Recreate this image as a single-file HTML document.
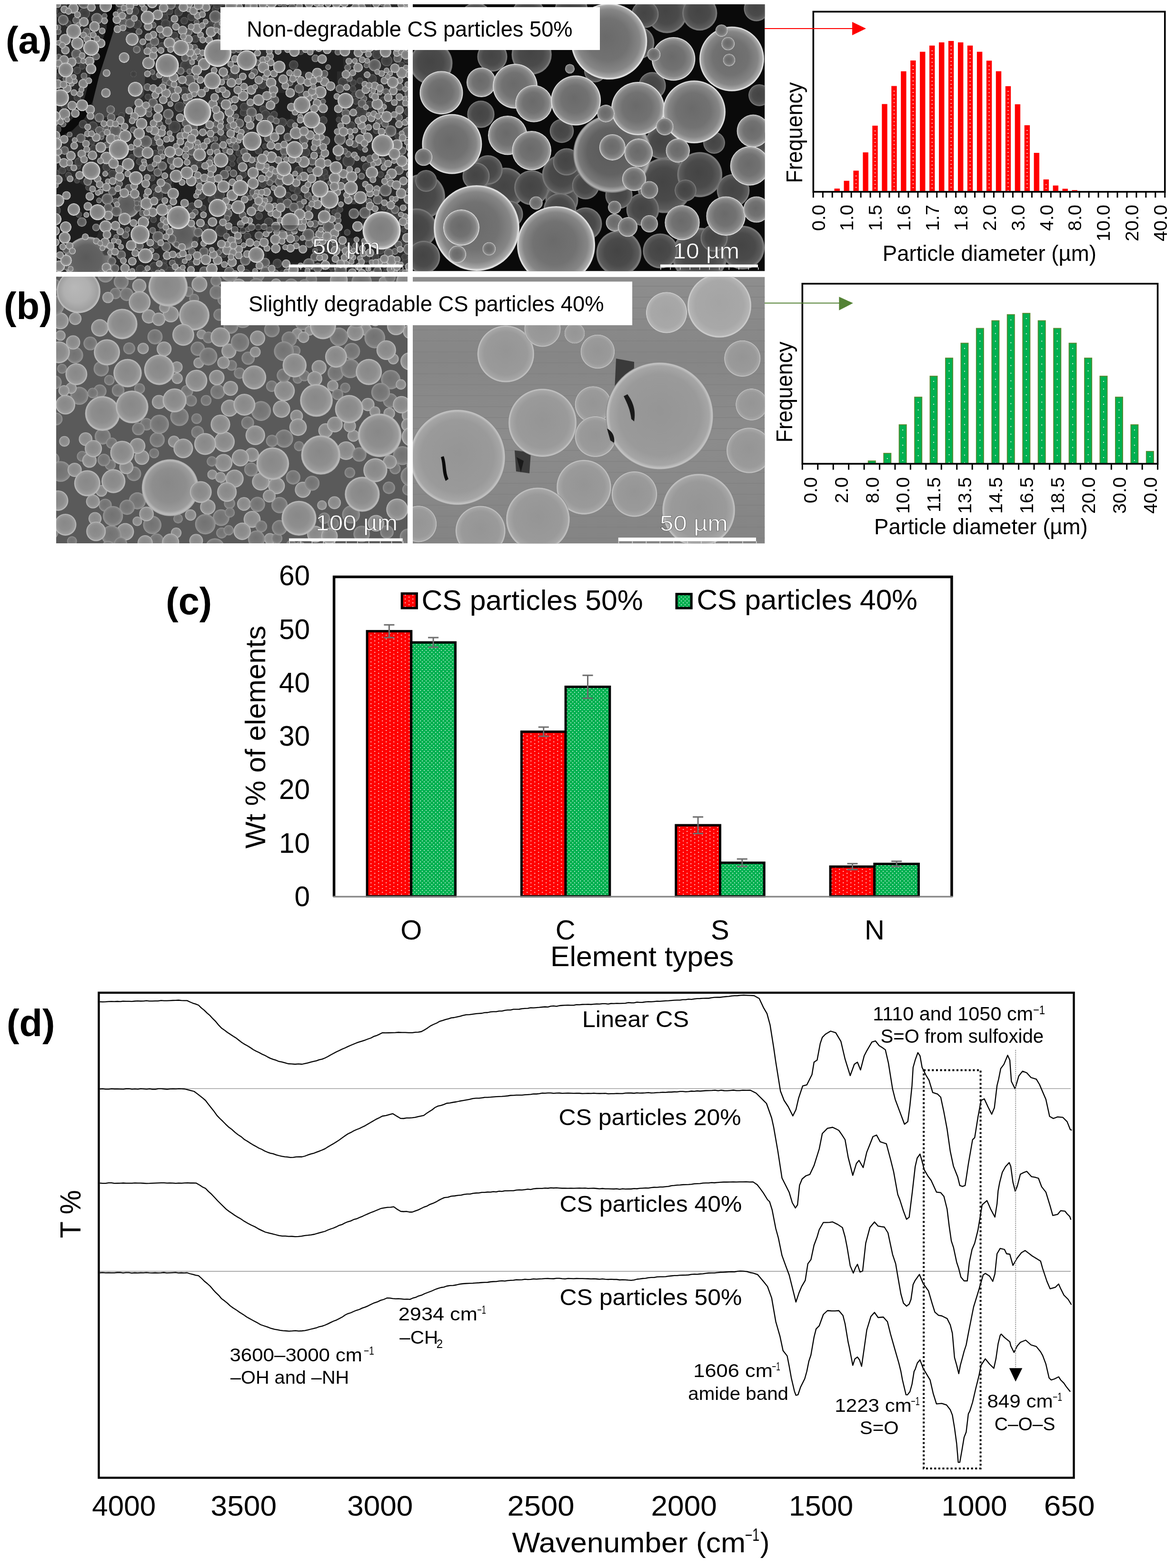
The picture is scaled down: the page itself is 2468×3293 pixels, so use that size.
<!DOCTYPE html>
<html><head><meta charset="utf-8"><title>Figure</title>
<style>html,body{margin:0;padding:0;background:#fff;width:2468px;height:3293px;overflow:hidden}svg{display:block}</style>
</head><body>
<svg width="2468" height="3293" viewBox="0 0 2468 3293" font-family="'Liberation Sans', Arial, sans-serif">
<defs>
<radialGradient id="gA" cx="0.5" cy="0.5" r="0.5" fx="0.45" fy="0.42">
 <stop offset="0" stop-color="#7e7e7e"/><stop offset="0.6" stop-color="#868686"/>
 <stop offset="0.82" stop-color="#9c9c9c"/><stop offset="0.92" stop-color="#c4c4c4"/><stop offset="0.97" stop-color="#f2f2f2"/><stop offset="1" stop-color="#9a9a9a"/>
</radialGradient>
<radialGradient id="gA2" cx="0.5" cy="0.5" r="0.5" fx="0.45" fy="0.42">
 <stop offset="0" stop-color="#5a5a5a"/><stop offset="0.6" stop-color="#626262"/>
 <stop offset="0.86" stop-color="#7a7a7a"/><stop offset="0.96" stop-color="#b0b0b0"/><stop offset="1" stop-color="#6a6a6a"/>
</radialGradient>
<radialGradient id="gAd" cx="0.5" cy="0.5" r="0.5">
 <stop offset="0" stop-color="#3c3c3c"/><stop offset="0.8" stop-color="#464646"/><stop offset="0.95" stop-color="#666"/><stop offset="1" stop-color="#3a3a3a"/>
</radialGradient>
<radialGradient id="gS" cx="0.5" cy="0.5" r="0.5" fx="0.46" fy="0.44">
 <stop offset="0" stop-color="#6a6a6a"/><stop offset="0.55" stop-color="#727272"/>
 <stop offset="0.82" stop-color="#868686"/><stop offset="0.94" stop-color="#a8a8a8"/><stop offset="0.985" stop-color="#ececec"/><stop offset="1" stop-color="#bdbdbd"/>
</radialGradient>
<radialGradient id="gSd" cx="0.5" cy="0.5" r="0.5" fx="0.46" fy="0.44">
 <stop offset="0" stop-color="#444444"/><stop offset="0.6" stop-color="#4a4a4a"/>
 <stop offset="0.88" stop-color="#5c5c5c"/><stop offset="0.97" stop-color="#808080"/><stop offset="1" stop-color="#5a5a5a"/>
</radialGradient>
<radialGradient id="gB" cx="0.5" cy="0.5" r="0.5" fx="0.45" fy="0.4">
 <stop offset="0" stop-color="#888"/><stop offset="0.6" stop-color="#8e8e8e"/>
 <stop offset="0.86" stop-color="#9c9c9c"/><stop offset="0.95" stop-color="#bcbcbc"/><stop offset="1" stop-color="#a8a8a8"/>
</radialGradient>
<radialGradient id="gBb" cx="0.5" cy="0.5" r="0.5" fx="0.4" fy="0.4">
 <stop offset="0" stop-color="#b8b8b8"/><stop offset="0.6" stop-color="#b0b0b0"/>
 <stop offset="0.9" stop-color="#a0a0a0"/><stop offset="1" stop-color="#c8c8c8"/>
</radialGradient>
<radialGradient id="gBd" cx="0.5" cy="0.5" r="0.5" fx="0.45" fy="0.4">
 <stop offset="0" stop-color="#727272"/><stop offset="0.7" stop-color="#7a7a7a"/>
 <stop offset="0.9" stop-color="#8a8a8a"/><stop offset="1" stop-color="#a0a0a0"/>
</radialGradient>
<radialGradient id="gC" cx="0.5" cy="0.5" r="0.5" fx="0.5" fy="0.45">
 <stop offset="0" stop-color="#959595"/><stop offset="0.75" stop-color="#9a9a9a"/>
 <stop offset="0.92" stop-color="#a6a6a6"/><stop offset="0.975" stop-color="#c6c6c6"/><stop offset="1" stop-color="#7a7a7a"/>
</radialGradient>
<radialGradient id="gCl" cx="0.5" cy="0.5" r="0.5" fx="0.5" fy="0.45">
 <stop offset="0" stop-color="#a4a4a4"/><stop offset="0.75" stop-color="#a8a8a8"/>
 <stop offset="0.93" stop-color="#b4b4b4"/><stop offset="0.98" stop-color="#d2d2d2"/><stop offset="1" stop-color="#8a8a8a"/>
</radialGradient>
<linearGradient id="gStripe" x1="0" y1="0" x2="0" y2="1">
 <stop offset="0" stop-color="#8e8e8e"/><stop offset="0.3" stop-color="#868686"/><stop offset="0.6" stop-color="#8c8c8c"/><stop offset="1" stop-color="#848484"/>
</linearGradient>

<pattern id="pR" width="16" height="8" patternUnits="userSpaceOnUse"><rect width="16" height="8" fill="#ff0000"/><rect x="2" y="1" width="2.4" height="2" fill="#ffb0b0"/><rect x="10" y="5" width="2.4" height="2" fill="#ffb0b0"/></pattern>
<pattern id="pG" width="8" height="8" patternUnits="userSpaceOnUse"><rect width="8" height="8" fill="#00b050"/><rect x="2" y="1" width="2.2" height="2" fill="#a8e4c0"/><rect x="6" y="5" width="2.2" height="2" fill="#a8e4c0"/></pattern>
</defs>
<rect width="2468" height="3293" fill="#fff"/>
<g><clipPath id="cA1"><rect x="118.5" y="9" width="738.5" height="562"/></clipPath>
<g clip-path="url(#cA1)">
<rect x="118.5" y="9" width="738.5" height="562" fill="#2a2a2a"/>
<polygon points="240.0,60.0 292.0,72.0 308.0,122.0 302.0,200.0 262.0,240.0 196.0,250.0 195.0,212.0 208.0,160.0 224.0,110.0" fill="#464646"/>
<polygon points="224.0,9.0 243.0,9.0 240.0,60.0 224.0,110.0 208.0,160.0 195.0,212.0 178.0,248.0 152.0,274.0 118.0,290.0 118.0,274.0 140.0,262.0 163.0,238.0 178.0,205.0 191.0,155.0 207.0,108.0 224.0,60.0" fill="#0a0a0a"/>
<polygon points="118.0,380.0 160.0,380.0 205.0,405.0 215.0,470.0 195.0,515.0 118.0,515.0" fill="#1e1e1e"/>
<polygon points="570.0,110.0 720.0,110.0 722.0,150.0 570.0,150.0" fill="#1e1e1e"/>
<polygon points="682.0,150.0 708.0,150.0 706.0,340.0 684.0,340.0" fill="#1e1e1e"/>
<polygon points="580.0,195.0 610.0,195.0 610.0,250.0 580.0,250.0" fill="#1e1e1e"/>
<polygon points="560.0,524.0 660.0,524.0 660.0,552.0 560.0,552.0" fill="#1e1e1e"/>
<polygon points="716.0,430.0 760.0,430.0 760.0,500.0 716.0,500.0" fill="#1e1e1e"/>
<polygon points="365.0,385.0 410.0,385.0 412.0,432.0 366.0,432.0" fill="#1e1e1e"/>
<circle cx="267.5" cy="432.3" r="25.7" fill="url(#gA2)"/>
<circle cx="385.8" cy="494.8" r="31.2" fill="url(#gA2)"/>
<circle cx="185.0" cy="548.0" r="51.0" fill="url(#gA2)"/>
<circle cx="431.3" cy="477.0" r="7.0" fill="url(#gAd)"/>
<circle cx="756.1" cy="169.7" r="7.0" fill="url(#gAd)"/>
<circle cx="523.5" cy="39.9" r="6.0" fill="url(#gAd)"/>
<circle cx="804.7" cy="210.8" r="8.0" fill="url(#gAd)"/>
<circle cx="426.5" cy="437.1" r="7.0" fill="url(#gAd)"/>
<circle cx="851.9" cy="394.5" r="9.0" fill="url(#gAd)"/>
<circle cx="853.0" cy="550.3" r="9.0" fill="url(#gAd)"/>
<circle cx="293.5" cy="339.4" r="8.0" fill="url(#gAd)"/>
<circle cx="501.5" cy="321.7" r="7.0" fill="url(#gAd)"/>
<circle cx="452.0" cy="19.9" r="7.0" fill="url(#gAd)"/>
<circle cx="769.6" cy="542.9" r="8.0" fill="url(#gAd)"/>
<circle cx="857.6" cy="235.0" r="9.0" fill="url(#gAd)"/>
<circle cx="366.5" cy="266.4" r="13.0" fill="url(#gAd)"/>
<circle cx="322.4" cy="461.4" r="7.0" fill="url(#gAd)"/>
<circle cx="848.4" cy="482.8" r="6.0" fill="url(#gAd)"/>
<circle cx="386.1" cy="192.1" r="10.0" fill="url(#gAd)"/>
<circle cx="355.7" cy="23.7" r="8.0" fill="url(#gAd)"/>
<circle cx="468.8" cy="291.6" r="8.0" fill="url(#gAd)"/>
<circle cx="552.7" cy="229.4" r="8.0" fill="url(#gAd)"/>
<circle cx="732.1" cy="338.1" r="13.0" fill="url(#gAd)"/>
<circle cx="624.6" cy="400.6" r="8.0" fill="url(#gAd)"/>
<circle cx="177.2" cy="27.9" r="12.0" fill="url(#gAd)"/>
<circle cx="746.4" cy="47.9" r="12.0" fill="url(#gAd)"/>
<circle cx="132.1" cy="6.1" r="10.0" fill="url(#gAd)"/>
<circle cx="806.2" cy="436.2" r="6.0" fill="url(#gAd)"/>
<circle cx="676.9" cy="372.6" r="8.0" fill="url(#gAd)"/>
<circle cx="859.4" cy="261.4" r="7.0" fill="url(#gAd)"/>
<circle cx="506.0" cy="337.4" r="9.0" fill="url(#gAd)"/>
<circle cx="283.2" cy="23.5" r="9.0" fill="url(#gAd)"/>
<circle cx="115.6" cy="164.0" r="9.0" fill="url(#gAd)"/>
<circle cx="714.8" cy="39.5" r="8.0" fill="url(#gAd)"/>
<circle cx="672.8" cy="518.0" r="9.0" fill="url(#gAd)"/>
<circle cx="799.5" cy="366.6" r="7.0" fill="url(#gAd)"/>
<circle cx="847.2" cy="509.3" r="7.0" fill="url(#gAd)"/>
<circle cx="162.0" cy="147.9" r="8.0" fill="url(#gAd)"/>
<circle cx="375.3" cy="25.4" r="9.0" fill="url(#gAd)"/>
<circle cx="339.3" cy="482.9" r="6.0" fill="url(#gAd)"/>
<circle cx="144.0" cy="368.0" r="7.0" fill="url(#gAd)"/>
<circle cx="627.1" cy="416.5" r="8.0" fill="url(#gAd)"/>
<circle cx="162.5" cy="204.7" r="8.0" fill="url(#gAd)"/>
<circle cx="361.1" cy="50.6" r="8.0" fill="url(#gAd)"/>
<circle cx="114.8" cy="23.3" r="7.0" fill="url(#gAd)"/>
<circle cx="511.3" cy="236.2" r="8.0" fill="url(#gAd)"/>
<circle cx="772.2" cy="12.7" r="8.0" fill="url(#gAd)"/>
<circle cx="464.9" cy="484.3" r="13.0" fill="url(#gAd)"/>
<circle cx="406.6" cy="338.8" r="11.0" fill="url(#gAd)"/>
<circle cx="615.9" cy="70.9" r="7.0" fill="url(#gAd)"/>
<circle cx="490.6" cy="159.4" r="10.0" fill="url(#gAd)"/>
<circle cx="797.3" cy="34.1" r="6.0" fill="url(#gAd)"/>
<circle cx="627.4" cy="357.6" r="9.0" fill="url(#gAd)"/>
<circle cx="345.1" cy="36.9" r="9.0" fill="url(#gAd)"/>
<circle cx="745.0" cy="197.8" r="7.0" fill="url(#gAd)"/>
<circle cx="391.1" cy="138.5" r="13.0" fill="url(#gAd)"/>
<circle cx="195.3" cy="264.9" r="10.0" fill="url(#gAd)"/>
<circle cx="592.4" cy="256.9" r="10.0" fill="url(#gAd)"/>
<circle cx="276.9" cy="330.8" r="7.0" fill="url(#gAd)"/>
<circle cx="116.7" cy="442.0" r="11.0" fill="url(#gAd)"/>
<circle cx="516.6" cy="575.0" r="10.0" fill="url(#gAd)"/>
<circle cx="687.8" cy="518.3" r="11.0" fill="url(#gAd)"/>
<circle cx="552.3" cy="386.2" r="8.0" fill="url(#gAd)"/>
<circle cx="402.2" cy="35.3" r="9.0" fill="url(#gAd)"/>
<circle cx="513.0" cy="224.6" r="9.0" fill="url(#gAd)"/>
<circle cx="353.8" cy="383.1" r="7.0" fill="url(#gAd)"/>
<circle cx="646.9" cy="27.1" r="6.0" fill="url(#gAd)"/>
<circle cx="374.8" cy="547.2" r="10.0" fill="url(#gAd)"/>
<circle cx="464.3" cy="211.6" r="7.0" fill="url(#gAd)"/>
<circle cx="856.1" cy="433.3" r="7.0" fill="url(#gAd)"/>
<circle cx="354.4" cy="209.5" r="7.0" fill="url(#gAd)"/>
<circle cx="741.9" cy="173.5" r="7.0" fill="url(#gAd)"/>
<circle cx="510.5" cy="366.5" r="8.0" fill="url(#gAd)"/>
<circle cx="582.5" cy="553.3" r="10.0" fill="url(#gAd)"/>
<circle cx="475.8" cy="22.1" r="6.0" fill="url(#gAd)"/>
<circle cx="355.4" cy="569.4" r="10.0" fill="url(#gAd)"/>
<circle cx="552.7" cy="86.3" r="13.0" fill="url(#gAd)"/>
<circle cx="551.3" cy="178.0" r="9.0" fill="url(#gAd)"/>
<circle cx="741.2" cy="186.6" r="7.0" fill="url(#gAd)"/>
<circle cx="681.2" cy="362.3" r="8.0" fill="url(#gAd)"/>
<circle cx="781.8" cy="165.7" r="10.0" fill="url(#gAd)"/>
<circle cx="424.2" cy="410.2" r="9.0" fill="url(#gAd)"/>
<circle cx="295.1" cy="565.9" r="10.0" fill="url(#gAd)"/>
<circle cx="272.2" cy="33.8" r="8.0" fill="url(#gAd)"/>
<circle cx="124.9" cy="157.9" r="6.0" fill="url(#gAd)"/>
<circle cx="588.5" cy="421.9" r="7.0" fill="url(#gAd)"/>
<circle cx="377.2" cy="224.4" r="11.0" fill="url(#gAd)"/>
<circle cx="604.8" cy="410.0" r="7.0" fill="url(#gAd)"/>
<circle cx="331.7" cy="410.4" r="11.0" fill="url(#gAd)"/>
<circle cx="222.6" cy="529.0" r="8.0" fill="url(#gAd)"/>
<circle cx="325.7" cy="321.6" r="7.0" fill="url(#gAd)"/>
<circle cx="402.1" cy="555.2" r="8.0" fill="url(#gAd)"/>
<circle cx="324.4" cy="561.1" r="11.0" fill="url(#gAd)"/>
<circle cx="236.0" cy="365.6" r="9.0" fill="url(#gAd)"/>
<circle cx="224.1" cy="350.9" r="9.0" fill="url(#gAd)"/>
<circle cx="134.7" cy="222.7" r="7.0" fill="url(#gAd)"/>
<circle cx="600.9" cy="87.0" r="9.0" fill="url(#gAd)"/>
<circle cx="791.6" cy="114.1" r="10.0" fill="url(#gAd)"/>
<circle cx="830.9" cy="453.4" r="8.0" fill="url(#gAd)"/>
<circle cx="812.3" cy="127.4" r="12.0" fill="url(#gAd)"/>
<circle cx="440.9" cy="53.0" r="9.0" fill="url(#gAd)"/>
<circle cx="366.5" cy="74.5" r="8.0" fill="url(#gAd)"/>
<circle cx="790.3" cy="274.4" r="7.0" fill="url(#gAd)"/>
<circle cx="340.4" cy="96.6" r="8.0" fill="url(#gAd)"/>
<circle cx="542.8" cy="316.3" r="8.0" fill="url(#gAd)"/>
<circle cx="769.6" cy="350.7" r="9.0" fill="url(#gAd)"/>
<circle cx="444.2" cy="419.5" r="8.0" fill="url(#gAd)"/>
<circle cx="174.4" cy="260.8" r="9.0" fill="url(#gAd)"/>
<circle cx="720.8" cy="172.8" r="11.0" fill="url(#gAd)"/>
<circle cx="614.3" cy="395.4" r="7.0" fill="url(#gAd)"/>
<circle cx="193.0" cy="297.7" r="7.0" fill="url(#gAd)"/>
<circle cx="441.3" cy="6.1" r="7.0" fill="url(#gAd)"/>
<circle cx="116.2" cy="575.1" r="8.0" fill="url(#gAd)"/>
<circle cx="611.1" cy="259.3" r="9.0" fill="url(#gAd)"/>
<circle cx="131.0" cy="357.8" r="8.0" fill="url(#gAd)"/>
<circle cx="310.9" cy="203.4" r="7.0" fill="url(#gAd)"/>
<circle cx="465.3" cy="78.9" r="8.0" fill="url(#gAd)"/>
<circle cx="419.1" cy="345.9" r="7.0" fill="url(#gAd)"/>
<circle cx="758.1" cy="234.5" r="13.0" fill="url(#gAd)"/>
<circle cx="487.1" cy="331.6" r="8.0" fill="url(#gAd)"/>
<circle cx="466.7" cy="4.3" r="8.0" fill="url(#gAd)"/>
<circle cx="830.9" cy="62.5" r="10.0" fill="url(#gAd)"/>
<circle cx="743.1" cy="422.5" r="6.0" fill="url(#gAd)"/>
<circle cx="853.7" cy="127.1" r="6.0" fill="url(#gAd)"/>
<circle cx="641.5" cy="319.7" r="10.0" fill="url(#gAd)"/>
<circle cx="403.4" cy="433.9" r="9.0" fill="url(#gAd)"/>
<circle cx="849.9" cy="539.7" r="7.0" fill="url(#gAd)"/>
<circle cx="125.7" cy="32.2" r="6.0" fill="url(#gAd)"/>
<circle cx="718.9" cy="66.4" r="9.0" fill="url(#gAd)"/>
<circle cx="564.3" cy="466.7" r="10.0" fill="url(#gAd)"/>
<circle cx="556.3" cy="307.0" r="6.0" fill="url(#gAd)"/>
<circle cx="788.7" cy="540.6" r="8.0" fill="url(#gAd)"/>
<circle cx="469.5" cy="534.3" r="7.0" fill="url(#gAd)"/>
<circle cx="387.0" cy="43.6" r="8.0" fill="url(#gAd)"/>
<circle cx="711.3" cy="251.2" r="6.0" fill="url(#gAd)"/>
<circle cx="678.9" cy="252.9" r="9.0" fill="url(#gAd)"/>
<circle cx="372.3" cy="10.1" r="7.0" fill="url(#gAd)"/>
<circle cx="324.7" cy="161.2" r="7.0" fill="url(#gAd)"/>
<circle cx="616.8" cy="136.4" r="10.0" fill="url(#gAd)"/>
<circle cx="197.4" cy="312.6" r="9.0" fill="url(#gAd)"/>
<circle cx="163.9" cy="350.2" r="6.0" fill="url(#gAd)"/>
<circle cx="631.3" cy="107.7" r="8.0" fill="url(#gAd)"/>
<circle cx="515.8" cy="409.3" r="6.0" fill="url(#gAd)"/>
<circle cx="460.1" cy="408.8" r="12.0" fill="url(#gAd)"/>
<circle cx="600.6" cy="70.9" r="12.0" fill="url(#gAd)"/>
<circle cx="529.0" cy="345.0" r="7.0" fill="url(#gAd)"/>
<circle cx="575.7" cy="241.0" r="8.0" fill="url(#gAd)"/>
<circle cx="699.1" cy="561.4" r="9.0" fill="url(#gAd)"/>
<circle cx="810.5" cy="573.8" r="8.0" fill="url(#gAd)"/>
<circle cx="120.8" cy="271.9" r="8.0" fill="url(#gAd)"/>
<circle cx="115.2" cy="364.9" r="10.0" fill="url(#gAd)"/>
<circle cx="517.0" cy="271.7" r="7.0" fill="url(#gAd)"/>
<circle cx="670.1" cy="315.7" r="7.0" fill="url(#gAd)"/>
<circle cx="751.6" cy="124.9" r="7.0" fill="url(#gAd)"/>
<circle cx="345.6" cy="548.8" r="6.0" fill="url(#gAd)"/>
<circle cx="750.3" cy="95.6" r="10.0" fill="url(#gAd)"/>
<circle cx="324.8" cy="393.9" r="7.0" fill="url(#gAd)"/>
<circle cx="519.8" cy="496.6" r="8.0" fill="url(#gAd)"/>
<circle cx="744.7" cy="561.8" r="6.0" fill="url(#gAd)"/>
<circle cx="161.7" cy="379.6" r="6.0" fill="url(#gAd)"/>
<circle cx="142.9" cy="49.2" r="7.0" fill="url(#gAd)"/>
<circle cx="591.9" cy="573.0" r="6.0" fill="url(#gAd)"/>
<circle cx="798.7" cy="526.5" r="8.0" fill="url(#gAd)"/>
<circle cx="757.5" cy="308.9" r="7.0" fill="url(#gAd)"/>
<circle cx="488.1" cy="344.3" r="6.0" fill="url(#gAd)"/>
<circle cx="347.8" cy="50.4" r="10.0" fill="url(#gAd)"/>
<circle cx="280.5" cy="155.5" r="7.0" fill="url(#gAd)"/>
<circle cx="434.4" cy="272.3" r="8.0" fill="url(#gAd)"/>
<circle cx="334.0" cy="6.4" r="6.0" fill="url(#gAd)"/>
<circle cx="343.8" cy="560.1" r="9.0" fill="url(#gAd)"/>
<circle cx="473.3" cy="267.5" r="7.0" fill="url(#gAd)"/>
<circle cx="569.7" cy="91.6" r="7.0" fill="url(#gAd)"/>
<circle cx="736.8" cy="264.6" r="10.0" fill="url(#gAd)"/>
<circle cx="634.3" cy="197.6" r="8.0" fill="url(#gAd)"/>
<circle cx="557.7" cy="240.7" r="10.0" fill="url(#gAd)"/>
<circle cx="165.4" cy="450.4" r="7.0" fill="url(#gAd)"/>
<circle cx="589.4" cy="479.7" r="6.0" fill="url(#gAd)"/>
<circle cx="456.5" cy="10.7" r="9.0" fill="url(#gAd)"/>
<circle cx="575.5" cy="276.3" r="6.0" fill="url(#gAd)"/>
<circle cx="319.3" cy="373.8" r="7.0" fill="url(#gAd)"/>
<circle cx="544.3" cy="453.8" r="8.0" fill="url(#gAd)"/>
<circle cx="410.2" cy="81.8" r="8.0" fill="url(#gAd)"/>
<circle cx="186.1" cy="393.7" r="7.0" fill="url(#gAd)"/>
<circle cx="373.3" cy="177.1" r="6.0" fill="url(#gAd)"/>
<circle cx="288.0" cy="51.0" r="10.0" fill="url(#gAd)"/>
<circle cx="172.3" cy="105.2" r="9.0" fill="url(#gAd)"/>
<circle cx="165.4" cy="340.1" r="9.0" fill="url(#gAd)"/>
<circle cx="526.9" cy="224.2" r="6.0" fill="url(#gAd)"/>
<circle cx="776.1" cy="219.5" r="8.0" fill="url(#gAd)"/>
<circle cx="410.1" cy="502.4" r="7.0" fill="url(#gAd)"/>
<circle cx="595.7" cy="6.2" r="8.0" fill="url(#gAd)"/>
<circle cx="843.5" cy="136.5" r="7.0" fill="url(#gAd)"/>
<circle cx="327.4" cy="515.3" r="7.0" fill="url(#gAd)"/>
<circle cx="747.4" cy="212.9" r="7.0" fill="url(#gAd)"/>
<circle cx="714.0" cy="439.9" r="7.0" fill="url(#gAd)"/>
<circle cx="723.3" cy="377.0" r="6.0" fill="url(#gAd)"/>
<circle cx="182.2" cy="321.6" r="6.0" fill="url(#gAd)"/>
<circle cx="700.1" cy="570.4" r="6.0" fill="url(#gAd)"/>
<circle cx="396.8" cy="443.6" r="7.0" fill="url(#gAd)"/>
<circle cx="685.6" cy="371.0" r="6.0" fill="url(#gAd)"/>
<circle cx="729.4" cy="488.1" r="7.0" fill="url(#gAd)"/>
<circle cx="810.3" cy="562.0" r="6.0" fill="url(#gAd)"/>
<circle cx="323.3" cy="297.2" r="9.0" fill="url(#gAd)"/>
<circle cx="255.2" cy="242.7" r="7.0" fill="url(#gAd)"/>
<circle cx="835.7" cy="286.0" r="7.0" fill="url(#gAd)"/>
<circle cx="740.1" cy="133.8" r="7.0" fill="url(#gAd)"/>
<circle cx="840.6" cy="217.0" r="10.0" fill="url(#gAd)"/>
<circle cx="400.1" cy="326.8" r="6.0" fill="url(#gAd)"/>
<circle cx="657.6" cy="479.2" r="7.0" fill="url(#gAd)"/>
<circle cx="818.9" cy="444.0" r="7.0" fill="url(#gAd)"/>
<circle cx="702.1" cy="445.2" r="6.0" fill="url(#gAd)"/>
<circle cx="145.4" cy="353.1" r="6.0" fill="url(#gAd)"/>
<circle cx="172.7" cy="139.1" r="7.0" fill="url(#gAd)"/>
<circle cx="820.6" cy="275.2" r="12.0" fill="url(#gA2)"/>
<circle cx="649.9" cy="511.4" r="9.0" fill="url(#gA2)"/>
<circle cx="324.5" cy="87.3" r="10.0" fill="url(#gA2)"/>
<circle cx="603.7" cy="427.2" r="10.0" fill="url(#gA2)"/>
<circle cx="160.1" cy="42.5" r="8.0" fill="url(#gA2)"/>
<circle cx="515.2" cy="546.8" r="11.0" fill="url(#gA2)"/>
<circle cx="656.0" cy="101.2" r="7.0" fill="url(#gA2)"/>
<circle cx="717.2" cy="87.6" r="11.0" fill="url(#gA2)"/>
<circle cx="428.3" cy="528.9" r="10.0" fill="url(#gA2)"/>
<circle cx="242.5" cy="274.8" r="13.0" fill="url(#gA2)"/>
<circle cx="203.6" cy="39.3" r="12.0" fill="url(#gA2)"/>
<circle cx="452.1" cy="309.0" r="10.0" fill="url(#gA2)"/>
<circle cx="340.1" cy="74.0" r="7.0" fill="url(#gA2)"/>
<circle cx="176.4" cy="159.5" r="7.0" fill="url(#gA2)"/>
<circle cx="292.0" cy="66.6" r="7.0" fill="url(#gA2)"/>
<circle cx="299.3" cy="448.0" r="7.0" fill="url(#gA2)"/>
<circle cx="225.4" cy="418.2" r="12.0" fill="url(#gA2)"/>
<circle cx="638.2" cy="293.2" r="10.0" fill="url(#gA2)"/>
<circle cx="289.2" cy="436.7" r="8.0" fill="url(#gA2)"/>
<circle cx="667.3" cy="562.1" r="10.0" fill="url(#gA2)"/>
<circle cx="403.1" cy="528.3" r="8.0" fill="url(#gA2)"/>
<circle cx="361.5" cy="189.6" r="9.0" fill="url(#gA2)"/>
<circle cx="861.1" cy="341.0" r="9.0" fill="url(#gA2)"/>
<circle cx="327.3" cy="539.2" r="8.0" fill="url(#gA2)"/>
<circle cx="524.6" cy="415.6" r="6.0" fill="url(#gA2)"/>
<circle cx="208.8" cy="274.1" r="9.0" fill="url(#gA2)"/>
<circle cx="408.7" cy="99.7" r="7.0" fill="url(#gA2)"/>
<circle cx="169.8" cy="290.3" r="10.0" fill="url(#gA2)"/>
<circle cx="490.3" cy="364.1" r="8.0" fill="url(#gA2)"/>
<circle cx="208.7" cy="247.2" r="10.0" fill="url(#gA2)"/>
<circle cx="747.1" cy="515.9" r="7.0" fill="url(#gA2)"/>
<circle cx="648.7" cy="554.5" r="12.0" fill="url(#gA2)"/>
<circle cx="685.2" cy="60.9" r="8.0" fill="url(#gA2)"/>
<circle cx="308.8" cy="456.2" r="6.0" fill="url(#gA2)"/>
<circle cx="839.4" cy="182.3" r="8.0" fill="url(#gA2)"/>
<circle cx="219.7" cy="33.7" r="6.0" fill="url(#gA2)"/>
<circle cx="774.9" cy="423.1" r="7.0" fill="url(#gA2)"/>
<circle cx="810.8" cy="192.3" r="7.0" fill="url(#gA2)"/>
<circle cx="835.3" cy="122.6" r="9.0" fill="url(#gA2)"/>
<circle cx="212.8" cy="288.0" r="6.0" fill="url(#gA2)"/>
<circle cx="474.0" cy="315.5" r="7.0" fill="url(#gA2)"/>
<circle cx="428.7" cy="569.4" r="10.0" fill="url(#gA2)"/>
<circle cx="769.8" cy="137.2" r="6.0" fill="url(#gA2)"/>
<circle cx="258.8" cy="47.0" r="10.0" fill="url(#gA2)"/>
<circle cx="693.6" cy="384.2" r="6.0" fill="url(#gA2)"/>
<circle cx="661.6" cy="526.8" r="6.0" fill="url(#gA2)"/>
<circle cx="726.4" cy="237.9" r="9.0" fill="url(#gA2)"/>
<circle cx="236.0" cy="401.8" r="9.0" fill="url(#gA2)"/>
<circle cx="416.3" cy="488.1" r="10.0" fill="url(#gA2)"/>
<circle cx="490.4" cy="106.3" r="6.0" fill="url(#gA2)"/>
<circle cx="714.0" cy="292.5" r="12.0" fill="url(#gA2)"/>
<circle cx="132.9" cy="42.0" r="11.0" fill="url(#gA2)"/>
<circle cx="661.5" cy="470.2" r="8.0" fill="url(#gA2)"/>
<circle cx="829.5" cy="528.0" r="7.0" fill="url(#gA2)"/>
<circle cx="331.3" cy="361.9" r="9.0" fill="url(#gA2)"/>
<circle cx="479.1" cy="354.4" r="6.0" fill="url(#gA2)"/>
<circle cx="345.1" cy="175.8" r="6.0" fill="url(#gA2)"/>
<circle cx="371.6" cy="85.1" r="6.0" fill="url(#gA2)"/>
<circle cx="557.0" cy="551.5" r="10.0" fill="url(#gA2)"/>
<circle cx="820.0" cy="76.6" r="11.0" fill="url(#gA2)"/>
<circle cx="359.0" cy="10.1" r="10.0" fill="url(#gA2)"/>
<circle cx="520.2" cy="96.0" r="8.0" fill="url(#gA2)"/>
<circle cx="270.8" cy="395.5" r="9.0" fill="url(#gA2)"/>
<circle cx="733.2" cy="522.1" r="7.0" fill="url(#gA2)"/>
<circle cx="273.0" cy="49.0" r="10.0" fill="url(#gA2)"/>
<circle cx="597.4" cy="15.8" r="6.0" fill="url(#gA2)"/>
<circle cx="184.2" cy="381.0" r="9.0" fill="url(#gA2)"/>
<circle cx="528.4" cy="236.2" r="11.0" fill="url(#gA2)"/>
<circle cx="534.2" cy="151.6" r="8.0" fill="url(#gA2)"/>
<circle cx="251.8" cy="23.6" r="6.0" fill="url(#gA2)"/>
<circle cx="486.1" cy="302.7" r="7.0" fill="url(#gA2)"/>
<circle cx="558.0" cy="572.1" r="12.0" fill="url(#gA2)"/>
<circle cx="647.6" cy="493.3" r="13.0" fill="url(#gA2)"/>
<circle cx="457.6" cy="54.2" r="9.0" fill="url(#gA2)"/>
<circle cx="759.4" cy="370.0" r="7.0" fill="url(#gA2)"/>
<circle cx="306.5" cy="297.6" r="13.0" fill="url(#gA2)"/>
<circle cx="463.7" cy="526.0" r="6.0" fill="url(#gA2)"/>
<circle cx="312.9" cy="239.5" r="7.0" fill="url(#gA2)"/>
<circle cx="744.8" cy="302.4" r="8.0" fill="url(#gA2)"/>
<circle cx="543.8" cy="494.8" r="9.0" fill="url(#gA2)"/>
<circle cx="502.6" cy="259.0" r="10.0" fill="url(#gA2)"/>
<circle cx="122.1" cy="66.4" r="7.0" fill="url(#gA2)"/>
<circle cx="188.7" cy="73.6" r="6.0" fill="url(#gA2)"/>
<circle cx="402.9" cy="317.8" r="9.0" fill="url(#gA2)"/>
<circle cx="235.0" cy="548.6" r="9.0" fill="url(#gA2)"/>
<circle cx="320.6" cy="483.9" r="7.0" fill="url(#gA2)"/>
<circle cx="337.9" cy="310.8" r="8.0" fill="url(#gA2)"/>
<circle cx="244.6" cy="443.8" r="11.0" fill="url(#gA2)"/>
<circle cx="160.7" cy="113.6" r="11.0" fill="url(#gA2)"/>
<circle cx="349.1" cy="518.2" r="10.0" fill="url(#gA2)"/>
<circle cx="340.8" cy="348.7" r="10.0" fill="url(#gA2)"/>
<circle cx="846.7" cy="42.6" r="12.0" fill="url(#gA2)"/>
<circle cx="316.3" cy="352.3" r="8.0" fill="url(#gA2)"/>
<circle cx="569.0" cy="250.4" r="8.0" fill="url(#gA2)"/>
<circle cx="733.8" cy="164.8" r="7.0" fill="url(#gA2)"/>
<circle cx="809.8" cy="399.6" r="13.0" fill="url(#gA2)"/>
<circle cx="452.4" cy="35.1" r="13.0" fill="url(#gA2)"/>
<circle cx="731.1" cy="323.8" r="7.0" fill="url(#gA2)"/>
<circle cx="723.8" cy="317.6" r="7.0" fill="url(#gA2)"/>
<circle cx="790.1" cy="98.1" r="8.0" fill="url(#gA2)"/>
<circle cx="648.4" cy="436.9" r="7.0" fill="url(#gA2)"/>
<circle cx="139.1" cy="524.7" r="8.0" fill="url(#gA2)"/>
<circle cx="766.5" cy="446.9" r="12.0" fill="url(#gA2)"/>
<circle cx="410.0" cy="445.8" r="7.0" fill="url(#gA2)"/>
<circle cx="803.0" cy="337.7" r="7.0" fill="url(#gA2)"/>
<circle cx="320.0" cy="151.3" r="6.0" fill="url(#gA2)"/>
<circle cx="244.1" cy="497.8" r="6.0" fill="url(#gA2)"/>
<circle cx="510.2" cy="484.2" r="7.0" fill="url(#gA2)"/>
<circle cx="597.2" cy="318.0" r="9.0" fill="url(#gA2)"/>
<circle cx="764.3" cy="207.2" r="7.0" fill="url(#gA2)"/>
<circle cx="309.9" cy="183.1" r="8.0" fill="url(#gA2)"/>
<circle cx="496.0" cy="244.4" r="6.0" fill="url(#gA2)"/>
<circle cx="793.4" cy="419.6" r="10.0" fill="url(#gA2)"/>
<circle cx="459.1" cy="530.7" r="6.0" fill="url(#gA2)"/>
<circle cx="353.7" cy="254.7" r="7.0" fill="url(#gA2)"/>
<circle cx="227.3" cy="437.0" r="10.0" fill="url(#gA2)"/>
<circle cx="608.5" cy="489.1" r="9.0" fill="url(#gA2)"/>
<circle cx="398.6" cy="168.4" r="12.0" fill="url(#gA2)"/>
<circle cx="515.5" cy="21.4" r="7.0" fill="url(#gA2)"/>
<circle cx="655.8" cy="338.6" r="9.0" fill="url(#gA2)"/>
<circle cx="756.1" cy="197.6" r="10.0" fill="url(#gA2)"/>
<circle cx="702.5" cy="512.9" r="6.0" fill="url(#gA2)"/>
<circle cx="844.4" cy="316.4" r="9.0" fill="url(#gA2)"/>
<circle cx="740.1" cy="413.9" r="6.0" fill="url(#gA2)"/>
<circle cx="630.4" cy="430.7" r="9.0" fill="url(#gA2)"/>
<circle cx="539.9" cy="131.7" r="7.0" fill="url(#gA2)"/>
<circle cx="481.8" cy="571.3" r="11.0" fill="url(#gA2)"/>
<circle cx="614.0" cy="17.1" r="9.0" fill="url(#gA2)"/>
<circle cx="787.2" cy="137.0" r="13.0" fill="url(#gA2)"/>
<circle cx="574.6" cy="373.7" r="10.0" fill="url(#gA2)"/>
<circle cx="254.5" cy="535.4" r="10.0" fill="url(#gA2)"/>
<circle cx="710.2" cy="462.7" r="7.0" fill="url(#gA2)"/>
<circle cx="451.9" cy="271.9" r="8.0" fill="url(#gA2)"/>
<circle cx="690.8" cy="477.0" r="13.0" fill="url(#gA2)"/>
<circle cx="580.4" cy="254.1" r="7.0" fill="url(#gA2)"/>
<circle cx="396.6" cy="67.1" r="8.0" fill="url(#gA2)"/>
<circle cx="715.4" cy="570.6" r="13.0" fill="url(#gA2)"/>
<circle cx="777.4" cy="333.9" r="9.0" fill="url(#gA2)"/>
<circle cx="211.5" cy="575.3" r="7.0" fill="url(#gA2)"/>
<circle cx="287.3" cy="104.0" r="8.0" fill="url(#gA2)"/>
<circle cx="646.5" cy="410.4" r="8.0" fill="url(#gA2)"/>
<circle cx="587.5" cy="381.6" r="10.0" fill="url(#gA2)"/>
<circle cx="628.5" cy="186.1" r="10.0" fill="url(#gA2)"/>
<circle cx="321.5" cy="215.9" r="10.0" fill="url(#gA2)"/>
<circle cx="123.3" cy="120.0" r="7.0" fill="url(#gA2)"/>
<circle cx="391.8" cy="213.1" r="7.0" fill="url(#gA2)"/>
<circle cx="730.2" cy="142.1" r="7.0" fill="url(#gA2)"/>
<circle cx="843.7" cy="571.8" r="6.0" fill="url(#gA2)"/>
<circle cx="452.3" cy="291.8" r="6.0" fill="url(#gA2)"/>
<circle cx="857.4" cy="195.6" r="8.0" fill="url(#gA2)"/>
<circle cx="662.4" cy="122.6" r="8.0" fill="url(#gA2)"/>
<circle cx="263.3" cy="493.3" r="8.0" fill="url(#gA2)"/>
<circle cx="251.1" cy="6.7" r="9.0" fill="url(#gA2)"/>
<circle cx="537.7" cy="434.8" r="9.0" fill="url(#gA2)"/>
<circle cx="332.1" cy="497.5" r="12.0" fill="url(#gA2)"/>
<circle cx="442.6" cy="292.1" r="7.0" fill="url(#gA2)"/>
<circle cx="795.3" cy="255.6" r="7.0" fill="url(#gA2)"/>
<circle cx="313.7" cy="229.8" r="6.0" fill="url(#gA2)"/>
<circle cx="122.5" cy="57.6" r="6.0" fill="url(#gA2)"/>
<circle cx="471.3" cy="366.8" r="10.0" fill="url(#gA2)"/>
<circle cx="348.2" cy="395.0" r="12.0" fill="url(#gA2)"/>
<circle cx="146.3" cy="282.6" r="6.0" fill="url(#gA2)"/>
<circle cx="684.3" cy="41.3" r="8.0" fill="url(#gA2)"/>
<circle cx="135.8" cy="315.9" r="9.0" fill="url(#gA2)"/>
<circle cx="793.0" cy="569.1" r="9.0" fill="url(#gA2)"/>
<circle cx="243.0" cy="422.5" r="7.0" fill="url(#gA2)"/>
<circle cx="836.8" cy="513.7" r="8.0" fill="url(#gA2)"/>
<circle cx="321.6" cy="52.6" r="7.0" fill="url(#gA2)"/>
<circle cx="838.1" cy="246.9" r="8.0" fill="url(#gA2)"/>
<circle cx="181.9" cy="66.4" r="8.0" fill="url(#gA2)"/>
<circle cx="114.4" cy="140.2" r="8.0" fill="url(#gA2)"/>
<circle cx="359.6" cy="336.9" r="9.0" fill="url(#gA2)"/>
<circle cx="399.6" cy="121.4" r="6.0" fill="url(#gA2)"/>
<circle cx="709.8" cy="109.4" r="7.0" fill="url(#gA2)"/>
<circle cx="860.1" cy="400.5" r="7.0" fill="url(#gA2)"/>
<circle cx="806.8" cy="29.6" r="8.0" fill="url(#gA2)"/>
<circle cx="353.6" cy="239.7" r="11.0" fill="url(#gA2)"/>
<circle cx="442.3" cy="333.2" r="6.0" fill="url(#gA2)"/>
<circle cx="816.3" cy="531.6" r="10.0" fill="url(#gA2)"/>
<circle cx="495.3" cy="308.6" r="8.0" fill="url(#gA2)"/>
<circle cx="379.6" cy="149.1" r="8.0" fill="url(#gA2)"/>
<circle cx="858.8" cy="523.3" r="12.0" fill="url(#gA2)"/>
<circle cx="829.8" cy="440.1" r="9.0" fill="url(#gA2)"/>
<circle cx="385.9" cy="274.4" r="6.0" fill="url(#gA2)"/>
<circle cx="760.4" cy="217.4" r="9.0" fill="url(#gA2)"/>
<circle cx="508.8" cy="43.2" r="9.0" fill="url(#gA2)"/>
<circle cx="542.5" cy="477.2" r="7.0" fill="url(#gA2)"/>
<circle cx="838.0" cy="357.4" r="10.0" fill="url(#gA2)"/>
<circle cx="171.9" cy="466.3" r="10.0" fill="url(#gA2)"/>
<circle cx="337.9" cy="473.1" r="7.0" fill="url(#gA2)"/>
<circle cx="337.6" cy="320.0" r="6.0" fill="url(#gA2)"/>
<circle cx="617.3" cy="435.4" r="10.0" fill="url(#gA2)"/>
<circle cx="776.3" cy="44.8" r="6.0" fill="url(#gA2)"/>
<circle cx="233.6" cy="246.7" r="9.0" fill="url(#gA2)"/>
<circle cx="604.5" cy="288.1" r="9.0" fill="url(#gA2)"/>
<circle cx="678.7" cy="213.0" r="6.0" fill="url(#gA2)"/>
<circle cx="397.8" cy="150.0" r="6.0" fill="url(#gA2)"/>
<circle cx="288.6" cy="418.7" r="8.0" fill="url(#gA2)"/>
<circle cx="335.7" cy="260.6" r="7.0" fill="url(#gA2)"/>
<circle cx="689.2" cy="140.9" r="6.0" fill="url(#gA2)"/>
<circle cx="512.8" cy="318.7" r="8.0" fill="url(#gA2)"/>
<circle cx="201.8" cy="477.7" r="8.0" fill="url(#gA2)"/>
<circle cx="481.4" cy="265.6" r="7.0" fill="url(#gA2)"/>
<circle cx="713.8" cy="186.2" r="9.0" fill="url(#gA2)"/>
<circle cx="687.4" cy="441.6" r="6.0" fill="url(#gA2)"/>
<circle cx="313.4" cy="97.2" r="7.0" fill="url(#gA2)"/>
<circle cx="618.0" cy="414.2" r="7.0" fill="url(#gA2)"/>
<circle cx="478.8" cy="448.7" r="9.0" fill="url(#gA2)"/>
<circle cx="609.1" cy="174.1" r="7.0" fill="url(#gA2)"/>
<circle cx="861.9" cy="220.5" r="8.0" fill="url(#gA2)"/>
<circle cx="176.4" cy="5.1" r="13.0" fill="url(#gA2)"/>
<circle cx="251.1" cy="386.3" r="7.0" fill="url(#gA2)"/>
<circle cx="360.4" cy="501.5" r="10.0" fill="url(#gA2)"/>
<circle cx="710.5" cy="330.7" r="6.0" fill="url(#gA2)"/>
<circle cx="709.4" cy="453.2" r="7.0" fill="url(#gA2)"/>
<circle cx="267.5" cy="482.2" r="6.0" fill="url(#gA2)"/>
<circle cx="652.8" cy="416.6" r="6.0" fill="url(#gA2)"/>
<circle cx="849.4" cy="21.8" r="9.0" fill="url(#gA2)"/>
<circle cx="855.8" cy="278.3" r="12.0" fill="url(#gA2)"/>
<circle cx="565.5" cy="418.5" r="7.0" fill="url(#gA2)"/>
<circle cx="587.6" cy="7.1" r="6.0" fill="url(#gA2)"/>
<circle cx="388.4" cy="121.5" r="8.0" fill="url(#gA2)"/>
<circle cx="280.1" cy="273.0" r="7.0" fill="url(#gA2)"/>
<circle cx="287.7" cy="426.8" r="6.0" fill="url(#gA2)"/>
<circle cx="808.9" cy="260.1" r="8.0" fill="url(#gA2)"/>
<circle cx="801.4" cy="47.4" r="8.0" fill="url(#gA2)"/>
<circle cx="690.4" cy="24.3" r="9.0" fill="url(#gA2)"/>
<circle cx="224.2" cy="304.2" r="7.0" fill="url(#gA2)"/>
<circle cx="348.0" cy="167.2" r="8.0" fill="url(#gA2)"/>
<circle cx="661.0" cy="539.8" r="9.0" fill="url(#gA2)"/>
<circle cx="528.7" cy="249.9" r="6.0" fill="url(#gA2)"/>
<circle cx="371.1" cy="513.0" r="6.0" fill="url(#gA2)"/>
<circle cx="804.3" cy="6.8" r="7.0" fill="url(#gA2)"/>
<circle cx="596.9" cy="329.2" r="6.0" fill="url(#gA2)"/>
<circle cx="202.0" cy="118.4" r="8.0" fill="url(#gA2)"/>
<circle cx="291.7" cy="319.0" r="12.0" fill="url(#gA2)"/>
<circle cx="651.1" cy="356.9" r="6.0" fill="url(#gA2)"/>
<circle cx="577.2" cy="210.2" r="9.0" fill="url(#gA2)"/>
<circle cx="419.2" cy="123.2" r="7.0" fill="url(#gA2)"/>
<circle cx="406.5" cy="267.6" r="9.0" fill="url(#gA2)"/>
<circle cx="222.5" cy="267.0" r="7.0" fill="url(#gA2)"/>
<circle cx="390.8" cy="258.4" r="9.0" fill="url(#gA2)"/>
<circle cx="621.6" cy="500.9" r="7.0" fill="url(#gA2)"/>
<circle cx="501.3" cy="505.1" r="7.0" fill="url(#gA2)"/>
<circle cx="531.4" cy="404.2" r="8.0" fill="url(#gA2)"/>
<circle cx="566.7" cy="383.5" r="7.0" fill="url(#gA2)"/>
<circle cx="426.3" cy="22.6" r="6.0" fill="url(#gA2)"/>
<circle cx="475.8" cy="496.2" r="7.0" fill="url(#gA2)"/>
<circle cx="683.5" cy="295.6" r="10.0" fill="url(#gA2)"/>
<circle cx="501.1" cy="104.2" r="7.0" fill="url(#gA2)"/>
<circle cx="304.4" cy="574.2" r="7.0" fill="url(#gA2)"/>
<circle cx="356.2" cy="174.0" r="7.0" fill="url(#gA2)"/>
<circle cx="241.6" cy="563.7" r="9.0" fill="url(#gA2)"/>
<circle cx="538.5" cy="335.0" r="6.0" fill="url(#gA2)"/>
<circle cx="593.6" cy="94.1" r="7.0" fill="url(#gA2)"/>
<circle cx="165.1" cy="126.2" r="8.0" fill="url(#gA2)"/>
<circle cx="476.6" cy="458.7" r="7.0" fill="url(#gA2)"/>
<circle cx="788.0" cy="85.7" r="7.0" fill="url(#gA2)"/>
<circle cx="578.2" cy="574.0" r="8.0" fill="url(#gA2)"/>
<circle cx="562.9" cy="290.4" r="8.0" fill="url(#gA2)"/>
<circle cx="861.1" cy="19.3" r="8.0" fill="url(#gA2)"/>
<circle cx="681.5" cy="155.0" r="8.0" fill="url(#gA2)"/>
<circle cx="826.0" cy="423.1" r="6.0" fill="url(#gA2)"/>
<circle cx="507.5" cy="93.3" r="6.0" fill="url(#gA2)"/>
<circle cx="214.6" cy="281.3" r="6.0" fill="url(#gA2)"/>
<circle cx="232.4" cy="230.2" r="9.0" fill="url(#gA2)"/>
<circle cx="743.3" cy="448.6" r="11.0" fill="url(#gA2)"/>
<circle cx="292.9" cy="516.0" r="9.0" fill="url(#gA2)"/>
<circle cx="138.4" cy="560.4" r="7.0" fill="url(#gA2)"/>
<circle cx="137.4" cy="165.2" r="6.0" fill="url(#gA2)"/>
<circle cx="419.0" cy="379.2" r="7.0" fill="url(#gA2)"/>
<circle cx="509.5" cy="451.6" r="8.0" fill="url(#gA2)"/>
<circle cx="718.5" cy="519.1" r="8.0" fill="url(#gA2)"/>
<circle cx="455.6" cy="259.6" r="8.0" fill="url(#gA2)"/>
<circle cx="208.1" cy="421.0" r="6.0" fill="url(#gA2)"/>
<circle cx="412.9" cy="46.7" r="6.0" fill="url(#gA2)"/>
<circle cx="133.1" cy="261.3" r="6.0" fill="url(#gA2)"/>
<circle cx="474.2" cy="161.5" r="7.0" fill="url(#gA2)"/>
<circle cx="684.8" cy="70.9" r="7.0" fill="url(#gA2)"/>
<circle cx="361.9" cy="552.2" r="7.0" fill="url(#gA2)"/>
<circle cx="355.9" cy="90.3" r="12.0" fill="url(#gA)"/>
<circle cx="156.9" cy="294.3" r="6.0" fill="url(#gA)"/>
<circle cx="822.7" cy="364.7" r="11.0" fill="url(#gA)"/>
<circle cx="150.6" cy="130.5" r="10.0" fill="url(#gA)"/>
<circle cx="518.2" cy="330.6" r="10.0" fill="url(#gA)"/>
<circle cx="724.4" cy="107.4" r="11.0" fill="url(#gA)"/>
<circle cx="541.0" cy="111.5" r="7.0" fill="url(#gA)"/>
<circle cx="576.8" cy="287.9" r="10.0" fill="url(#gA)"/>
<circle cx="708.1" cy="403.8" r="8.0" fill="url(#gA)"/>
<circle cx="174.8" cy="175.7" r="10.0" fill="url(#gA)"/>
<circle cx="569.3" cy="45.9" r="10.0" fill="url(#gA)"/>
<circle cx="812.1" cy="245.2" r="12.0" fill="url(#gA)"/>
<circle cx="171.6" cy="323.2" r="9.0" fill="url(#gA)"/>
<circle cx="368.1" cy="204.3" r="10.0" fill="url(#gA)"/>
<circle cx="856.8" cy="474.1" r="8.0" fill="url(#gA)"/>
<circle cx="524.8" cy="509.3" r="9.0" fill="url(#gA)"/>
<circle cx="830.4" cy="90.3" r="7.0" fill="url(#gA)"/>
<circle cx="226.7" cy="380.7" r="6.0" fill="url(#gA)"/>
<circle cx="389.9" cy="327.9" r="7.0" fill="url(#gA)"/>
<circle cx="710.7" cy="228.4" r="9.0" fill="url(#gA)"/>
<circle cx="408.5" cy="279.4" r="9.0" fill="url(#gA)"/>
<circle cx="443.3" cy="66.9" r="11.0" fill="url(#gA)"/>
<circle cx="152.9" cy="4.1" r="7.0" fill="url(#gA)"/>
<circle cx="594.7" cy="56.1" r="8.0" fill="url(#gA)"/>
<circle cx="501.5" cy="523.5" r="9.0" fill="url(#gA)"/>
<circle cx="280.4" cy="468.2" r="8.0" fill="url(#gA)"/>
<circle cx="263.1" cy="285.9" r="13.0" fill="url(#gA)"/>
<circle cx="135.2" cy="20.0" r="8.0" fill="url(#gA)"/>
<circle cx="260.7" cy="120.9" r="11.0" fill="url(#gA)"/>
<circle cx="570.3" cy="5.1" r="12.0" fill="url(#gA)"/>
<circle cx="134.1" cy="341.9" r="10.0" fill="url(#gA)"/>
<circle cx="847.3" cy="380.0" r="9.0" fill="url(#gA)"/>
<circle cx="124.2" cy="559.3" r="12.0" fill="url(#gA)"/>
<circle cx="134.5" cy="125.7" r="10.0" fill="url(#gA)"/>
<circle cx="520.9" cy="481.2" r="6.0" fill="url(#gA)"/>
<circle cx="211.4" cy="90.9" r="10.0" fill="url(#gA)"/>
<circle cx="127.5" cy="255.8" r="7.0" fill="url(#gA)"/>
<circle cx="569.0" cy="447.9" r="7.0" fill="url(#gA)"/>
<circle cx="774.6" cy="36.5" r="8.0" fill="url(#gA)"/>
<circle cx="320.8" cy="445.7" r="10.0" fill="url(#gA)"/>
<circle cx="445.3" cy="354.4" r="10.0" fill="url(#gA)"/>
<circle cx="567.2" cy="118.1" r="8.0" fill="url(#gA)"/>
<circle cx="493.6" cy="145.7" r="10.0" fill="url(#gA)"/>
<circle cx="742.2" cy="82.4" r="7.0" fill="url(#gA)"/>
<circle cx="407.2" cy="184.7" r="12.0" fill="url(#gA)"/>
<circle cx="220.5" cy="509.0" r="10.0" fill="url(#gA)"/>
<circle cx="277.9" cy="548.8" r="9.0" fill="url(#gA)"/>
<circle cx="775.9" cy="97.1" r="12.0" fill="url(#gA)"/>
<circle cx="736.6" cy="96.4" r="9.0" fill="url(#gA)"/>
<circle cx="334.6" cy="553.6" r="7.0" fill="url(#gA)"/>
<circle cx="850.8" cy="454.9" r="7.0" fill="url(#gA)"/>
<circle cx="540.6" cy="404.6" r="7.0" fill="url(#gA)"/>
<circle cx="431.8" cy="45.4" r="6.0" fill="url(#gA)"/>
<circle cx="588.4" cy="462.5" r="7.0" fill="url(#gA)"/>
<circle cx="568.7" cy="131.2" r="8.0" fill="url(#gA)"/>
<circle cx="759.3" cy="263.6" r="9.0" fill="url(#gA)"/>
<circle cx="578.8" cy="28.7" r="13.0" fill="url(#gA)"/>
<circle cx="309.5" cy="107.6" r="8.0" fill="url(#gA)"/>
<circle cx="584.1" cy="307.8" r="8.0" fill="url(#gA)"/>
<circle cx="330.5" cy="290.1" r="7.0" fill="url(#gA)"/>
<circle cx="297.4" cy="259.7" r="12.0" fill="url(#gA)"/>
<circle cx="726.5" cy="251.2" r="10.0" fill="url(#gA)"/>
<circle cx="659.0" cy="83.9" r="9.0" fill="url(#gA)"/>
<circle cx="615.4" cy="165.3" r="8.0" fill="url(#gA)"/>
<circle cx="632.0" cy="29.9" r="7.0" fill="url(#gA)"/>
<circle cx="231.4" cy="259.0" r="8.0" fill="url(#gA)"/>
<circle cx="311.2" cy="55.3" r="9.0" fill="url(#gA)"/>
<circle cx="221.8" cy="475.8" r="13.0" fill="url(#gA)"/>
<circle cx="781.1" cy="362.8" r="13.0" fill="url(#gA)"/>
<circle cx="677.0" cy="329.2" r="6.0" fill="url(#gA)"/>
<circle cx="383.5" cy="64.0" r="10.0" fill="url(#gA)"/>
<circle cx="531.6" cy="363.1" r="12.0" fill="url(#gA)"/>
<circle cx="116.0" cy="460.3" r="13.0" fill="url(#gA)"/>
<circle cx="607.0" cy="41.8" r="13.0" fill="url(#gA)"/>
<circle cx="468.2" cy="466.9" r="8.0" fill="url(#gA)"/>
<circle cx="341.4" cy="328.8" r="6.0" fill="url(#gA)"/>
<circle cx="188.0" cy="128.5" r="10.0" fill="url(#gA)"/>
<circle cx="262.6" cy="563.5" r="10.0" fill="url(#gA)"/>
<circle cx="838.1" cy="261.1" r="8.0" fill="url(#gA)"/>
<circle cx="565.1" cy="365.3" r="8.0" fill="url(#gA)"/>
<circle cx="777.3" cy="406.3" r="8.0" fill="url(#gA)"/>
<circle cx="486.2" cy="505.2" r="9.0" fill="url(#gA)"/>
<circle cx="741.6" cy="72.7" r="8.0" fill="url(#gA)"/>
<circle cx="721.3" cy="364.9" r="10.0" fill="url(#gA)"/>
<circle cx="477.0" cy="525.6" r="10.0" fill="url(#gA)"/>
<circle cx="844.3" cy="152.8" r="12.0" fill="url(#gA)"/>
<circle cx="292.1" cy="280.4" r="12.0" fill="url(#gA)"/>
<circle cx="525.5" cy="263.1" r="9.0" fill="url(#gA)"/>
<circle cx="369.5" cy="56.1" r="8.0" fill="url(#gA)"/>
<circle cx="777.6" cy="432.8" r="9.0" fill="url(#gA)"/>
<circle cx="366.6" cy="39.5" r="8.0" fill="url(#gA)"/>
<circle cx="543.3" cy="210.0" r="12.0" fill="url(#gA)"/>
<circle cx="748.7" cy="503.3" r="6.0" fill="url(#gA)"/>
<circle cx="480.1" cy="45.8" r="10.0" fill="url(#gA)"/>
<circle cx="753.8" cy="560.1" r="8.0" fill="url(#gA)"/>
<circle cx="526.3" cy="26.6" r="7.0" fill="url(#gA)"/>
<circle cx="121.3" cy="176.5" r="10.0" fill="url(#gA)"/>
<circle cx="322.0" cy="185.0" r="8.0" fill="url(#gA)"/>
<circle cx="135.4" cy="239.6" r="12.0" fill="url(#gA)"/>
<circle cx="343.6" cy="16.5" r="10.0" fill="url(#gA)"/>
<circle cx="306.1" cy="385.7" r="9.0" fill="url(#gA)"/>
<circle cx="261.8" cy="459.9" r="13.0" fill="url(#gA)"/>
<circle cx="154.2" cy="17.5" r="11.0" fill="url(#gA)"/>
<circle cx="850.8" cy="257.1" r="7.0" fill="url(#gA)"/>
<circle cx="421.0" cy="468.4" r="9.0" fill="url(#gA)"/>
<circle cx="143.9" cy="23.9" r="7.0" fill="url(#gA)"/>
<circle cx="319.8" cy="6.2" r="11.0" fill="url(#gA)"/>
<circle cx="704.7" cy="526.5" r="10.0" fill="url(#gA)"/>
<circle cx="172.6" cy="116.9" r="7.0" fill="url(#gA)"/>
<circle cx="602.5" cy="570.8" r="7.0" fill="url(#gA)"/>
<circle cx="116.9" cy="509.0" r="8.0" fill="url(#gA)"/>
<circle cx="742.7" cy="527.0" r="6.0" fill="url(#gA)"/>
<circle cx="484.5" cy="280.6" r="9.0" fill="url(#gA)"/>
<circle cx="189.4" cy="230.1" r="10.0" fill="url(#gA)"/>
<circle cx="774.9" cy="240.9" r="6.0" fill="url(#gA)"/>
<circle cx="760.4" cy="574.1" r="9.0" fill="url(#gA)"/>
<circle cx="198.5" cy="55.8" r="11.0" fill="url(#gA)"/>
<circle cx="774.3" cy="267.6" r="7.0" fill="url(#gA)"/>
<circle cx="807.5" cy="425.7" r="7.0" fill="url(#gA)"/>
<circle cx="843.7" cy="280.1" r="6.0" fill="url(#gA)"/>
<circle cx="592.8" cy="494.0" r="11.0" fill="url(#gA)"/>
<circle cx="599.3" cy="180.3" r="8.0" fill="url(#gA)"/>
<circle cx="496.3" cy="35.0" r="10.0" fill="url(#gA)"/>
<circle cx="783.3" cy="377.4" r="7.0" fill="url(#gA)"/>
<circle cx="232.3" cy="516.8" r="8.0" fill="url(#gA)"/>
<circle cx="790.9" cy="265.1" r="8.0" fill="url(#gA)"/>
<circle cx="489.4" cy="530.2" r="8.0" fill="url(#gA)"/>
<circle cx="556.5" cy="356.3" r="8.0" fill="url(#gA)"/>
<circle cx="415.5" cy="368.1" r="8.0" fill="url(#gA)"/>
<circle cx="622.2" cy="516.2" r="7.0" fill="url(#gA)"/>
<circle cx="529.1" cy="335.8" r="7.0" fill="url(#gA)"/>
<circle cx="665.8" cy="216.5" r="9.0" fill="url(#gA)"/>
<circle cx="245.8" cy="429.3" r="6.0" fill="url(#gA)"/>
<circle cx="335.3" cy="299.2" r="8.0" fill="url(#gA)"/>
<circle cx="546.5" cy="348.3" r="10.0" fill="url(#gA)"/>
<circle cx="122.7" cy="319.1" r="8.0" fill="url(#gA)"/>
<circle cx="857.6" cy="418.3" r="10.0" fill="url(#gA)"/>
<circle cx="649.0" cy="7.6" r="9.0" fill="url(#gA)"/>
<circle cx="671.3" cy="270.1" r="13.0" fill="url(#gA)"/>
<circle cx="604.2" cy="104.3" r="7.0" fill="url(#gA)"/>
<circle cx="309.2" cy="372.4" r="7.0" fill="url(#gA)"/>
<circle cx="819.2" cy="154.6" r="6.0" fill="url(#gA)"/>
<circle cx="820.6" cy="430.8" r="9.0" fill="url(#gA)"/>
<circle cx="795.2" cy="86.7" r="6.0" fill="url(#gA)"/>
<circle cx="136.6" cy="83.2" r="12.0" fill="url(#gA)"/>
<circle cx="588.0" cy="402.7" r="13.0" fill="url(#gA)"/>
<circle cx="138.8" cy="547.0" r="12.0" fill="url(#gA)"/>
<circle cx="376.1" cy="536.0" r="6.0" fill="url(#gA)"/>
<circle cx="750.8" cy="357.7" r="6.0" fill="url(#gA)"/>
<circle cx="704.1" cy="21.9" r="10.0" fill="url(#gA)"/>
<circle cx="537.2" cy="412.6" r="7.0" fill="url(#gA)"/>
<circle cx="543.5" cy="168.2" r="9.0" fill="url(#gA)"/>
<circle cx="114.5" cy="119.6" r="6.0" fill="url(#gA)"/>
<circle cx="116.8" cy="284.8" r="10.0" fill="url(#gA)"/>
<circle cx="633.9" cy="476.1" r="10.0" fill="url(#gA)"/>
<circle cx="723.7" cy="540.7" r="8.0" fill="url(#gA)"/>
<circle cx="486.5" cy="66.9" r="12.0" fill="url(#gA)"/>
<circle cx="408.9" cy="513.3" r="7.0" fill="url(#gA)"/>
<circle cx="429.5" cy="373.4" r="9.0" fill="url(#gA)"/>
<circle cx="528.0" cy="188.9" r="10.0" fill="url(#gA)"/>
<circle cx="236.7" cy="380.3" r="8.0" fill="url(#gA)"/>
<circle cx="401.1" cy="566.8" r="8.0" fill="url(#gA)"/>
<circle cx="753.0" cy="253.7" r="8.0" fill="url(#gA)"/>
<circle cx="416.4" cy="427.8" r="9.0" fill="url(#gA)"/>
<circle cx="638.3" cy="340.0" r="12.0" fill="url(#gA)"/>
<circle cx="428.7" cy="134.7" r="13.0" fill="url(#gA)"/>
<circle cx="583.8" cy="60.0" r="9.0" fill="url(#gA)"/>
<circle cx="294.9" cy="232.9" r="13.0" fill="url(#gA)"/>
<circle cx="809.8" cy="108.7" r="12.0" fill="url(#gA)"/>
<circle cx="793.3" cy="64.8" r="8.0" fill="url(#gA)"/>
<circle cx="850.4" cy="207.3" r="6.0" fill="url(#gA)"/>
<circle cx="312.0" cy="132.4" r="13.0" fill="url(#gA)"/>
<circle cx="413.3" cy="549.5" r="8.0" fill="url(#gA)"/>
<circle cx="588.3" cy="272.4" r="10.0" fill="url(#gA)"/>
<circle cx="640.6" cy="397.2" r="9.0" fill="url(#gA)"/>
<circle cx="621.6" cy="279.5" r="13.0" fill="url(#gA)"/>
<circle cx="339.4" cy="278.3" r="9.0" fill="url(#gA)"/>
<circle cx="510.7" cy="201.4" r="11.0" fill="url(#gA)"/>
<circle cx="752.8" cy="110.2" r="10.0" fill="url(#gA)"/>
<circle cx="486.0" cy="173.8" r="10.0" fill="url(#gA)"/>
<circle cx="183.8" cy="280.9" r="7.0" fill="url(#gA)"/>
<circle cx="468.7" cy="304.6" r="8.0" fill="url(#gA)"/>
<circle cx="326.2" cy="199.6" r="8.0" fill="url(#gA)"/>
<circle cx="528.2" cy="476.9" r="8.0" fill="url(#gA)"/>
<circle cx="379.4" cy="286.4" r="9.0" fill="url(#gA)"/>
<circle cx="150.7" cy="175.8" r="6.0" fill="url(#gA)"/>
<circle cx="610.2" cy="501.2" r="9.0" fill="url(#gA)"/>
<circle cx="524.3" cy="51.4" r="10.0" fill="url(#gA)"/>
<circle cx="681.9" cy="171.7" r="10.0" fill="url(#gA)"/>
<circle cx="346.3" cy="421.2" r="7.0" fill="url(#gA)"/>
<circle cx="842.5" cy="406.3" r="11.0" fill="url(#gA)"/>
<circle cx="362.0" cy="350.5" r="6.0" fill="url(#gA)"/>
<circle cx="231.2" cy="530.6" r="6.0" fill="url(#gA)"/>
<circle cx="223.5" cy="561.9" r="10.0" fill="url(#gA)"/>
<circle cx="552.4" cy="9.4" r="9.0" fill="url(#gA)"/>
<circle cx="330.4" cy="334.5" r="9.0" fill="url(#gA)"/>
<circle cx="414.8" cy="299.8" r="7.0" fill="url(#gA)"/>
<circle cx="560.5" cy="201.3" r="10.0" fill="url(#gA)"/>
<circle cx="567.9" cy="57.8" r="8.0" fill="url(#gA)"/>
<circle cx="854.8" cy="499.4" r="10.0" fill="url(#gA)"/>
<circle cx="552.7" cy="126.2" r="8.0" fill="url(#gA)"/>
<circle cx="432.3" cy="545.4" r="11.0" fill="url(#gA)"/>
<circle cx="726.4" cy="555.1" r="8.0" fill="url(#gA)"/>
<circle cx="396.6" cy="19.7" r="6.0" fill="url(#gA)"/>
<circle cx="642.2" cy="55.5" r="9.0" fill="url(#gA)"/>
<circle cx="818.0" cy="37.9" r="10.0" fill="url(#gA)"/>
<circle cx="443.8" cy="377.2" r="10.0" fill="url(#gA)"/>
<circle cx="218.1" cy="259.8" r="7.0" fill="url(#gA)"/>
<circle cx="806.6" cy="224.3" r="6.0" fill="url(#gA)"/>
<circle cx="583.7" cy="85.7" r="8.0" fill="url(#gA)"/>
<circle cx="527.7" cy="86.8" r="7.0" fill="url(#gA)"/>
<circle cx="186.5" cy="169.6" r="7.0" fill="url(#gA)"/>
<circle cx="704.5" cy="543.8" r="8.0" fill="url(#gA)"/>
<circle cx="252.6" cy="253.0" r="9.0" fill="url(#gA)"/>
<circle cx="653.7" cy="35.7" r="9.0" fill="url(#gA)"/>
<circle cx="763.3" cy="333.7" r="6.0" fill="url(#gA)"/>
<circle cx="666.5" cy="153.5" r="11.0" fill="url(#gA)"/>
<circle cx="195.9" cy="73.5" r="7.0" fill="url(#gA)"/>
<circle cx="223.7" cy="331.7" r="13.0" fill="url(#gA)"/>
<circle cx="560.4" cy="348.8" r="6.0" fill="url(#gA)"/>
<circle cx="223.3" cy="393.1" r="9.0" fill="url(#gA)"/>
<circle cx="282.3" cy="244.7" r="9.0" fill="url(#gA)"/>
<circle cx="148.5" cy="564.7" r="6.0" fill="url(#gA)"/>
<circle cx="788.2" cy="52.3" r="11.0" fill="url(#gA)"/>
<circle cx="513.1" cy="88.9" r="7.0" fill="url(#gA)"/>
<circle cx="570.0" cy="330.1" r="12.0" fill="url(#gA)"/>
<circle cx="839.2" cy="230.8" r="9.0" fill="url(#gA)"/>
<circle cx="771.0" cy="127.6" r="6.0" fill="url(#gA)"/>
<circle cx="691.4" cy="94.7" r="7.0" fill="url(#gA)"/>
<circle cx="666.5" cy="429.2" r="10.0" fill="url(#gA)"/>
<circle cx="798.2" cy="76.8" r="7.0" fill="url(#gA)"/>
<circle cx="568.1" cy="221.1" r="10.0" fill="url(#gA)"/>
<circle cx="631.9" cy="168.8" r="9.0" fill="url(#gA)"/>
<circle cx="332.7" cy="227.5" r="10.0" fill="url(#gA)"/>
<circle cx="559.2" cy="374.8" r="6.0" fill="url(#gA)"/>
<circle cx="702.6" cy="490.0" r="10.0" fill="url(#gA)"/>
<circle cx="355.9" cy="486.4" r="8.0" fill="url(#gA)"/>
<circle cx="780.6" cy="550.8" r="6.0" fill="url(#gA)"/>
<circle cx="149.0" cy="327.1" r="10.0" fill="url(#gA)"/>
<circle cx="731.5" cy="419.9" r="9.0" fill="url(#gA)"/>
<circle cx="619.7" cy="263.2" r="6.0" fill="url(#gA)"/>
<circle cx="370.4" cy="307.2" r="7.0" fill="url(#gA)"/>
<circle cx="505.8" cy="470.8" r="8.0" fill="url(#gA)"/>
<circle cx="377.9" cy="572.4" r="12.0" fill="url(#gA)"/>
<circle cx="799.9" cy="231.4" r="7.0" fill="url(#gA)"/>
<circle cx="498.5" cy="86.2" r="8.0" fill="url(#gA)"/>
<circle cx="421.2" cy="73.5" r="7.0" fill="url(#gA)"/>
<circle cx="501.5" cy="295.4" r="6.0" fill="url(#gA)"/>
<circle cx="625.9" cy="335.1" r="7.0" fill="url(#gA)"/>
<circle cx="649.0" cy="206.4" r="7.0" fill="url(#gA)"/>
<circle cx="411.9" cy="411.1" r="6.0" fill="url(#gA)"/>
<circle cx="397.2" cy="8.4" r="8.0" fill="url(#gA)"/>
<circle cx="601.0" cy="553.8" r="9.0" fill="url(#gA)"/>
<circle cx="584.6" cy="336.2" r="8.0" fill="url(#gA)"/>
<circle cx="766.5" cy="74.2" r="10.0" fill="url(#gA)"/>
<circle cx="401.5" cy="380.1" r="11.0" fill="url(#gA)"/>
<circle cx="222.1" cy="12.6" r="13.0" fill="url(#gA)"/>
<circle cx="622.2" cy="383.6" r="9.0" fill="url(#gA)"/>
<circle cx="584.2" cy="107.9" r="7.0" fill="url(#gA)"/>
<circle cx="346.2" cy="369.1" r="7.0" fill="url(#gA)"/>
<circle cx="141.3" cy="186.2" r="9.0" fill="url(#gA)"/>
<circle cx="337.6" cy="510.0" r="7.0" fill="url(#gA)"/>
<circle cx="553.3" cy="141.7" r="12.0" fill="url(#gA)"/>
<circle cx="620.3" cy="92.5" r="10.0" fill="url(#gA)"/>
<circle cx="741.9" cy="236.3" r="8.0" fill="url(#gA)"/>
<circle cx="146.0" cy="516.4" r="8.0" fill="url(#gA)"/>
<circle cx="261.0" cy="405.3" r="10.0" fill="url(#gA)"/>
<circle cx="672.8" cy="193.7" r="13.0" fill="url(#gA)"/>
<circle cx="535.4" cy="66.2" r="10.0" fill="url(#gA)"/>
<circle cx="673.0" cy="18.5" r="9.0" fill="url(#gA)"/>
<circle cx="833.6" cy="304.5" r="12.0" fill="url(#gA)"/>
<circle cx="526.0" cy="215.2" r="8.0" fill="url(#gA)"/>
<circle cx="415.3" cy="32.9" r="8.0" fill="url(#gA)"/>
<circle cx="115.6" cy="485.0" r="10.0" fill="url(#gA)"/>
<circle cx="840.5" cy="523.8" r="7.0" fill="url(#gA)"/>
<circle cx="569.4" cy="173.9" r="11.0" fill="url(#gA)"/>
<circle cx="693.6" cy="82.3" r="11.0" fill="url(#gA)"/>
<circle cx="203.7" cy="81.6" r="7.0" fill="url(#gA)"/>
<circle cx="578.4" cy="502.9" r="11.0" fill="url(#gA)"/>
<circle cx="823.1" cy="416.9" r="6.0" fill="url(#gA)"/>
<circle cx="524.3" cy="463.3" r="7.0" fill="url(#gA)"/>
<circle cx="767.5" cy="387.0" r="7.0" fill="url(#gA)"/>
<circle cx="275.4" cy="515.4" r="11.0" fill="url(#gA)"/>
<circle cx="348.8" cy="195.9" r="10.0" fill="url(#gA)"/>
<circle cx="829.8" cy="571.5" r="6.0" fill="url(#gA)"/>
<circle cx="341.0" cy="440.6" r="13.0" fill="url(#gA)"/>
<circle cx="375.8" cy="319.0" r="9.0" fill="url(#gA)"/>
<circle cx="363.8" cy="406.8" r="12.0" fill="url(#gA)"/>
<circle cx="490.5" cy="515.5" r="8.0" fill="url(#gA)"/>
<circle cx="859.5" cy="90.3" r="8.0" fill="url(#gA)"/>
<circle cx="719.4" cy="504.8" r="9.0" fill="url(#gA)"/>
<circle cx="535.8" cy="568.9" r="6.0" fill="url(#gA)"/>
<circle cx="306.5" cy="410.9" r="6.0" fill="url(#gA)"/>
<circle cx="694.3" cy="180.9" r="10.0" fill="url(#gA)"/>
<circle cx="509.9" cy="160.7" r="8.0" fill="url(#gA)"/>
<circle cx="844.7" cy="90.1" r="12.0" fill="url(#gA)"/>
<circle cx="457.9" cy="189.2" r="6.0" fill="url(#gA)"/>
<circle cx="792.4" cy="218.8" r="12.0" fill="url(#gA)"/>
<circle cx="771.7" cy="289.2" r="11.0" fill="url(#gA)"/>
<circle cx="476.9" cy="513.6" r="7.0" fill="url(#gA)"/>
<circle cx="439.0" cy="84.0" r="8.0" fill="url(#gA)"/>
<circle cx="842.8" cy="9.4" r="8.0" fill="url(#gA)"/>
<circle cx="773.6" cy="564.4" r="6.0" fill="url(#gA)"/>
<circle cx="192.0" cy="15.4" r="9.0" fill="url(#gA)"/>
<circle cx="247.5" cy="396.0" r="7.0" fill="url(#gA)"/>
<circle cx="672.0" cy="492.2" r="10.0" fill="url(#gA)"/>
<circle cx="373.8" cy="341.2" r="11.0" fill="url(#gA)"/>
<circle cx="242.5" cy="474.1" r="10.0" fill="url(#gA)"/>
<circle cx="763.0" cy="28.7" r="9.0" fill="url(#gA)"/>
<circle cx="291.4" cy="216.1" r="9.0" fill="url(#gA)"/>
<circle cx="540.6" cy="37.0" r="7.0" fill="url(#gA)"/>
<circle cx="646.8" cy="172.9" r="9.0" fill="url(#gA)"/>
<circle cx="397.5" cy="304.8" r="10.0" fill="url(#gA)"/>
<circle cx="813.9" cy="371.8" r="6.0" fill="url(#gA)"/>
<circle cx="194.2" cy="326.3" r="10.0" fill="url(#gA)"/>
<circle cx="245.4" cy="41.2" r="9.0" fill="url(#gA)"/>
<circle cx="481.2" cy="296.7" r="6.0" fill="url(#gA)"/>
<circle cx="518.9" cy="533.5" r="8.0" fill="url(#gA)"/>
<circle cx="528.1" cy="444.0" r="10.0" fill="url(#gA)"/>
<circle cx="222.4" cy="195.2" r="10.0" fill="url(#gA)"/>
<circle cx="485.6" cy="12.1" r="13.0" fill="url(#gA)"/>
<circle cx="791.5" cy="396.3" r="7.0" fill="url(#gA)"/>
<circle cx="763.3" cy="532.4" r="7.0" fill="url(#gA)"/>
<circle cx="821.2" cy="384.6" r="8.0" fill="url(#gA)"/>
<circle cx="406.5" cy="22.8" r="9.0" fill="url(#gA)"/>
<circle cx="675.2" cy="288.0" r="7.0" fill="url(#gA)"/>
<circle cx="382.5" cy="383.1" r="7.0" fill="url(#gA)"/>
<circle cx="501.3" cy="171.0" r="7.0" fill="url(#gA)"/>
<circle cx="176.6" cy="334.9" r="8.0" fill="url(#gA)"/>
<circle cx="168.2" cy="196.9" r="7.0" fill="url(#gA)"/>
<circle cx="351.1" cy="536.8" r="9.0" fill="url(#gA)"/>
<circle cx="643.9" cy="42.3" r="6.0" fill="url(#gA)"/>
<circle cx="700.6" cy="502.1" r="8.0" fill="url(#gA)"/>
<circle cx="673.4" cy="343.5" r="12.0" fill="url(#gA)"/>
<circle cx="261.7" cy="265.9" r="8.0" fill="url(#gA)"/>
<circle cx="610.0" cy="521.2" r="9.0" fill="url(#gA)"/>
<circle cx="707.0" cy="6.6" r="10.0" fill="url(#gA)"/>
<circle cx="487.5" cy="550.7" r="10.0" fill="url(#gA)"/>
<circle cx="191.2" cy="144.6" r="11.0" fill="url(#gA)"/>
<circle cx="612.1" cy="81.2" r="8.0" fill="url(#gA)"/>
<circle cx="457.0" cy="546.4" r="10.0" fill="url(#gA)"/>
<circle cx="493.7" cy="574.7" r="7.0" fill="url(#gA)"/>
<circle cx="716.0" cy="391.0" r="9.0" fill="url(#gA)"/>
<circle cx="737.4" cy="287.6" r="6.0" fill="url(#gA)"/>
<circle cx="707.6" cy="202.6" r="7.0" fill="url(#gA)"/>
<circle cx="833.7" cy="111.0" r="8.0" fill="url(#gA)"/>
<circle cx="768.9" cy="59.1" r="11.0" fill="url(#gA)"/>
<circle cx="654.6" cy="428.6" r="7.0" fill="url(#gA)"/>
<circle cx="807.5" cy="169.2" r="8.0" fill="url(#gA)"/>
<circle cx="613.4" cy="334.5" r="9.0" fill="url(#gA)"/>
<circle cx="539.4" cy="512.1" r="7.0" fill="url(#gA)"/>
<circle cx="134.7" cy="292.7" r="9.0" fill="url(#gA)"/>
<circle cx="715.4" cy="553.9" r="9.0" fill="url(#gA)"/>
<circle cx="664.4" cy="299.3" r="10.0" fill="url(#gA)"/>
<circle cx="631.0" cy="244.8" r="6.0" fill="url(#gA)"/>
<circle cx="715.7" cy="264.3" r="7.0" fill="url(#gA)"/>
<circle cx="708.4" cy="276.4" r="7.0" fill="url(#gA)"/>
<circle cx="493.7" cy="123.7" r="8.0" fill="url(#gA)"/>
<circle cx="821.1" cy="564.9" r="9.0" fill="url(#gA)"/>
<circle cx="790.2" cy="8.2" r="8.0" fill="url(#gA)"/>
<circle cx="202.1" cy="288.8" r="9.0" fill="url(#gA)"/>
<circle cx="801.6" cy="154.4" r="7.0" fill="url(#gA)"/>
<circle cx="463.7" cy="277.9" r="7.0" fill="url(#gA)"/>
<circle cx="574.5" cy="188.9" r="10.0" fill="url(#gA)"/>
<circle cx="493.0" cy="482.9" r="8.0" fill="url(#gA)"/>
<circle cx="204.9" cy="375.8" r="8.0" fill="url(#gA)"/>
<circle cx="616.3" cy="566.5" r="11.0" fill="url(#gA)"/>
<circle cx="620.7" cy="54.2" r="8.0" fill="url(#gA)"/>
<circle cx="688.9" cy="8.0" r="7.0" fill="url(#gA)"/>
<circle cx="676.4" cy="49.7" r="6.0" fill="url(#gA)"/>
<circle cx="445.0" cy="565.1" r="12.0" fill="url(#gA)"/>
<circle cx="739.9" cy="572.7" r="9.0" fill="url(#gA)"/>
<circle cx="776.9" cy="530.8" r="9.0" fill="url(#gA)"/>
<circle cx="570.5" cy="355.4" r="7.0" fill="url(#gA)"/>
<circle cx="219.8" cy="43.7" r="7.0" fill="url(#gA)"/>
<circle cx="659.6" cy="310.4" r="7.0" fill="url(#gA)"/>
<circle cx="654.3" cy="374.9" r="10.0" fill="url(#gA)"/>
<circle cx="246.7" cy="61.3" r="8.0" fill="url(#gA)"/>
<circle cx="658.6" cy="58.3" r="10.0" fill="url(#gA)"/>
<circle cx="403.9" cy="452.7" r="7.0" fill="url(#gA)"/>
<circle cx="581.2" cy="487.7" r="7.0" fill="url(#gA)"/>
<circle cx="335.0" cy="157.5" r="7.0" fill="url(#gA)"/>
<circle cx="752.1" cy="141.8" r="10.0" fill="url(#gA)"/>
<circle cx="324.5" cy="274.3" r="10.0" fill="url(#gA)"/>
<circle cx="481.9" cy="235.5" r="10.0" fill="url(#gA)"/>
<circle cx="760.7" cy="125.5" r="7.0" fill="url(#gA)"/>
<circle cx="469.0" cy="151.2" r="10.0" fill="url(#gA)"/>
<circle cx="121.6" cy="377.5" r="10.0" fill="url(#gA)"/>
<circle cx="604.9" cy="376.3" r="13.0" fill="url(#gA)"/>
<circle cx="174.9" cy="128.1" r="6.0" fill="url(#gA)"/>
<circle cx="341.4" cy="183.6" r="8.0" fill="url(#gA)"/>
<circle cx="137.3" cy="105.5" r="9.0" fill="url(#gA)"/>
<circle cx="152.1" cy="527.3" r="7.0" fill="url(#gA)"/>
<circle cx="427.9" cy="306.8" r="8.0" fill="url(#gA)"/>
<circle cx="439.8" cy="342.7" r="8.0" fill="url(#gA)"/>
<circle cx="469.3" cy="391.8" r="13.0" fill="url(#gA)"/>
<circle cx="592.4" cy="506.7" r="7.0" fill="url(#gA)"/>
<circle cx="738.9" cy="371.3" r="12.0" fill="url(#gA)"/>
<circle cx="513.8" cy="419.1" r="8.0" fill="url(#gA)"/>
<circle cx="645.8" cy="568.7" r="6.0" fill="url(#gA)"/>
<circle cx="425.9" cy="277.9" r="8.0" fill="url(#gA)"/>
<circle cx="362.8" cy="534.4" r="8.0" fill="url(#gA)"/>
<circle cx="359.5" cy="291.0" r="7.0" fill="url(#gA)"/>
<circle cx="162.6" cy="91.1" r="13.0" fill="url(#gA)"/>
<circle cx="579.4" cy="475.8" r="10.0" fill="url(#gA)"/>
<circle cx="536.4" cy="83.1" r="8.0" fill="url(#gA)"/>
<circle cx="155.2" cy="352.5" r="7.0" fill="url(#gA)"/>
<circle cx="333.2" cy="189.9" r="8.0" fill="url(#gA)"/>
<circle cx="693.9" cy="64.8" r="7.0" fill="url(#gA)"/>
<circle cx="448.0" cy="534.6" r="9.0" fill="url(#gA)"/>
<circle cx="214.6" cy="64.9" r="7.0" fill="url(#gA)"/>
<circle cx="456.4" cy="319.7" r="7.0" fill="url(#gA)"/>
<circle cx="307.8" cy="427.7" r="13.0" fill="url(#gA)"/>
<circle cx="407.8" cy="119.5" r="7.0" fill="url(#gA)"/>
<circle cx="224.7" cy="492.8" r="9.0" fill="url(#gA)"/>
<circle cx="826.1" cy="191.1" r="9.0" fill="url(#gA)"/>
<circle cx="726.5" cy="156.1" r="9.0" fill="url(#gA)"/>
<circle cx="767.0" cy="314.4" r="6.0" fill="url(#gA)"/>
<circle cx="807.8" cy="380.8" r="7.0" fill="url(#gA)"/>
<circle cx="855.7" cy="298.9" r="7.0" fill="url(#gA)"/>
<circle cx="481.2" cy="434.2" r="6.0" fill="url(#gA)"/>
<circle cx="862.0" cy="324.9" r="7.0" fill="url(#gA)"/>
<circle cx="384.2" cy="532.5" r="8.0" fill="url(#gA)"/>
<circle cx="221.0" cy="365.0" r="6.0" fill="url(#gA)"/>
<circle cx="430.8" cy="348.4" r="8.0" fill="url(#gA)"/>
<circle cx="497.6" cy="271.9" r="7.0" fill="url(#gA)"/>
<circle cx="349.9" cy="292.6" r="7.0" fill="url(#gA)"/>
<circle cx="378.5" cy="247.2" r="9.0" fill="url(#gA)"/>
<circle cx="414.8" cy="108.3" r="7.0" fill="url(#gA)"/>
<circle cx="215.3" cy="521.3" r="6.0" fill="url(#gA)"/>
<circle cx="484.5" cy="211.9" r="6.0" fill="url(#gA)"/>
<circle cx="277.6" cy="253.7" r="7.0" fill="url(#gA)"/>
<circle cx="662.5" cy="415.9" r="7.0" fill="url(#gA)"/>
<circle cx="641.8" cy="104.2" r="7.0" fill="url(#gA)"/>
<circle cx="579.2" cy="521.9" r="10.0" fill="url(#gA)"/>
<circle cx="609.5" cy="194.9" r="10.0" fill="url(#gA)"/>
<circle cx="792.5" cy="339.5" r="9.0" fill="url(#gA)"/>
<circle cx="830.8" cy="30.5" r="7.0" fill="url(#gA)"/>
<circle cx="815.3" cy="205.1" r="9.0" fill="url(#gA)"/>
<circle cx="741.0" cy="152.9" r="7.0" fill="url(#gA)"/>
<circle cx="339.5" cy="572.3" r="7.0" fill="url(#gA)"/>
<circle cx="499.4" cy="189.0" r="9.0" fill="url(#gA)"/>
<circle cx="416.7" cy="402.9" r="7.0" fill="url(#gA)"/>
<circle cx="560.0" cy="403.1" r="9.0" fill="url(#gA)"/>
<circle cx="382.2" cy="518.8" r="8.0" fill="url(#gA)"/>
<circle cx="233.3" cy="291.6" r="11.0" fill="url(#gA)"/>
<circle cx="520.4" cy="12.6" r="6.0" fill="url(#gA)"/>
<circle cx="565.6" cy="107.5" r="7.0" fill="url(#gA)"/>
<circle cx="308.0" cy="446.7" r="7.0" fill="url(#gA)"/>
<circle cx="165.2" cy="52.5" r="6.0" fill="url(#gA)"/>
<circle cx="520.6" cy="250.3" r="8.0" fill="url(#gA)"/>
<circle cx="650.1" cy="69.9" r="9.0" fill="url(#gA)"/>
<circle cx="512.6" cy="182.0" r="8.0" fill="url(#gA)"/>
<circle cx="475.0" cy="197.0" r="9.0" fill="url(#gA)"/>
<circle cx="560.9" cy="28.9" r="8.0" fill="url(#gA)"/>
<circle cx="447.2" cy="218.5" r="10.0" fill="url(#gA)"/>
<circle cx="474.7" cy="422.2" r="8.0" fill="url(#gA)"/>
<circle cx="342.8" cy="209.6" r="9.0" fill="url(#gA)"/>
<circle cx="784.4" cy="28.7" r="7.0" fill="url(#gA)"/>
<circle cx="842.7" cy="108.9" r="7.0" fill="url(#gA)"/>
<circle cx="780.2" cy="248.4" r="8.0" fill="url(#gA)"/>
<circle cx="227.5" cy="452.6" r="10.0" fill="url(#gA)"/>
<circle cx="581.3" cy="449.0" r="10.0" fill="url(#gA)"/>
<circle cx="115.1" cy="57.5" r="7.0" fill="url(#gA)"/>
<circle cx="483.0" cy="318.5" r="7.0" fill="url(#gA)"/>
<circle cx="474.6" cy="219.6" r="11.0" fill="url(#gA)"/>
<circle cx="766.4" cy="177.1" r="7.0" fill="url(#gA)"/>
<circle cx="126.0" cy="535.9" r="8.0" fill="url(#gA)"/>
<circle cx="735.4" cy="276.3" r="7.0" fill="url(#gA)"/>
<circle cx="209.4" cy="387.4" r="8.0" fill="url(#gA)"/>
<circle cx="357.0" cy="318.9" r="12.0" fill="url(#gA)"/>
<circle cx="484.6" cy="134.9" r="7.0" fill="url(#gA)"/>
<circle cx="251.6" cy="371.2" r="10.0" fill="url(#gA)"/>
<circle cx="839.8" cy="169.1" r="7.0" fill="url(#gA)"/>
<circle cx="302.9" cy="17.9" r="7.0" fill="url(#gA)"/>
<circle cx="459.3" cy="244.0" r="12.0" fill="url(#gA)"/>
<circle cx="351.3" cy="66.8" r="11.0" fill="url(#gA)"/>
<circle cx="781.6" cy="77.0" r="7.0" fill="url(#gA)"/>
<circle cx="474.3" cy="30.6" r="7.0" fill="url(#gA)"/>
<circle cx="827.8" cy="240.6" r="7.0" fill="url(#gA)"/>
<circle cx="508.0" cy="63.3" r="7.0" fill="url(#gA)"/>
<circle cx="283.0" cy="407.1" r="10.0" fill="url(#gA)"/>
<circle cx="813.7" cy="14.6" r="8.0" fill="url(#gA)"/>
<circle cx="285.0" cy="4.6" r="8.0" fill="url(#gA)"/>
<circle cx="250.8" cy="355.6" r="9.0" fill="url(#gA)"/>
<circle cx="648.1" cy="452.7" r="10.0" fill="url(#gA)"/>
<circle cx="638.1" cy="370.7" r="10.0" fill="url(#gA)"/>
<circle cx="471.3" cy="555.6" r="7.0" fill="url(#gA)"/>
<circle cx="433.2" cy="15.5" r="9.0" fill="url(#gA)"/>
<circle cx="322.5" cy="258.9" r="8.0" fill="url(#gA)"/>
<circle cx="313.3" cy="271.5" r="7.0" fill="url(#gA)"/>
<circle cx="787.9" cy="438.2" r="7.0" fill="url(#gA)"/>
<circle cx="561.1" cy="123.8" r="6.0" fill="url(#gA)"/>
<circle cx="465.0" cy="512.4" r="9.0" fill="url(#gA)"/>
<circle cx="332.2" cy="397.7" r="7.0" fill="url(#gA)"/>
<circle cx="393.0" cy="340.9" r="7.0" fill="url(#gA)"/>
<circle cx="315.6" cy="509.7" r="8.0" fill="url(#gA)"/>
<circle cx="696.9" cy="460.2" r="8.0" fill="url(#gA)"/>
<circle cx="746.7" cy="29.1" r="7.0" fill="url(#gA)"/>
<circle cx="860.3" cy="63.7" r="11.0" fill="url(#gA)"/>
<circle cx="845.5" cy="71.7" r="8.0" fill="url(#gA)"/>
<circle cx="118.9" cy="334.4" r="9.0" fill="url(#gA)"/>
<circle cx="223.8" cy="153.4" r="8.0" fill="url(#gA)"/>
<circle cx="211.1" cy="402.1" r="6.0" fill="url(#gA)"/>
<circle cx="244.6" cy="290.1" r="6.0" fill="url(#gA)"/>
<circle cx="731.7" cy="77.5" r="9.0" fill="url(#gA)"/>
<circle cx="335.9" cy="61.6" r="8.0" fill="url(#gA)"/>
<circle cx="739.8" cy="18.7" r="6.0" fill="url(#gA)"/>
<circle cx="509.7" cy="350.7" r="10.0" fill="url(#gA)"/>
<circle cx="768.5" cy="188.2" r="9.0" fill="url(#gA)"/>
<circle cx="682.4" cy="321.6" r="9.0" fill="url(#gA)"/>
<circle cx="516.5" cy="80.3" r="8.0" fill="url(#gA)"/>
<circle cx="544.8" cy="557.9" r="8.0" fill="url(#gA)"/>
<circle cx="599.0" cy="29.9" r="7.0" fill="url(#gA)"/>
<circle cx="155.8" cy="306.1" r="8.0" fill="url(#gA)"/>
<circle cx="413.8" cy="59.8" r="11.0" fill="url(#gA)"/>
<circle cx="554.7" cy="476.2" r="7.0" fill="url(#gA)"/>
<circle cx="710.8" cy="477.0" r="9.0" fill="url(#gA)"/>
<circle cx="396.0" cy="82.3" r="9.0" fill="url(#gA)"/>
<circle cx="756.0" cy="292.0" r="10.0" fill="url(#gA)"/>
<circle cx="140.9" cy="250.9" r="6.0" fill="url(#gA)"/>
<circle cx="723.3" cy="6.4" r="9.0" fill="url(#gA)"/>
<circle cx="734.2" cy="299.2" r="8.0" fill="url(#gA)"/>
<circle cx="807.4" cy="555.1" r="7.0" fill="url(#gA)"/>
<circle cx="401.6" cy="56.2" r="7.0" fill="url(#gA)"/>
<circle cx="853.3" cy="7.0" r="7.0" fill="url(#gA)"/>
<circle cx="760.8" cy="521.7" r="7.0" fill="url(#gA)"/>
<circle cx="321.8" cy="116.8" r="9.0" fill="url(#gA)"/>
<circle cx="676.7" cy="124.0" r="10.0" fill="url(#gA)"/>
<circle cx="192.3" cy="280.9" r="7.0" fill="url(#gA)"/>
<circle cx="787.2" cy="180.4" r="9.0" fill="url(#gA)"/>
<circle cx="594.8" cy="166.2" r="10.0" fill="url(#gA)"/>
<circle cx="707.2" cy="71.1" r="7.0" fill="url(#gA)"/>
<circle cx="798.0" cy="549.5" r="7.0" fill="url(#gA)"/>
<circle cx="184.6" cy="433.3" r="9.0" fill="url(#gA)"/>
<circle cx="558.8" cy="322.1" r="6.0" fill="url(#gA)"/>
<circle cx="829.4" cy="143.2" r="10.0" fill="url(#gA)"/>
<circle cx="121.2" cy="9.6" r="7.0" fill="url(#gA)"/>
<circle cx="309.7" cy="155.1" r="7.0" fill="url(#gA)"/>
<circle cx="500.6" cy="69.2" r="8.0" fill="url(#gA)"/>
<circle cx="401.7" cy="469.2" r="8.0" fill="url(#gA)"/>
<circle cx="575.4" cy="154.5" r="8.0" fill="url(#gA)"/>
<circle cx="551.6" cy="63.1" r="8.0" fill="url(#gA)"/>
<circle cx="499.8" cy="495.0" r="8.0" fill="url(#gA)"/>
<circle cx="503.1" cy="14.3" r="7.0" fill="url(#gA)"/>
<circle cx="833.9" cy="561.0" r="8.0" fill="url(#gA)"/>
<circle cx="618.3" cy="108.3" r="11.0" fill="url(#gA)"/>
<circle cx="634.1" cy="77.7" r="8.0" fill="url(#gA)"/>
<circle cx="390.1" cy="283.7" r="8.0" fill="url(#gA)"/>
<circle cx="569.0" cy="305.4" r="9.0" fill="url(#gA)"/>
<circle cx="783.6" cy="190.8" r="6.0" fill="url(#gA)"/>
<circle cx="331.1" cy="572.5" r="6.0" fill="url(#gA)"/>
<circle cx="506.8" cy="277.7" r="7.0" fill="url(#gA)"/>
<circle cx="147.3" cy="375.6" r="7.0" fill="url(#gA)"/>
<circle cx="176.3" cy="45.9" r="10.0" fill="url(#gA)"/>
<circle cx="856.7" cy="570.7" r="6.0" fill="url(#gA)"/>
<circle cx="491.7" cy="226.4" r="7.0" fill="url(#gA)"/>
<circle cx="175.5" cy="73.8" r="7.0" fill="url(#gA)"/>
<circle cx="824.9" cy="172.9" r="12.0" fill="url(#gA)"/>
<circle cx="453.7" cy="230.0" r="9.0" fill="url(#gA)"/>
<circle cx="425.6" cy="110.9" r="7.0" fill="url(#gA)"/>
<circle cx="570.6" cy="564.2" r="8.0" fill="url(#gA)"/>
<circle cx="809.8" cy="56.5" r="9.0" fill="url(#gA)"/>
<circle cx="502.7" cy="374.6" r="7.0" fill="url(#gA)"/>
<circle cx="121.9" cy="421.1" r="13.0" fill="url(#gA)"/>
<circle cx="388.0" cy="548.6" r="6.0" fill="url(#gA)"/>
<circle cx="311.0" cy="402.6" r="8.0" fill="url(#gA)"/>
<circle cx="241.6" cy="528.7" r="8.0" fill="url(#gA)"/>
<circle cx="383.0" cy="167.7" r="9.0" fill="url(#gA)"/>
<circle cx="586.6" cy="140.4" r="13.0" fill="url(#gA)"/>
<circle cx="576.8" cy="431.5" r="6.0" fill="url(#gA)"/>
<circle cx="484.4" cy="94.5" r="9.0" fill="url(#gA)"/>
<circle cx="856.4" cy="177.7" r="7.0" fill="url(#gA)"/>
<circle cx="745.2" cy="128.1" r="6.0" fill="url(#gA)"/>
<circle cx="269.1" cy="345.0" r="13.0" fill="url(#gA)"/>
<circle cx="678.9" cy="308.9" r="8.0" fill="url(#gA)"/>
<circle cx="117.2" cy="301.9" r="13.0" fill="url(#gA)"/>
<circle cx="420.6" cy="167.8" r="8.0" fill="url(#gA)"/>
<circle cx="687.1" cy="104.6" r="9.0" fill="url(#gA)"/>
<circle cx="677.9" cy="506.4" r="8.0" fill="url(#gA)"/>
<circle cx="556.2" cy="421.5" r="7.0" fill="url(#gA)"/>
<circle cx="423.3" cy="195.7" r="9.0" fill="url(#gA)"/>
<circle cx="677.1" cy="80.6" r="7.0" fill="url(#gA)"/>
<circle cx="589.3" cy="435.9" r="10.0" fill="url(#gA)"/>
<circle cx="620.0" cy="235.5" r="7.0" fill="url(#gA)"/>
<circle cx="547.0" cy="412.4" r="6.0" fill="url(#gA)"/>
<circle cx="812.1" cy="148.1" r="6.0" fill="url(#gA)"/>
<circle cx="202.4" cy="506.2" r="7.0" fill="url(#gA)"/>
<circle cx="832.7" cy="388.8" r="10.0" fill="url(#gA)"/>
<circle cx="822.2" cy="547.1" r="11.0" fill="url(#gA)"/>
<circle cx="535.8" cy="182.3" r="6.0" fill="url(#gA)"/>
<circle cx="239.1" cy="505.6" r="6.0" fill="url(#gA)"/>
<circle cx="440.4" cy="262.1" r="9.0" fill="url(#gA)"/>
<circle cx="678.8" cy="227.6" r="10.0" fill="url(#gA)"/>
<circle cx="629.0" cy="12.6" r="7.0" fill="url(#gA)"/>
<circle cx="541.3" cy="55.7" r="8.0" fill="url(#gA)"/>
<circle cx="551.8" cy="429.5" r="7.0" fill="url(#gA)"/>
<circle cx="803.4" cy="92.0" r="8.0" fill="url(#gA)"/>
<circle cx="783.7" cy="345.1" r="6.0" fill="url(#gA)"/>
<circle cx="331.5" cy="246.7" r="10.0" fill="url(#gA)"/>
<circle cx="764.7" cy="506.0" r="6.0" fill="url(#gA)"/>
<circle cx="845.7" cy="289.4" r="8.0" fill="url(#gA)"/>
<circle cx="667.3" cy="360.2" r="11.0" fill="url(#gA)"/>
<circle cx="155.3" cy="194.6" r="7.0" fill="url(#gA)"/>
<circle cx="861.1" cy="465.5" r="7.0" fill="url(#gA)"/>
<circle cx="663.7" cy="505.0" r="9.0" fill="url(#gA)"/>
<circle cx="630.7" cy="252.2" r="7.0" fill="url(#gA)"/>
<circle cx="670.2" cy="166.2" r="7.0" fill="url(#gA)"/>
<circle cx="258.5" cy="58.5" r="7.0" fill="url(#gA)"/>
<circle cx="759.5" cy="15.9" r="9.0" fill="url(#gA)"/>
<circle cx="348.9" cy="497.2" r="7.0" fill="url(#gA)"/>
<circle cx="806.6" cy="351.6" r="7.0" fill="url(#gA)"/>
<circle cx="538.2" cy="28.8" r="7.0" fill="url(#gA)"/>
<circle cx="331.2" cy="31.2" r="11.0" fill="url(#gA)"/>
<circle cx="710.6" cy="316.2" r="12.0" fill="url(#gA)"/>
<circle cx="763.6" cy="274.9" r="6.0" fill="url(#gA)"/>
<circle cx="365.6" cy="177.1" r="7.0" fill="url(#gA)"/>
<circle cx="650.9" cy="283.7" r="10.0" fill="url(#gA)"/>
<circle cx="756.0" cy="542.2" r="6.0" fill="url(#gA)"/>
<circle cx="413.6" cy="309.2" r="6.0" fill="url(#gA)"/>
<circle cx="413.1" cy="147.4" r="11.0" fill="url(#gA)"/>
<circle cx="785.2" cy="238.9" r="7.0" fill="url(#gA)"/>
<circle cx="464.1" cy="256.5" r="6.0" fill="url(#gA)"/>
<circle cx="560.8" cy="521.5" r="7.0" fill="url(#gA)"/>
<circle cx="249.1" cy="507.8" r="6.0" fill="url(#gA)"/>
<circle cx="625.2" cy="66.7" r="9.0" fill="url(#gA)"/>
<circle cx="493.6" cy="208.9" r="8.0" fill="url(#gA)"/>
<circle cx="624.5" cy="153.4" r="9.0" fill="url(#gA)"/>
<circle cx="851.7" cy="349.9" r="8.0" fill="url(#gA)"/>
<circle cx="324.7" cy="344.7" r="6.0" fill="url(#gA)"/>
<circle cx="272.9" cy="13.0" r="9.0" fill="url(#gA)"/>
<circle cx="390.5" cy="313.5" r="7.0" fill="url(#gA)"/>
<circle cx="725.8" cy="527.2" r="8.0" fill="url(#gA)"/>
<circle cx="425.8" cy="83.8" r="7.0" fill="url(#gA)"/>
<circle cx="458.6" cy="374.8" r="9.0" fill="url(#gA)"/>
<circle cx="444.6" cy="524.8" r="6.0" fill="url(#gA)"/>
<circle cx="604.2" cy="4.8" r="6.0" fill="url(#gA)"/>
<circle cx="365.0" cy="162.4" r="10.0" fill="url(#gA)"/>
<circle cx="557.9" cy="70.6" r="7.0" fill="url(#gA)"/>
<circle cx="557.5" cy="162.4" r="7.0" fill="url(#gA)"/>
<circle cx="643.3" cy="197.7" r="7.0" fill="url(#gA)"/>
<circle cx="414.2" cy="536.8" r="9.0" fill="url(#gA)"/>
<circle cx="611.9" cy="224.9" r="9.0" fill="url(#gA)"/>
<circle cx="780.4" cy="200.4" r="6.0" fill="url(#gA)"/>
<circle cx="631.4" cy="557.6" r="6.0" fill="url(#gA)"/>
<circle cx="631.2" cy="466.2" r="6.0" fill="url(#gA)"/>
<circle cx="342.7" cy="460.9" r="7.0" fill="url(#gA)"/>
<circle cx="797.7" cy="193.9" r="6.0" fill="url(#gA)"/>
<circle cx="861.1" cy="366.6" r="8.0" fill="url(#gA)"/>
<circle cx="465.7" cy="172.4" r="7.0" fill="url(#gA)"/>
<circle cx="194.5" cy="397.1" r="7.0" fill="url(#gA)"/>
<circle cx="180.6" cy="301.9" r="8.0" fill="url(#gA)"/>
<circle cx="389.3" cy="204.3" r="8.0" fill="url(#gA)"/>
<circle cx="167.3" cy="368.1" r="9.0" fill="url(#gA)"/>
<circle cx="488.1" cy="383.1" r="8.0" fill="url(#gA)"/>
<circle cx="850.6" cy="571.8" r="6.0" fill="url(#gA)"/>
<circle cx="551.1" cy="333.7" r="11.0" fill="url(#gA)"/>
<circle cx="322.1" cy="72.9" r="8.0" fill="url(#gA)"/>
<circle cx="338.0" cy="383.6" r="9.0" fill="url(#gA)"/>
<circle cx="367.9" cy="560.2" r="7.0" fill="url(#gA)"/>
<circle cx="531.8" cy="97.8" r="8.0" fill="url(#gA)"/>
<circle cx="842.1" cy="450.5" r="6.0" fill="url(#gA)"/>
<circle cx="746.8" cy="14.5" r="8.0" fill="url(#gA)"/>
<circle cx="635.1" cy="499.8" r="6.0" fill="url(#gA)"/>
<circle cx="838.8" cy="203.9" r="8.0" fill="url(#gA)"/>
<circle cx="467.9" cy="188.5" r="7.0" fill="url(#gA)"/>
<circle cx="151.6" cy="221.7" r="10.0" fill="url(#gA)"/>
<circle cx="117.1" cy="389.6" r="6.0" fill="url(#gA)"/>
<circle cx="433.3" cy="187.6" r="6.0" fill="url(#gA)"/>
<circle cx="742.2" cy="540.5" r="6.0" fill="url(#gA)"/>
<circle cx="638.7" cy="423.5" r="6.0" fill="url(#gA)"/>
<circle cx="259.2" cy="547.5" r="7.0" fill="url(#gA)"/>
<circle cx="399.2" cy="110.4" r="9.0" fill="url(#gA)"/>
<circle cx="702.9" cy="374.4" r="12.0" fill="url(#gA)"/>
<circle cx="798.0" cy="184.8" r="8.0" fill="url(#gA)"/>
<circle cx="504.6" cy="287.1" r="8.0" fill="url(#gA)"/>
<circle cx="210.5" cy="511.0" r="6.0" fill="url(#gA)"/>
<circle cx="416.9" cy="11.1" r="10.0" fill="url(#gA)"/>
<circle cx="356.1" cy="280.1" r="6.0" fill="url(#gA)"/>
<circle cx="427.4" cy="451.3" r="7.0" fill="url(#gA)"/>
<circle cx="387.7" cy="426.7" r="9.0" fill="url(#gA)"/>
<circle cx="669.7" cy="100.9" r="8.0" fill="url(#gA)"/>
<circle cx="639.9" cy="306.2" r="7.0" fill="url(#gA)"/>
<circle cx="358.3" cy="103.9" r="7.0" fill="url(#gA)"/>
<circle cx="844.1" cy="338.1" r="12.0" fill="url(#gA)"/>
<circle cx="763.9" cy="104.5" r="7.0" fill="url(#gA)"/>
<circle cx="852.2" cy="115.0" r="10.0" fill="url(#gA)"/>
<circle cx="205.3" cy="404.9" r="6.0" fill="url(#gA)"/>
<circle cx="224.9" cy="277.8" r="7.0" fill="url(#gA)"/>
<circle cx="480.4" cy="474.9" r="8.0" fill="url(#gA)"/>
<circle cx="549.7" cy="375.0" r="8.0" fill="url(#gA)"/>
<circle cx="648.8" cy="158.9" r="8.0" fill="url(#gA)"/>
<circle cx="531.6" cy="385.1" r="12.0" fill="url(#gA)"/>
<circle cx="123.2" cy="90.0" r="6.0" fill="url(#gA)"/>
<circle cx="732.2" cy="33.8" r="8.0" fill="url(#gA)"/>
<circle cx="155.0" cy="440.0" r="13.0" fill="url(#gA)"/>
<circle cx="688.4" cy="342.2" r="8.0" fill="url(#gA)"/>
<circle cx="670.4" cy="38.7" r="10.0" fill="url(#gA)"/>
<circle cx="162.8" cy="31.0" r="7.0" fill="url(#gA)"/>
<circle cx="529.0" cy="159.1" r="7.0" fill="url(#gA)"/>
<circle cx="660.9" cy="202.4" r="7.0" fill="url(#gA)"/>
<circle cx="442.1" cy="280.6" r="8.0" fill="url(#gA)"/>
<circle cx="746.3" cy="274.1" r="6.0" fill="url(#gA)"/>
<circle cx="477.9" cy="85.5" r="7.0" fill="url(#gA)"/>
<circle cx="435.1" cy="296.4" r="7.0" fill="url(#gA)"/>
<circle cx="302.3" cy="338.7" r="6.0" fill="url(#gA)"/>
<circle cx="488.0" cy="410.0" r="12.0" fill="url(#gA)"/>
<circle cx="850.7" cy="186.9" r="6.0" fill="url(#gA)"/>
<circle cx="559.0" cy="491.2" r="7.0" fill="url(#gA)"/>
<circle cx="828.3" cy="215.2" r="7.0" fill="url(#gA)"/>
<circle cx="364.1" cy="423.4" r="8.0" fill="url(#gA)"/>
<circle cx="660.4" cy="228.0" r="9.0" fill="url(#gA)"/>
<circle cx="271.4" cy="232.4" r="8.0" fill="url(#gA)"/>
<circle cx="721.6" cy="276.6" r="10.0" fill="url(#gA)"/>
<circle cx="827.6" cy="338.0" r="6.0" fill="url(#gA)"/>
<circle cx="158.2" cy="238.2" r="9.0" fill="url(#gA)"/>
<circle cx="549.2" cy="24.4" r="6.0" fill="url(#gA)"/>
<circle cx="697.2" cy="54.4" r="9.0" fill="url(#gA)"/>
<circle cx="301.0" cy="467.1" r="12.0" fill="url(#gA)"/>
<circle cx="626.5" cy="41.6" r="10.0" fill="url(#gA)"/>
<circle cx="190.0" cy="243.6" r="8.0" fill="url(#gA)"/>
<circle cx="655.6" cy="192.0" r="9.0" fill="url(#gA)"/>
<circle cx="683.4" cy="556.8" r="10.0" fill="url(#gA)"/>
<circle cx="681.3" cy="540.2" r="8.0" fill="url(#gA)"/>
<circle cx="744.3" cy="325.5" r="7.0" fill="url(#gA)"/>
<circle cx="716.1" cy="429.1" r="6.0" fill="url(#gA)"/>
<circle cx="658.4" cy="170.1" r="8.0" fill="url(#gA)"/>
<circle cx="640.6" cy="24.4" r="6.0" fill="url(#gA)"/>
<circle cx="658.5" cy="182.1" r="6.0" fill="url(#gA)"/>
<circle cx="378.8" cy="297.6" r="8.0" fill="url(#gA)"/>
<circle cx="146.3" cy="342.1" r="7.0" fill="url(#gA)"/>
<circle cx="652.0" cy="470.2" r="7.0" fill="url(#gA)"/>
<circle cx="454.7" cy="63.8" r="6.0" fill="url(#gA)"/>
<circle cx="282.1" cy="38.5" r="7.0" fill="url(#gA)"/>
<circle cx="781.8" cy="575.6" r="7.0" fill="url(#gA)"/>
<circle cx="639.1" cy="465.7" r="6.0" fill="url(#gA)"/>
<circle cx="284.2" cy="531.5" r="8.0" fill="url(#gA)"/>
<circle cx="554.6" cy="509.2" r="10.0" fill="url(#gA)"/>
<circle cx="651.5" cy="109.4" r="7.0" fill="url(#gA)"/>
<circle cx="638.5" cy="275.6" r="10.0" fill="url(#gA)"/>
<circle cx="751.0" cy="475.5" r="11.0" fill="url(#gA)"/>
<circle cx="861.6" cy="309.3" r="9.0" fill="url(#gA)"/>
<circle cx="636.2" cy="523.4" r="9.0" fill="url(#gA)"/>
<circle cx="272.2" cy="23.6" r="7.0" fill="url(#gA)"/>
<circle cx="543.1" cy="422.1" r="9.0" fill="url(#gA)"/>
<circle cx="116.5" cy="258.0" r="6.0" fill="url(#gA)"/>
<circle cx="318.0" cy="526.0" r="6.0" fill="url(#gA)"/>
<circle cx="254.2" cy="518.3" r="6.0" fill="url(#gA)"/>
<circle cx="355.7" cy="435.7" r="6.0" fill="url(#gA)"/>
<circle cx="647.1" cy="388.1" r="7.0" fill="url(#gA)"/>
<circle cx="765.6" cy="300.8" r="8.0" fill="url(#gA)"/>
<circle cx="665.6" cy="288.0" r="7.0" fill="url(#gA)"/>
<circle cx="596.8" cy="303.5" r="8.0" fill="url(#gA)"/>
<circle cx="306.7" cy="221.2" r="8.0" fill="url(#gA)"/>
<circle cx="671.3" cy="541.4" r="7.0" fill="url(#gA)"/>
<circle cx="403.6" cy="130.5" r="6.0" fill="url(#gA)"/>
<circle cx="146.5" cy="167.2" r="9.0" fill="url(#gA)"/>
<circle cx="131.9" cy="518.3" r="7.0" fill="url(#gA)"/>
<circle cx="427.9" cy="511.2" r="7.0" fill="url(#gA)"/>
<circle cx="548.3" cy="437.7" r="7.0" fill="url(#gA)"/>
<circle cx="242.7" cy="260.3" r="7.0" fill="url(#gA)"/>
<circle cx="133.4" cy="177.7" r="8.0" fill="url(#gA)"/>
<circle cx="630.1" cy="55.4" r="7.0" fill="url(#gA)"/>
<circle cx="659.7" cy="23.1" r="8.0" fill="url(#gA)"/>
<circle cx="450.9" cy="204.5" r="9.0" fill="url(#gA)"/>
<circle cx="665.2" cy="70.8" r="8.0" fill="url(#gA)"/>
<circle cx="402.4" cy="291.1" r="10.0" fill="url(#gA)"/>
<circle cx="618.5" cy="485.5" r="7.0" fill="url(#gA)"/>
<circle cx="288.9" cy="299.8" r="9.0" fill="url(#gA)"/>
<circle cx="396.1" cy="540.4" r="7.0" fill="url(#gA)"/>
<circle cx="383.9" cy="561.6" r="6.0" fill="url(#gA)"/>
<circle cx="608.2" cy="153.0" r="7.0" fill="url(#gA)"/>
<circle cx="789.5" cy="550.8" r="7.0" fill="url(#gA)"/>
<circle cx="465.9" cy="49.3" r="6.0" fill="url(#gA)"/>
<circle cx="123.0" cy="133.2" r="8.0" fill="url(#gA)"/>
<circle cx="338.2" cy="105.9" r="7.0" fill="url(#gA)"/>
<circle cx="139.6" cy="410.6" r="9.0" fill="url(#gA)"/>
<circle cx="171.1" cy="188.3" r="6.0" fill="url(#gA)"/>
<circle cx="385.0" cy="76.8" r="7.0" fill="url(#gA)"/>
<circle cx="788.1" cy="203.3" r="8.0" fill="url(#gA)"/>
<circle cx="857.9" cy="145.6" r="6.0" fill="url(#gA)"/>
<circle cx="242.9" cy="30.1" r="6.0" fill="url(#gA)"/>
<circle cx="446.3" cy="466.3" r="10.0" fill="url(#gA)"/>
<circle cx="833.9" cy="100.5" r="8.0" fill="url(#gA)"/>
<circle cx="761.9" cy="41.2" r="7.0" fill="url(#gA)"/>
<circle cx="566.1" cy="482.9" r="7.0" fill="url(#gA)"/>
<circle cx="852.8" cy="141.8" r="6.0" fill="url(#gA)"/>
<circle cx="485.3" cy="539.7" r="7.0" fill="url(#gA)"/>
<circle cx="588.7" cy="370.2" r="7.0" fill="url(#gA)"/>
<circle cx="846.4" cy="465.7" r="9.0" fill="url(#gA)"/>
<circle cx="793.9" cy="243.9" r="7.0" fill="url(#gA)"/>
<circle cx="702.3" cy="392.0" r="10.0" fill="url(#gA)"/>
<circle cx="229.7" cy="572.1" r="7.0" fill="url(#gA)"/>
<circle cx="303.7" cy="345.6" r="6.0" fill="url(#gA)"/>
<circle cx="256.9" cy="33.0" r="8.0" fill="url(#gA)"/>
<circle cx="570.3" cy="76.9" r="10.0" fill="url(#gA)"/>
<circle cx="673.9" cy="482.0" r="6.0" fill="url(#gA)"/>
<circle cx="808.0" cy="82.1" r="7.0" fill="url(#gA)"/>
<circle cx="629.4" cy="450.5" r="12.0" fill="url(#gA)"/>
<circle cx="858.8" cy="560.0" r="8.0" fill="url(#gA)"/>
<circle cx="851.7" cy="216.5" r="7.0" fill="url(#gA)"/>
<circle cx="674.0" cy="467.3" r="6.0" fill="url(#gA)"/>
<circle cx="768.6" cy="225.2" r="6.0" fill="url(#gA)"/>
<circle cx="312.1" cy="77.5" r="8.0" fill="url(#gA)"/>
<circle cx="846.8" cy="436.5" r="7.0" fill="url(#gA)"/>
<circle cx="836.4" cy="50.5" r="6.0" fill="url(#gA)"/>
<circle cx="324.1" cy="104.7" r="7.0" fill="url(#gA)"/>
<circle cx="686.7" cy="496.6" r="10.0" fill="url(#gA)"/>
<circle cx="131.0" cy="95.1" r="7.0" fill="url(#gA)"/>
<circle cx="834.4" cy="544.7" r="7.0" fill="url(#gA)"/>
<circle cx="281.9" cy="390.6" r="8.0" fill="url(#gA)"/>
<circle cx="775.5" cy="395.1" r="9.0" fill="url(#gA)"/>
<circle cx="182.2" cy="313.6" r="7.0" fill="url(#gA)"/>
<circle cx="820.7" cy="25.7" r="7.0" fill="url(#gA)"/>
<circle cx="673.9" cy="5.4" r="8.0" fill="url(#gA)"/>
<circle cx="358.0" cy="218.4" r="6.0" fill="url(#gA)"/>
<circle cx="277.9" cy="568.9" r="6.0" fill="url(#gA)"/>
<circle cx="298.1" cy="9.5" r="6.0" fill="url(#gA)"/>
<circle cx="515.1" cy="462.1" r="8.0" fill="url(#gA)"/>
<circle cx="398.9" cy="202.1" r="7.0" fill="url(#gA)"/>
<circle cx="549.7" cy="403.8" r="7.0" fill="url(#gA)"/>
<circle cx="374.0" cy="189.1" r="8.0" fill="url(#gA)"/>
<circle cx="807.2" cy="543.7" r="9.0" fill="url(#gA)"/>
<circle cx="238.6" cy="343.4" r="11.0" fill="url(#gA)"/>
<circle cx="252.5" cy="485.9" r="8.0" fill="url(#gA)"/>
<circle cx="419.4" cy="392.2" r="8.0" fill="url(#gA)"/>
<circle cx="759.4" cy="550.2" r="7.0" fill="url(#gA)"/>
<circle cx="533.6" cy="12.3" r="8.0" fill="url(#gA)"/>
<circle cx="502.3" cy="53.3" r="7.0" fill="url(#gA)"/>
<circle cx="713.5" cy="53.8" r="9.0" fill="url(#gA)"/>
<circle cx="561.3" cy="153.3" r="8.0" fill="url(#gA)"/>
<circle cx="732.8" cy="128.5" r="7.0" fill="url(#gA)"/>
<circle cx="268.5" cy="365.1" r="7.0" fill="url(#gA)"/>
<circle cx="659.8" cy="326.5" r="8.0" fill="url(#gA)"/>
<circle cx="831.3" cy="417.8" r="6.0" fill="url(#gA)"/>
<circle cx="511.8" cy="515.2" r="6.0" fill="url(#gA)"/>
<circle cx="619.9" cy="364.6" r="6.0" fill="url(#gA)"/>
<circle cx="260.4" cy="17.1" r="7.0" fill="url(#gA)"/>
<circle cx="501.4" cy="536.5" r="8.0" fill="url(#gA)"/>
<circle cx="762.7" cy="249.9" r="8.0" fill="url(#gA)"/>
<circle cx="734.8" cy="534.3" r="9.0" fill="url(#gA)"/>
<circle cx="408.0" cy="353.8" r="8.0" fill="url(#gA)"/>
<circle cx="771.1" cy="157.1" r="7.0" fill="url(#gA)"/>
<circle cx="700.4" cy="39.2" r="7.0" fill="url(#gA)"/>
<circle cx="323.5" cy="422.3" r="9.0" fill="url(#gA)"/>
<circle cx="857.9" cy="251.3" r="6.0" fill="url(#gA)"/>
<circle cx="775.2" cy="179.4" r="7.0" fill="url(#gA)"/>
<circle cx="814.4" cy="161.0" r="6.0" fill="url(#gA)"/>
<circle cx="815.2" cy="343.6" r="8.0" fill="url(#gA)"/>
<circle cx="792.4" cy="151.1" r="6.0" fill="url(#gA)"/>
<circle cx="441.2" cy="319.5" r="7.0" fill="url(#gA)"/>
<circle cx="398.9" cy="98.4" r="7.0" fill="url(#gA)"/>
<circle cx="449.8" cy="147.8" r="7.0" fill="url(#gA)"/>
<circle cx="157.2" cy="170.2" r="6.0" fill="url(#gA)"/>
<circle cx="275.5" cy="309.2" r="7.0" fill="url(#gA)"/>
<circle cx="348.4" cy="477.4" r="7.0" fill="url(#gA)"/>
<circle cx="565.4" cy="435.9" r="10.0" fill="url(#gA)"/>
<circle cx="298.9" cy="352.9" r="7.0" fill="url(#gA)"/>
<circle cx="342.7" cy="268.3" r="6.0" fill="url(#gA)"/>
<circle cx="534.4" cy="44.5" r="6.0" fill="url(#gA)"/>
<circle cx="749.7" cy="332.1" r="6.0" fill="url(#gA)"/>
<circle cx="188.7" cy="412.4" r="9.0" fill="url(#gA)"/>
<circle cx="790.3" cy="405.0" r="7.0" fill="url(#gA)"/>
<circle cx="599.1" cy="519.3" r="6.0" fill="url(#gA)"/>
<circle cx="854.0" cy="81.0" r="7.0" fill="url(#gA)"/>
<circle cx="801.5" cy="276.7" r="8.0" fill="url(#gA)"/>
<circle cx="179.2" cy="497.3" r="7.0" fill="url(#gA)"/>
<circle cx="309.9" cy="563.3" r="6.0" fill="url(#gA)"/>
<circle cx="788.4" cy="329.3" r="8.0" fill="url(#gA)"/>
<circle cx="463.0" cy="265.3" r="7.0" fill="url(#gA)"/>
<circle cx="424.7" cy="54.0" r="7.0" fill="url(#gA)"/>
<circle cx="734.3" cy="355.5" r="7.0" fill="url(#gA)"/>
<circle cx="774.0" cy="114.0" r="7.0" fill="url(#gA)"/>
<circle cx="211.0" cy="337.9" r="7.0" fill="url(#gA)"/>
<circle cx="586.5" cy="43.8" r="8.0" fill="url(#gA)"/>
<circle cx="738.5" cy="549.3" r="6.0" fill="url(#gA)"/>
<circle cx="574.6" cy="394.8" r="6.0" fill="url(#gA)"/>
<circle cx="718.6" cy="27.3" r="8.0" fill="url(#gA)"/>
<circle cx="544.5" cy="246.2" r="8.0" fill="url(#gA)"/>
<circle cx="385.2" cy="15.2" r="10.0" fill="url(#gA)"/>
<circle cx="442.4" cy="366.1" r="7.0" fill="url(#gA)"/>
<circle cx="181.4" cy="451.3" r="6.0" fill="url(#gA)"/>
<circle cx="601.2" cy="335.2" r="6.0" fill="url(#gA)"/>
<circle cx="490.5" cy="294.1" r="7.0" fill="url(#gA)"/>
<circle cx="484.2" cy="251.7" r="8.0" fill="url(#gA)"/>
<circle cx="412.0" cy="161.3" r="6.0" fill="url(#gA)"/>
<circle cx="464.2" cy="66.9" r="7.0" fill="url(#gA)"/>
<circle cx="300.1" cy="87.8" r="7.0" fill="url(#gA)"/>
<circle cx="425.2" cy="30.5" r="7.0" fill="url(#gA)"/>
<circle cx="349.3" cy="465.7" r="7.0" fill="url(#gA)"/>
<circle cx="184.2" cy="266.7" r="7.0" fill="url(#gA)"/>
<circle cx="138.0" cy="476.9" r="12.0" fill="url(#gA)"/>
<circle cx="664.8" cy="6.8" r="7.0" fill="url(#gA)"/>
<circle cx="728.1" cy="409.5" r="7.0" fill="url(#gA)"/>
<circle cx="506.3" cy="563.7" r="8.0" fill="url(#gA)"/>
<circle cx="636.9" cy="88.9" r="6.0" fill="url(#gA)"/>
<circle cx="116.0" cy="244.3" r="11.0" fill="url(#gA)"/>
<circle cx="183.4" cy="82.8" r="8.0" fill="url(#gA)"/>
<circle cx="394.3" cy="271.2" r="9.0" fill="url(#gA)"/>
<circle cx="408.2" cy="197.9" r="6.0" fill="url(#gA)"/>
<circle cx="574.5" cy="199.3" r="6.0" fill="url(#gA)"/>
<circle cx="548.7" cy="34.3" r="6.0" fill="url(#gA)"/>
<circle cx="527.6" cy="74.0" r="7.0" fill="url(#gA)"/>
<circle cx="154.9" cy="161.4" r="6.0" fill="url(#gA)"/>
<circle cx="841.8" cy="555.4" r="6.0" fill="url(#gA)"/>
<circle cx="860.1" cy="157.3" r="8.0" fill="url(#gA)"/>
<circle cx="579.0" cy="359.6" r="7.0" fill="url(#gA)"/>
<circle cx="490.4" cy="262.9" r="8.0" fill="url(#gA)"/>
<circle cx="728.2" cy="183.3" r="7.0" fill="url(#gA)"/>
<circle cx="628.3" cy="373.5" r="6.0" fill="url(#gA)"/>
<circle cx="191.6" cy="100.5" r="16.7" fill="url(#gA)"/>
<circle cx="154.8" cy="66.0" r="15.6" fill="url(#gA)"/>
<circle cx="138.0" cy="147.0" r="15.6" fill="url(#gA)"/>
<circle cx="127.0" cy="205.4" r="17.9" fill="url(#gA)"/>
<circle cx="172.7" cy="221.0" r="12.3" fill="url(#gA)"/>
<circle cx="310.0" cy="37.0" r="14.5" fill="url(#gA)"/>
<circle cx="277.6" cy="82.6" r="13.4" fill="url(#gA)"/>
<circle cx="351.2" cy="137.3" r="24.5" fill="url(#gA)"/>
<circle cx="457.2" cy="111.7" r="29.0" fill="url(#gA)"/>
<circle cx="414.8" cy="235.5" r="29.0" fill="url(#gA)"/>
<circle cx="380.2" cy="100.5" r="16.7" fill="url(#gA)"/>
<circle cx="446.0" cy="169.7" r="17.9" fill="url(#gA)"/>
<circle cx="284.3" cy="187.5" r="15.6" fill="url(#gA)"/>
<circle cx="249.7" cy="314.0" r="21.2" fill="url(#gA)"/>
<circle cx="191.6" cy="358.6" r="19.0" fill="url(#gA)"/>
<circle cx="294.3" cy="492.5" r="20.0" fill="url(#gA)"/>
<circle cx="374.6" cy="456.8" r="24.5" fill="url(#gA)"/>
<circle cx="457.2" cy="436.8" r="19.0" fill="url(#gA)"/>
<circle cx="439.4" cy="396.6" r="15.6" fill="url(#gA)"/>
<circle cx="439.4" cy="497.0" r="16.7" fill="url(#gA)"/>
<circle cx="370.0" cy="369.8" r="13.4" fill="url(#gA)"/>
<circle cx="392.5" cy="363.0" r="13.4" fill="url(#gA)"/>
<circle cx="419.3" cy="325.0" r="13.4" fill="url(#gA)"/>
<circle cx="464.0" cy="336.3" r="15.6" fill="url(#gA)"/>
<circle cx="211.7" cy="309.5" r="11.2" fill="url(#gA)"/>
<circle cx="285.4" cy="374.3" r="14.5" fill="url(#gA)"/>
<circle cx="310.0" cy="320.7" r="12.3" fill="url(#gA)"/>
<circle cx="205.0" cy="445.7" r="16.7" fill="url(#gA)"/>
<circle cx="135.9" cy="499.2" r="12.3" fill="url(#gA)"/>
<circle cx="305.5" cy="537.2" r="15.6" fill="url(#gA)"/>
<circle cx="518.2" cy="126.8" r="21.2" fill="url(#gA)"/>
<circle cx="556.2" cy="269.6" r="17.9" fill="url(#gA)"/>
<circle cx="529.4" cy="296.4" r="20.0" fill="url(#gA)"/>
<circle cx="634.3" cy="220.5" r="17.9" fill="url(#gA)"/>
<circle cx="654.4" cy="251.8" r="17.9" fill="url(#gA)"/>
<circle cx="725.8" cy="211.6" r="16.7" fill="url(#gA)"/>
<circle cx="803.9" cy="305.3" r="23.4" fill="url(#gA)"/>
<circle cx="618.7" cy="314.2" r="17.9" fill="url(#gA)"/>
<circle cx="596.4" cy="354.4" r="15.6" fill="url(#gA)"/>
<circle cx="705.7" cy="352.2" r="13.4" fill="url(#gA)"/>
<circle cx="828.4" cy="323.2" r="12.3" fill="url(#gA)"/>
<circle cx="801.7" cy="484.0" r="40.2" fill="url(#gA)"/>
<circle cx="692.3" cy="419.3" r="19.0" fill="url(#gA)"/>
<circle cx="672.2" cy="397.0" r="17.9" fill="url(#gA)"/>
<circle cx="609.7" cy="466.1" r="19.0" fill="url(#gA)"/>
<circle cx="681.2" cy="455.0" r="13.4" fill="url(#gA)"/>
<circle cx="737.0" cy="394.7" r="14.5" fill="url(#gA)"/>
<circle cx="757.0" cy="414.8" r="13.4" fill="url(#gA)"/>
<circle cx="500.4" cy="434.9" r="14.5" fill="url(#gA)"/>
<circle cx="538.3" cy="535.3" r="16.7" fill="url(#gA)"/>
<circle cx="504.9" cy="394.7" r="16.7" fill="url(#gA)"/>
<rect x="487" y="473" width="140" height="13" fill="#000" opacity="0.35"/>
</g></g>
<g><clipPath id="cA2"><rect x="867" y="9" width="739.5" height="560.5"/></clipPath>
<g clip-path="url(#cA2)">
<rect x="867" y="9" width="739.5" height="560.5" fill="#0a0a0a"/>
<circle cx="1396.3" cy="389.6" r="58.0" fill="url(#gSd)"/>
<circle cx="1469.7" cy="366.7" r="47.5" fill="url(#gSd)"/>
<circle cx="887.5" cy="412.5" r="47.5" fill="url(#gSd)"/>
<circle cx="875.0" cy="480.0" r="42.5" fill="url(#gSd)"/>
<circle cx="1061.7" cy="394.2" r="42.2" fill="url(#gSd)"/>
<circle cx="1116.7" cy="394.2" r="36.8" fill="url(#gSd)"/>
<circle cx="1025.0" cy="357.0" r="31.0" fill="url(#gSd)"/>
<circle cx="1469.7" cy="536.3" r="58.0" fill="url(#gSd)"/>
<circle cx="1387.0" cy="527.0" r="36.8" fill="url(#gSd)"/>
<circle cx="1300.0" cy="531.7" r="47.5" fill="url(#gSd)"/>
<circle cx="1401.0" cy="27.5" r="42.2" fill="url(#gSd)"/>
<circle cx="1469.7" cy="27.5" r="36.8" fill="url(#gSd)"/>
<circle cx="1588.8" cy="18.3" r="26.4" fill="url(#gSd)"/>
<circle cx="1355.0" cy="30.0" r="28.7" fill="url(#gSd)"/>
<circle cx="1116.7" cy="114.6" r="42.2" fill="url(#gSd)"/>
<circle cx="1034.0" cy="119.0" r="31.6" fill="url(#gSd)"/>
<circle cx="905.8" cy="133.0" r="44.8" fill="url(#gSd)"/>
<circle cx="1560.0" cy="520.0" r="46.0" fill="url(#gSd)"/>
<circle cx="1540.0" cy="400.0" r="34.5" fill="url(#gSd)"/>
<circle cx="1600.0" cy="300.0" r="23.0" fill="url(#gSd)"/>
<circle cx="1180.0" cy="420.0" r="34.5" fill="url(#gSd)"/>
<circle cx="1230.0" cy="470.0" r="34.5" fill="url(#gSd)"/>
<circle cx="1350.0" cy="440.0" r="34.5" fill="url(#gSd)"/>
<circle cx="1500.0" cy="500.0" r="28.7" fill="url(#gSd)"/>
<circle cx="890.0" cy="540.0" r="34.5" fill="url(#gSd)"/>
<circle cx="1070.0" cy="450.0" r="28.7" fill="url(#gSd)"/>
<circle cx="1200.0" cy="20.0" r="34.5" fill="url(#gSd)"/>
<circle cx="1000.0" cy="40.0" r="34.5" fill="url(#gSd)"/>
<circle cx="1110.0" cy="30.0" r="34.5" fill="url(#gSd)"/>
<circle cx="1250.0" cy="150.0" r="23.0" fill="url(#gSd)"/>
<circle cx="1370.0" cy="180.0" r="28.7" fill="url(#gSd)"/>
<circle cx="1181.0" cy="367.0" r="42.5" fill="url(#gSd)"/>
<circle cx="1176.0" cy="440.0" r="34.5" fill="url(#gSd)"/>
<circle cx="1180.0" cy="275.0" r="25.3" fill="url(#gSd)"/>
<circle cx="1390.0" cy="300.0" r="34.5" fill="url(#gSd)"/>
<circle cx="1010.0" cy="240.0" r="28.7" fill="url(#gSd)"/>
<circle cx="1215.0" cy="500.0" r="34.5" fill="url(#gSd)"/>
<circle cx="1000.0" cy="370.0" r="28.7" fill="url(#gSd)"/>
<circle cx="1230.0" cy="390.0" r="28.7" fill="url(#gSd)"/>
<circle cx="1300.0" cy="410.0" r="28.7" fill="url(#gSd)"/>
<circle cx="1480.0" cy="200.0" r="23.0" fill="url(#gSd)"/>
<circle cx="1595.0" cy="200.0" r="23.0" fill="url(#gSd)"/>
<circle cx="895.0" cy="380.0" r="23.0" fill="url(#gSd)"/>
<circle cx="1190.0" cy="340.0" r="28.7" fill="url(#gSd)"/>
<circle cx="1440.0" cy="400.0" r="23.0" fill="url(#gSd)"/>
<circle cx="1500.0" cy="300.0" r="23.0" fill="url(#gSd)"/>
<circle cx="1340.0" cy="90.0" r="34.5" fill="url(#gSd)"/>
<circle cx="1286.0" cy="323.0" r="82.0" fill="url(#gA2)"/>
<circle cx="1279.4" cy="87.1" r="80.0" fill="url(#gS)"/>
<circle cx="1537.0" cy="123.8" r="68.0" fill="url(#gS)"/>
<circle cx="927.0" cy="194.8" r="45.5" fill="url(#gS)"/>
<circle cx="949.4" cy="302.5" r="63.0" fill="url(#gS)"/>
<circle cx="1011.0" cy="173.0" r="31.0" fill="url(#gS)"/>
<circle cx="1082.0" cy="181.0" r="47.0" fill="url(#gS)"/>
<circle cx="1121.3" cy="217.7" r="39.0" fill="url(#gS)"/>
<circle cx="1209.6" cy="211.0" r="52.5" fill="url(#gS)"/>
<circle cx="1340.0" cy="228.0" r="56.0" fill="url(#gS)"/>
<circle cx="1458.0" cy="235.0" r="66.0" fill="url(#gS)"/>
<circle cx="1414.6" cy="123.8" r="45.8" fill="url(#gS)"/>
<circle cx="1286.3" cy="309.4" r="27.5" fill="url(#gS)"/>
<circle cx="1341.3" cy="320.9" r="29.8" fill="url(#gS)"/>
<circle cx="1332.0" cy="375.9" r="25.2" fill="url(#gS)"/>
<circle cx="1364.0" cy="398.8" r="18.3" fill="url(#gS)"/>
<circle cx="1423.8" cy="316.3" r="25.2" fill="url(#gS)"/>
<circle cx="1582.0" cy="275.0" r="34.4" fill="url(#gS)"/>
<circle cx="1575.0" cy="348.4" r="41.3" fill="url(#gS)"/>
<circle cx="1524.7" cy="453.8" r="41.3" fill="url(#gS)"/>
<circle cx="1433.0" cy="467.6" r="36.7" fill="url(#gS)"/>
<circle cx="1588.8" cy="440.0" r="27.5" fill="url(#gS)"/>
<circle cx="1001.0" cy="479.0" r="90.0" fill="url(#gS)"/>
<circle cx="1168.0" cy="515.0" r="82.0" fill="url(#gS)"/>
<circle cx="969.0" cy="478.0" r="38.0" fill="url(#gS)"/>
<circle cx="1373.4" cy="114.6" r="13.8" fill="url(#gS)"/>
<circle cx="1515.5" cy="64.2" r="12.8" fill="url(#gS)"/>
<circle cx="1529.2" cy="91.7" r="13.8" fill="url(#gS)"/>
<circle cx="1531.5" cy="126.0" r="12.8" fill="url(#gS)"/>
<circle cx="1272.5" cy="238.4" r="18.3" fill="url(#gS)"/>
<circle cx="1396.3" cy="265.9" r="18.3" fill="url(#gS)"/>
<circle cx="889.8" cy="330.0" r="18.3" fill="url(#gS)"/>
<circle cx="1027.3" cy="522.6" r="13.8" fill="url(#gS)"/>
<circle cx="960.8" cy="534.0" r="18.3" fill="url(#gS)"/>
<circle cx="1125.9" cy="426.3" r="13.8" fill="url(#gS)"/>
<circle cx="1290.9" cy="435.5" r="13.8" fill="url(#gS)"/>
<circle cx="1290.9" cy="467.6" r="18.3" fill="url(#gS)"/>
<circle cx="1318.4" cy="476.7" r="20.6" fill="url(#gS)"/>
<circle cx="1196.9" cy="144.4" r="10.0" fill="url(#gS)"/>
<circle cx="1364.0" cy="470.0" r="18.0" fill="url(#gS)"/>
<circle cx="1066.3" cy="284.2" r="41.3" fill="url(#gS)"/>
<circle cx="1116.7" cy="316.3" r="41.3" fill="url(#gS)"/>
</g></g>
<g><clipPath id="cB1"><rect x="118" y="581" width="738" height="560"/></clipPath>
<g clip-path="url(#cB1)">
<rect x="118" y="581" width="738" height="560" fill="#5a5a5a"/>
<circle cx="543.0" cy="578.6" r="12.6" fill="url(#gBd)"/>
<circle cx="319.8" cy="1102.5" r="19.2" fill="url(#gBd)"/>
<circle cx="576.0" cy="644.5" r="10.0" fill="url(#gBd)"/>
<circle cx="768.5" cy="692.5" r="12.6" fill="url(#gB)"/>
<circle cx="263.2" cy="1116.8" r="18.3" fill="url(#gB)"/>
<circle cx="157.4" cy="745.8" r="17.2" fill="url(#gBd)"/>
<circle cx="110.6" cy="964.2" r="14.1" fill="url(#gBd)"/>
<circle cx="151.2" cy="1136.6" r="10.3" fill="url(#gBd)"/>
<circle cx="676.3" cy="1061.0" r="10.2" fill="url(#gB)"/>
<circle cx="705.1" cy="783.4" r="16.9" fill="url(#gBd)"/>
<circle cx="114.9" cy="598.1" r="12.2" fill="url(#gBd)"/>
<circle cx="832.0" cy="685.0" r="19.1" fill="url(#gB)"/>
<circle cx="812.7" cy="1117.4" r="14.1" fill="url(#gBd)"/>
<circle cx="376.9" cy="875.3" r="19.3" fill="url(#gBd)"/>
<circle cx="759.6" cy="592.2" r="21.3" fill="url(#gBd)"/>
<circle cx="521.2" cy="752.2" r="13.8" fill="url(#gBd)"/>
<circle cx="242.5" cy="616.4" r="11.8" fill="url(#gBd)"/>
<circle cx="630.4" cy="1149.1" r="11.9" fill="url(#gBd)"/>
<circle cx="482.1" cy="1057.3" r="11.6" fill="url(#gBd)"/>
<circle cx="662.6" cy="1121.9" r="17.6" fill="url(#gB)"/>
<circle cx="705.3" cy="632.8" r="15.2" fill="url(#gB)"/>
<circle cx="221.1" cy="1060.9" r="13.5" fill="url(#gBd)"/>
<circle cx="451.5" cy="1150.6" r="20.2" fill="url(#gBd)"/>
<circle cx="857.2" cy="1127.7" r="17.5" fill="url(#gBd)"/>
<circle cx="486.5" cy="767.3" r="11.1" fill="url(#gBd)"/>
<circle cx="298.0" cy="960.6" r="15.6" fill="url(#gB)"/>
<circle cx="727.0" cy="946.5" r="19.6" fill="url(#gB)"/>
<circle cx="735.8" cy="774.0" r="20.1" fill="url(#gBd)"/>
<circle cx="469.7" cy="972.0" r="18.6" fill="url(#gB)"/>
<circle cx="580.8" cy="1020.3" r="17.6" fill="url(#gB)"/>
<circle cx="654.1" cy="587.0" r="11.9" fill="url(#gBd)"/>
<circle cx="628.0" cy="936.9" r="10.5" fill="url(#gBd)"/>
<circle cx="254.6" cy="591.7" r="15.6" fill="url(#gBd)"/>
<circle cx="288.3" cy="1094.8" r="10.0" fill="url(#gB)"/>
<circle cx="415.3" cy="732.5" r="14.9" fill="url(#gBd)"/>
<circle cx="195.2" cy="1053.2" r="14.5" fill="url(#gB)"/>
<circle cx="135.3" cy="926.9" r="11.1" fill="url(#gB)"/>
<circle cx="215.7" cy="916.6" r="16.8" fill="url(#gBd)"/>
<circle cx="374.1" cy="1089.2" r="10.0" fill="url(#gBd)"/>
<circle cx="392.9" cy="821.4" r="12.7" fill="url(#gBd)"/>
<circle cx="329.0" cy="1135.0" r="14.6" fill="url(#gBd)"/>
<circle cx="304.9" cy="1140.0" r="16.0" fill="url(#gB)"/>
<circle cx="480.8" cy="737.1" r="15.7" fill="url(#gB)"/>
<circle cx="118.0" cy="879.9" r="13.3" fill="url(#gBd)"/>
<circle cx="816.9" cy="1024.5" r="12.9" fill="url(#gBd)"/>
<circle cx="330.2" cy="923.7" r="15.7" fill="url(#gBd)"/>
<circle cx="596.8" cy="921.2" r="18.9" fill="url(#gBd)"/>
<circle cx="699.8" cy="1099.2" r="11.7" fill="url(#gBd)"/>
<circle cx="358.7" cy="660.0" r="17.0" fill="url(#gB)"/>
<circle cx="723.4" cy="610.7" r="12.8" fill="url(#gBd)"/>
<circle cx="127.4" cy="990.1" r="21.7" fill="url(#gBd)"/>
<circle cx="864.7" cy="977.7" r="10.6" fill="url(#gB)"/>
<circle cx="746.3" cy="698.2" r="17.7" fill="url(#gB)"/>
<circle cx="829.8" cy="984.2" r="11.6" fill="url(#gBd)"/>
<circle cx="570.8" cy="811.1" r="11.9" fill="url(#gBd)"/>
<circle cx="579.8" cy="596.3" r="11.3" fill="url(#gB)"/>
<circle cx="395.4" cy="612.8" r="10.7" fill="url(#gBd)"/>
<circle cx="209.8" cy="821.4" r="13.8" fill="url(#gBd)"/>
<circle cx="307.5" cy="891.0" r="13.1" fill="url(#gBd)"/>
<circle cx="172.6" cy="958.4" r="11.1" fill="url(#gBd)"/>
<circle cx="772.7" cy="849.7" r="13.9" fill="url(#gB)"/>
<circle cx="711.7" cy="588.1" r="18.7" fill="url(#gB)"/>
<circle cx="624.3" cy="700.4" r="11.4" fill="url(#gB)"/>
<circle cx="845.3" cy="956.7" r="19.8" fill="url(#gBd)"/>
<circle cx="372.3" cy="794.7" r="11.6" fill="url(#gB)"/>
<circle cx="436.5" cy="1064.9" r="16.2" fill="url(#gB)"/>
<circle cx="407.8" cy="627.3" r="10.4" fill="url(#gBd)"/>
<circle cx="472.6" cy="1012.0" r="10.0" fill="url(#gBd)"/>
<circle cx="464.4" cy="1087.1" r="17.4" fill="url(#gBd)"/>
<circle cx="432.9" cy="841.0" r="11.2" fill="url(#gBd)"/>
<circle cx="400.3" cy="1081.6" r="11.8" fill="url(#gB)"/>
<circle cx="300.6" cy="731.9" r="11.9" fill="url(#gB)"/>
<circle cx="325.6" cy="707.4" r="15.8" fill="url(#gBd)"/>
<circle cx="465.6" cy="1119.3" r="11.4" fill="url(#gBd)"/>
<circle cx="126.9" cy="704.7" r="10.9" fill="url(#gB)"/>
<circle cx="412.0" cy="1135.7" r="14.4" fill="url(#gB)"/>
<circle cx="597.6" cy="820.8" r="21.7" fill="url(#gB)"/>
<circle cx="418.9" cy="597.1" r="16.6" fill="url(#gB)"/>
<circle cx="858.1" cy="872.0" r="14.2" fill="url(#gB)"/>
<circle cx="480.3" cy="1113.7" r="10.6" fill="url(#gBd)"/>
<circle cx="292.5" cy="600.3" r="14.8" fill="url(#gB)"/>
<circle cx="153.6" cy="719.1" r="14.9" fill="url(#gB)"/>
<circle cx="413.0" cy="879.2" r="11.0" fill="url(#gBd)"/>
<circle cx="345.2" cy="646.3" r="11.0" fill="url(#gB)"/>
<circle cx="639.1" cy="598.9" r="12.4" fill="url(#gBd)"/>
<circle cx="529.5" cy="1090.7" r="17.8" fill="url(#gB)"/>
<circle cx="683.9" cy="904.3" r="15.3" fill="url(#gB)"/>
<circle cx="158.0" cy="669.2" r="13.2" fill="url(#gB)"/>
<circle cx="620.3" cy="736.6" r="10.8" fill="url(#gBd)"/>
<circle cx="759.7" cy="1121.5" r="17.3" fill="url(#gBd)"/>
<circle cx="734.8" cy="992.6" r="11.1" fill="url(#gBd)"/>
<circle cx="510.0" cy="670.3" r="18.5" fill="url(#gBd)"/>
<circle cx="457.4" cy="822.8" r="15.3" fill="url(#gBd)"/>
<circle cx="725.2" cy="814.3" r="10.6" fill="url(#gBd)"/>
<circle cx="849.3" cy="590.1" r="16.9" fill="url(#gB)"/>
<circle cx="271.4" cy="731.7" r="12.4" fill="url(#gBd)"/>
<circle cx="623.0" cy="873.9" r="13.4" fill="url(#gB)"/>
<circle cx="547.9" cy="1011.6" r="18.6" fill="url(#gB)"/>
<circle cx="571.1" cy="692.1" r="16.2" fill="url(#gBd)"/>
<circle cx="787.3" cy="709.7" r="21.7" fill="url(#gBd)"/>
<circle cx="789.8" cy="1098.9" r="17.4" fill="url(#gB)"/>
<circle cx="527.5" cy="985.9" r="14.5" fill="url(#gBd)"/>
<circle cx="737.3" cy="1080.6" r="18.7" fill="url(#gBd)"/>
<circle cx="566.9" cy="1131.6" r="12.2" fill="url(#gB)"/>
<circle cx="660.5" cy="606.6" r="15.8" fill="url(#gBd)"/>
<circle cx="469.3" cy="629.5" r="12.3" fill="url(#gBd)"/>
<circle cx="226.7" cy="624.8" r="11.8" fill="url(#gB)"/>
<circle cx="581.8" cy="1130.8" r="11.2" fill="url(#gBd)"/>
<circle cx="636.2" cy="1028.6" r="16.9" fill="url(#gB)"/>
<circle cx="501.6" cy="600.2" r="15.0" fill="url(#gB)"/>
<circle cx="815.9" cy="624.3" r="14.3" fill="url(#gBd)"/>
<circle cx="455.3" cy="793.0" r="16.2" fill="url(#gB)"/>
<circle cx="681.2" cy="1088.2" r="11.8" fill="url(#gBd)"/>
<circle cx="861.6" cy="696.7" r="15.1" fill="url(#gB)"/>
<circle cx="613.2" cy="642.5" r="12.0" fill="url(#gBd)"/>
<circle cx="454.9" cy="613.9" r="14.6" fill="url(#gBd)"/>
<circle cx="122.0" cy="1051.4" r="21.5" fill="url(#gB)"/>
<circle cx="562.0" cy="650.1" r="12.8" fill="url(#gBd)"/>
<circle cx="248.1" cy="819.8" r="13.2" fill="url(#gBd)"/>
<circle cx="640.1" cy="623.2" r="11.3" fill="url(#gB)"/>
<circle cx="595.8" cy="788.5" r="14.4" fill="url(#gBd)"/>
<circle cx="290.6" cy="900.8" r="13.2" fill="url(#gBd)"/>
<circle cx="166.7" cy="831.3" r="18.8" fill="url(#gBd)"/>
<circle cx="334.8" cy="891.0" r="20.0" fill="url(#gBd)"/>
<circle cx="212.6" cy="774.6" r="15.9" fill="url(#gBd)"/>
<circle cx="307.7" cy="1079.4" r="15.3" fill="url(#gB)"/>
<circle cx="788.1" cy="673.6" r="11.6" fill="url(#gB)"/>
<circle cx="482.7" cy="1076.4" r="10.5" fill="url(#gBd)"/>
<circle cx="571.4" cy="926.0" r="12.7" fill="url(#gBd)"/>
<circle cx="626.5" cy="624.8" r="10.8" fill="url(#gB)"/>
<circle cx="460.9" cy="661.1" r="12.6" fill="url(#gBd)"/>
<circle cx="799.4" cy="655.1" r="13.2" fill="url(#gBd)"/>
<circle cx="528.9" cy="955.2" r="15.0" fill="url(#gB)"/>
<circle cx="702.5" cy="1055.8" r="13.5" fill="url(#gB)"/>
<circle cx="189.7" cy="721.3" r="14.3" fill="url(#gBd)"/>
<circle cx="587.1" cy="1060.7" r="17.0" fill="url(#gBd)"/>
<circle cx="417.5" cy="762.0" r="11.2" fill="url(#gB)"/>
<circle cx="156.8" cy="986.8" r="14.9" fill="url(#gB)"/>
<circle cx="787.4" cy="864.7" r="11.3" fill="url(#gB)"/>
<circle cx="423.4" cy="702.2" r="10.3" fill="url(#gB)"/>
<circle cx="536.2" cy="739.2" r="11.3" fill="url(#gB)"/>
<circle cx="819.8" cy="841.3" r="15.3" fill="url(#gBd)"/>
<circle cx="209.7" cy="688.6" r="18.3" fill="url(#gB)"/>
<circle cx="231.7" cy="976.3" r="11.3" fill="url(#gBd)"/>
<circle cx="108.8" cy="1118.3" r="13.7" fill="url(#gBd)"/>
<circle cx="754.6" cy="954.6" r="15.0" fill="url(#gBd)"/>
<circle cx="482.9" cy="571.7" r="19.5" fill="url(#gBd)"/>
<circle cx="288.5" cy="1051.9" r="17.8" fill="url(#gBd)"/>
<circle cx="437.6" cy="748.7" r="18.8" fill="url(#gBd)"/>
<circle cx="445.0" cy="969.0" r="10.7" fill="url(#gBd)"/>
<circle cx="274.9" cy="572.9" r="15.1" fill="url(#gB)"/>
<circle cx="233.8" cy="1124.0" r="20.7" fill="url(#gBd)"/>
<circle cx="512.4" cy="1058.4" r="14.4" fill="url(#gB)"/>
<circle cx="179.8" cy="922.2" r="14.3" fill="url(#gB)"/>
<circle cx="370.1" cy="1119.1" r="11.1" fill="url(#gB)"/>
<circle cx="446.0" cy="996.7" r="10.5" fill="url(#gB)"/>
<circle cx="323.7" cy="951.8" r="10.4" fill="url(#gBd)"/>
<circle cx="820.7" cy="797.3" r="20.3" fill="url(#gBd)"/>
<circle cx="863.7" cy="646.5" r="19.0" fill="url(#gB)"/>
<circle cx="607.5" cy="712.3" r="16.0" fill="url(#gBd)"/>
<circle cx="548.3" cy="863.1" r="20.8" fill="url(#gBd)"/>
<circle cx="857.7" cy="1028.1" r="12.7" fill="url(#gBd)"/>
<circle cx="453.7" cy="589.8" r="11.5" fill="url(#gBd)"/>
<circle cx="253.4" cy="1141.9" r="13.7" fill="url(#gBd)"/>
<circle cx="862.5" cy="1000.3" r="21.0" fill="url(#gBd)"/>
<circle cx="221.4" cy="576.2" r="17.0" fill="url(#gBd)"/>
<circle cx="670.2" cy="772.0" r="15.7" fill="url(#gB)"/>
<circle cx="344.7" cy="732.9" r="15.6" fill="url(#gB)"/>
<circle cx="312.6" cy="664.6" r="14.8" fill="url(#gB)"/>
<circle cx="797.6" cy="617.1" r="14.2" fill="url(#gB)"/>
<circle cx="692.1" cy="1125.7" r="17.4" fill="url(#gB)"/>
<circle cx="655.4" cy="1014.9" r="15.6" fill="url(#gBd)"/>
<circle cx="859.6" cy="758.8" r="18.6" fill="url(#gB)"/>
<circle cx="431.2" cy="1100.8" r="21.4" fill="url(#gBd)"/>
<circle cx="482.1" cy="857.2" r="17.9" fill="url(#gB)"/>
<circle cx="469.4" cy="761.6" r="13.1" fill="url(#gB)"/>
<circle cx="383.8" cy="571.1" r="11.4" fill="url(#gBd)"/>
<circle cx="856.4" cy="892.5" r="13.7" fill="url(#gB)"/>
<circle cx="293.2" cy="816.2" r="11.2" fill="url(#gBd)"/>
<circle cx="504.9" cy="961.5" r="18.1" fill="url(#gB)"/>
<circle cx="503.1" cy="783.7" r="11.8" fill="url(#gBd)"/>
<circle cx="266.9" cy="1065.4" r="15.8" fill="url(#gBd)"/>
<circle cx="611.6" cy="600.3" r="15.1" fill="url(#gBd)"/>
<circle cx="742.3" cy="915.2" r="12.5" fill="url(#gB)"/>
<circle cx="371.5" cy="771.1" r="12.1" fill="url(#gB)"/>
<circle cx="237.2" cy="1083.8" r="21.1" fill="url(#gBd)"/>
<circle cx="596.2" cy="737.7" r="20.7" fill="url(#gBd)"/>
<circle cx="738.9" cy="737.6" r="17.4" fill="url(#gBd)"/>
<circle cx="358.4" cy="1138.4" r="17.9" fill="url(#gB)"/>
<circle cx="484.3" cy="815.6" r="15.7" fill="url(#gB)"/>
<circle cx="544.7" cy="637.5" r="11.6" fill="url(#gB)"/>
<circle cx="281.2" cy="995.0" r="15.2" fill="url(#gBd)"/>
<circle cx="625.2" cy="795.4" r="10.4" fill="url(#gBd)"/>
<circle cx="731.8" cy="627.0" r="11.4" fill="url(#gB)"/>
<circle cx="639.5" cy="789.2" r="11.4" fill="url(#gBd)"/>
<circle cx="661.2" cy="795.4" r="15.7" fill="url(#gB)"/>
<circle cx="635.2" cy="677.9" r="15.2" fill="url(#gBd)"/>
<circle cx="194.7" cy="825.4" r="10.9" fill="url(#gBd)"/>
<circle cx="504.1" cy="719.1" r="19.3" fill="url(#gBd)"/>
<circle cx="734.7" cy="894.8" r="13.1" fill="url(#gB)"/>
<circle cx="234.5" cy="930.5" r="11.6" fill="url(#gBd)"/>
<circle cx="799.5" cy="823.9" r="19.6" fill="url(#gBd)"/>
<circle cx="586.1" cy="619.0" r="12.5" fill="url(#gB)"/>
<circle cx="229.7" cy="798.4" r="10.8" fill="url(#gBd)"/>
<circle cx="484.9" cy="685.5" r="15.3" fill="url(#gBd)"/>
<circle cx="288.8" cy="936.6" r="16.6" fill="url(#gB)"/>
<circle cx="333.9" cy="844.3" r="14.9" fill="url(#gB)"/>
<circle cx="218.2" cy="966.0" r="13.1" fill="url(#gBd)"/>
<circle cx="265.4" cy="981.0" r="14.8" fill="url(#gB)"/>
<circle cx="864.3" cy="917.1" r="20.7" fill="url(#gB)"/>
<circle cx="642.7" cy="659.7" r="11.1" fill="url(#gBd)"/>
<circle cx="587.2" cy="1108.3" r="16.0" fill="url(#gBd)"/>
<circle cx="187.9" cy="967.2" r="15.1" fill="url(#gB)"/>
<circle cx="520.2" cy="887.9" r="13.4" fill="url(#gBd)"/>
<circle cx="333.3" cy="670.6" r="14.0" fill="url(#gB)"/>
<circle cx="485.1" cy="647.6" r="12.5" fill="url(#gBd)"/>
<circle cx="492.8" cy="1005.3" r="19.0" fill="url(#gB)"/>
<circle cx="540.8" cy="1059.3" r="15.9" fill="url(#gBd)"/>
<circle cx="126.6" cy="673.9" r="17.7" fill="url(#gB)"/>
<circle cx="626.1" cy="897.2" r="18.3" fill="url(#gB)"/>
<circle cx="437.8" cy="708.7" r="12.1" fill="url(#gBd)"/>
<circle cx="748.2" cy="674.2" r="14.9" fill="url(#gBd)"/>
<circle cx="826.1" cy="753.8" r="11.4" fill="url(#gB)"/>
<circle cx="471.4" cy="927.8" r="21.7" fill="url(#gB)"/>
<circle cx="415.0" cy="907.7" r="13.3" fill="url(#gBd)"/>
<circle cx="213.1" cy="1030.7" r="12.3" fill="url(#gB)"/>
<circle cx="805.9" cy="591.2" r="10.4" fill="url(#gB)"/>
<circle cx="548.8" cy="1105.6" r="12.3" fill="url(#gBd)"/>
<circle cx="538.6" cy="1132.0" r="17.8" fill="url(#gBd)"/>
<circle cx="401.5" cy="841.4" r="12.0" fill="url(#gBd)"/>
<circle cx="842.1" cy="807.4" r="10.8" fill="url(#gB)"/>
<circle cx="696.0" cy="612.3" r="15.9" fill="url(#gBd)"/>
<circle cx="365.4" cy="927.5" r="12.4" fill="url(#gB)"/>
<circle cx="199.6" cy="1089.1" r="13.7" fill="url(#gB)"/>
<circle cx="817.7" cy="868.1" r="12.1" fill="url(#gB)"/>
<circle cx="538.2" cy="601.2" r="16.8" fill="url(#gBd)"/>
<circle cx="698.9" cy="810.1" r="11.8" fill="url(#gB)"/>
<circle cx="837.2" cy="656.6" r="11.2" fill="url(#gBd)"/>
<circle cx="130.3" cy="774.4" r="10.3" fill="url(#gBd)"/>
<circle cx="650.2" cy="694.8" r="10.2" fill="url(#gB)"/>
<circle cx="113.4" cy="641.7" r="21.4" fill="url(#gBd)"/>
<circle cx="463.3" cy="1002.5" r="11.3" fill="url(#gB)"/>
<circle cx="565.5" cy="1041.8" r="13.5" fill="url(#gB)"/>
<circle cx="819.3" cy="582.8" r="11.5" fill="url(#gBd)"/>
<circle cx="709.2" cy="828.4" r="11.7" fill="url(#gBd)"/>
<circle cx="818.8" cy="970.0" r="14.6" fill="url(#gB)"/>
<circle cx="703.4" cy="891.6" r="16.5" fill="url(#gB)"/>
<circle cx="196.1" cy="942.3" r="18.1" fill="url(#gB)"/>
<circle cx="637.6" cy="708.4" r="11.8" fill="url(#gB)"/>
<circle cx="114.9" cy="803.0" r="14.6" fill="url(#gBd)"/>
<circle cx="611.6" cy="1144.2" r="10.4" fill="url(#gBd)"/>
<circle cx="149.3" cy="815.3" r="11.8" fill="url(#gB)"/>
<circle cx="553.0" cy="621.1" r="12.3" fill="url(#gB)"/>
<circle cx="678.2" cy="641.0" r="13.6" fill="url(#gBd)"/>
<circle cx="134.3" cy="820.5" r="11.5" fill="url(#gB)"/>
<circle cx="227.1" cy="1149.9" r="13.9" fill="url(#gBd)"/>
<circle cx="615.8" cy="1002.4" r="15.0" fill="url(#gBd)"/>
<circle cx="124.7" cy="571.1" r="10.4" fill="url(#gBd)"/>
<circle cx="266.1" cy="618.2" r="14.0" fill="url(#gBd)"/>
<circle cx="711.8" cy="707.4" r="19.4" fill="url(#gBd)"/>
<circle cx="353.0" cy="602.5" r="41.3" fill="url(#gB)"/>
<circle cx="408.0" cy="662.0" r="32.0" fill="url(#gB)"/>
<circle cx="256.7" cy="680.4" r="32.0" fill="url(#gB)"/>
<circle cx="224.6" cy="740.0" r="27.5" fill="url(#gB)"/>
<circle cx="268.0" cy="783.6" r="29.8" fill="url(#gB)"/>
<circle cx="334.6" cy="776.7" r="32.0" fill="url(#gB)"/>
<circle cx="463.0" cy="708.0" r="20.6" fill="url(#gB)"/>
<circle cx="541.0" cy="710.2" r="16.0" fill="url(#gB)"/>
<circle cx="534.0" cy="792.7" r="25.2" fill="url(#gB)"/>
<circle cx="412.5" cy="799.6" r="23.0" fill="url(#gB)"/>
<circle cx="366.7" cy="840.9" r="25.2" fill="url(#gB)"/>
<circle cx="215.4" cy="868.4" r="36.7" fill="url(#gB)"/>
<circle cx="277.3" cy="854.6" r="34.4" fill="url(#gB)"/>
<circle cx="160.4" cy="785.9" r="23.0" fill="url(#gB)"/>
<circle cx="137.5" cy="850.0" r="20.6" fill="url(#gB)"/>
<circle cx="618.8" cy="767.5" r="25.2" fill="url(#gB)"/>
<circle cx="705.9" cy="749.2" r="23.0" fill="url(#gB)"/>
<circle cx="774.7" cy="781.3" r="27.5" fill="url(#gB)"/>
<circle cx="664.6" cy="840.9" r="34.4" fill="url(#gB)"/>
<circle cx="733.4" cy="859.2" r="29.8" fill="url(#gB)"/>
<circle cx="797.5" cy="914.2" r="45.8" fill="url(#gB)"/>
<circle cx="673.8" cy="955.5" r="41.3" fill="url(#gB)"/>
<circle cx="572.9" cy="973.8" r="34.4" fill="url(#gB)"/>
<circle cx="463.0" cy="891.3" r="20.6" fill="url(#gB)"/>
<circle cx="536.3" cy="914.2" r="20.6" fill="url(#gB)"/>
<circle cx="591.3" cy="859.2" r="18.3" fill="url(#gB)"/>
<circle cx="430.9" cy="932.5" r="23.0" fill="url(#gB)"/>
<circle cx="385.0" cy="941.7" r="20.6" fill="url(#gB)"/>
<circle cx="256.7" cy="950.9" r="25.2" fill="url(#gB)"/>
<circle cx="183.3" cy="1015.0" r="27.5" fill="url(#gB)"/>
<circle cx="238.3" cy="1010.5" r="25.2" fill="url(#gB)"/>
<circle cx="357.5" cy="1024.2" r="59.6" fill="url(#gB)"/>
<circle cx="760.9" cy="1038.0" r="36.7" fill="url(#gB)"/>
<circle cx="788.4" cy="987.5" r="25.2" fill="url(#gB)"/>
<circle cx="628.0" cy="1088.4" r="36.7" fill="url(#gB)"/>
<circle cx="508.8" cy="1115.9" r="18.3" fill="url(#gB)"/>
<circle cx="137.5" cy="1102.0" r="23.0" fill="url(#gB)"/>
<circle cx="201.7" cy="1116.0" r="20.6" fill="url(#gB)"/>
<circle cx="421.7" cy="1033.4" r="23.0" fill="url(#gB)"/>
<circle cx="476.7" cy="1033.4" r="20.6" fill="url(#gB)"/>
<circle cx="834.2" cy="1070.0" r="23.0" fill="url(#gB)"/>
<circle cx="843.4" cy="850.0" r="18.3" fill="url(#gB)"/>
<circle cx="811.3" cy="735.4" r="20.6" fill="url(#gB)"/>
<circle cx="678.4" cy="685.0" r="27.5" fill="url(#gB)"/>
<circle cx="765.5" cy="643.8" r="27.5" fill="url(#gB)"/>
<circle cx="293.4" cy="634.6" r="23.0" fill="url(#gB)"/>
<circle cx="123.8" cy="740.0" r="23.0" fill="url(#gB)"/>
<circle cx="385.0" cy="703.3" r="23.0" fill="url(#gB)"/>
<circle cx="513.4" cy="850.0" r="23.0" fill="url(#gB)"/>
<circle cx="165.0" cy="611.7" r="45.8" fill="url(#gBb)"/>
</g></g>
<g><clipPath id="cB2"><rect x="867" y="581.5" width="739.5" height="560.0"/></clipPath>
<g clip-path="url(#cB2)">
<rect x="867" y="581.5" width="739.5" height="560.0" fill="url(#gStripe)"/>
<rect x="867" y="600" width="739.5" height="2" fill="#7e7e7e" opacity="0.5"/>
<rect x="867" y="623" width="739.5" height="2" fill="#7e7e7e" opacity="0.5"/>
<rect x="867" y="646" width="739.5" height="2" fill="#7e7e7e" opacity="0.5"/>
<rect x="867" y="669" width="739.5" height="2" fill="#7e7e7e" opacity="0.5"/>
<rect x="867" y="692" width="739.5" height="2" fill="#7e7e7e" opacity="0.5"/>
<rect x="867" y="715" width="739.5" height="2" fill="#7e7e7e" opacity="0.5"/>
<rect x="867" y="738" width="739.5" height="2" fill="#7e7e7e" opacity="0.5"/>
<rect x="867" y="761" width="739.5" height="2" fill="#7e7e7e" opacity="0.5"/>
<rect x="867" y="784" width="739.5" height="2" fill="#7e7e7e" opacity="0.5"/>
<rect x="867" y="807" width="739.5" height="2" fill="#7e7e7e" opacity="0.5"/>
<rect x="867" y="830" width="739.5" height="2" fill="#7e7e7e" opacity="0.5"/>
<rect x="867" y="853" width="739.5" height="2" fill="#7e7e7e" opacity="0.5"/>
<rect x="867" y="876" width="739.5" height="2" fill="#7e7e7e" opacity="0.5"/>
<rect x="867" y="899" width="739.5" height="2" fill="#7e7e7e" opacity="0.5"/>
<rect x="867" y="922" width="739.5" height="2" fill="#7e7e7e" opacity="0.5"/>
<rect x="867" y="945" width="739.5" height="2" fill="#7e7e7e" opacity="0.5"/>
<rect x="867" y="968" width="739.5" height="2" fill="#7e7e7e" opacity="0.5"/>
<rect x="867" y="991" width="739.5" height="2" fill="#7e7e7e" opacity="0.5"/>
<rect x="867" y="1014" width="739.5" height="2" fill="#7e7e7e" opacity="0.5"/>
<rect x="867" y="1037" width="739.5" height="2" fill="#7e7e7e" opacity="0.5"/>
<rect x="867" y="1060" width="739.5" height="2" fill="#7e7e7e" opacity="0.5"/>
<rect x="867" y="1083" width="739.5" height="2" fill="#7e7e7e" opacity="0.5"/>
<rect x="867" y="1106" width="739.5" height="2" fill="#7e7e7e" opacity="0.5"/>
<rect x="867" y="1129" width="739.5" height="2" fill="#7e7e7e" opacity="0.5"/>
<polygon points="1294,753 1332,760 1330,898 1300,900 1290,840" fill="#3a3a3a"/>
<polygon points="1081,946 1115,950 1112,994 1084,990" fill="#3a3a3a"/>
<circle cx="1062.3" cy="743.4" r="60.3" fill="url(#gC)"/>
<circle cx="1255.3" cy="738.5" r="36.2" fill="url(#gC)"/>
<circle cx="1207.0" cy="700.0" r="21.7" fill="url(#gC)"/>
<circle cx="1139.5" cy="690.3" r="38.6" fill="url(#gC)"/>
<circle cx="1511.0" cy="642.0" r="67.5" fill="url(#gCl)"/>
<circle cx="1400.0" cy="656.5" r="43.4" fill="url(#gCl)"/>
<circle cx="1559.3" cy="753.0" r="38.6" fill="url(#gC)"/>
<circle cx="1578.6" cy="849.5" r="33.8" fill="url(#gC)"/>
<circle cx="1573.7" cy="946.0" r="48.3" fill="url(#gC)"/>
<circle cx="1467.6" cy="1071.5" r="77.2" fill="url(#gC)"/>
<circle cx="1332.5" cy="1037.7" r="48.3" fill="url(#gC)"/>
<circle cx="1226.4" cy="1023.2" r="58.0" fill="url(#gC)"/>
<circle cx="1129.8" cy="1090.8" r="67.5" fill="url(#gC)"/>
<circle cx="1009.2" cy="1114.9" r="53.0" fill="url(#gC)"/>
<circle cx="879.0" cy="1100.4" r="38.6" fill="url(#gC)"/>
<circle cx="1139.5" cy="888.0" r="72.4" fill="url(#gC)"/>
<circle cx="1245.7" cy="849.5" r="38.6" fill="url(#gC)"/>
<circle cx="1250.5" cy="917.0" r="43.4" fill="url(#gC)"/>
<circle cx="961.0" cy="960.5" r="101.0" fill="url(#gC)"/>
<circle cx="1385.6" cy="873.6" r="113.4" fill="url(#gC)"/>
<path d="M932,958 C938,975 935,990 942,1006 L936,1010 C928,992 931,976 926,960 Z" fill="#0a0a0a"/>
<path d="M1318,828 C1330,845 1336,862 1332,885 L1326,880 C1324,862 1318,848 1310,832 Z" fill="#1a1a1a"/>
<path d="M1085,960 L1100,968 L1094,992 Z" fill="#1a1a1a"/>
<path d="M1275,900 C1285,905 1292,915 1290,930 L1282,925 Z" fill="#1a1a1a"/>
</g></g>
<rect x="463" y="15" width="797" height="90" fill="#fff"/>
<text x="518.3" y="77.0" font-size="45.50" fill="#000" textLength="684.3" lengthAdjust="spacingAndGlyphs">Non-degradable CS particles 50%</text>
<rect x="464" y="591.4" width="864" height="91.6" fill="#fff"/>
<text x="521.9" y="654.0" font-size="45.50" fill="#000" textLength="746.7" lengthAdjust="spacingAndGlyphs">Slightly degradable CS particles 40%</text>
<rect x="607.0" y="555.5" width="238.7" height="6.0" fill="#fff"/>
<rect x="607.0" y="561.5" width="1.5" height="5" fill="#ddd"/>
<rect x="630.9" y="561.5" width="1.5" height="5" fill="#ddd"/>
<rect x="654.7" y="561.5" width="1.5" height="5" fill="#ddd"/>
<rect x="678.6" y="561.5" width="1.5" height="5" fill="#ddd"/>
<rect x="702.5" y="561.5" width="1.5" height="5" fill="#ddd"/>
<rect x="726.4" y="561.5" width="1.5" height="5" fill="#ddd"/>
<rect x="750.2" y="561.5" width="1.5" height="5" fill="#ddd"/>
<rect x="774.1" y="561.5" width="1.5" height="5" fill="#ddd"/>
<rect x="798.0" y="561.5" width="1.5" height="5" fill="#ddd"/>
<rect x="821.8" y="561.5" width="1.5" height="5" fill="#ddd"/>
<rect x="845.7" y="561.5" width="1.5" height="5" fill="#ddd"/>
<text x="656.0" y="534.0" font-size="47.00" fill="#fff" textLength="142.4" lengthAdjust="spacingAndGlyphs" stroke="#333" stroke-width="0.6">50 µm</text>
<rect x="1387.0" y="555.5" width="205.0" height="6.0" fill="#fff"/>
<rect x="1387.0" y="561.5" width="1.5" height="5" fill="#ddd"/>
<rect x="1407.5" y="561.5" width="1.5" height="5" fill="#ddd"/>
<rect x="1428.0" y="561.5" width="1.5" height="5" fill="#ddd"/>
<rect x="1448.5" y="561.5" width="1.5" height="5" fill="#ddd"/>
<rect x="1469.0" y="561.5" width="1.5" height="5" fill="#ddd"/>
<rect x="1489.5" y="561.5" width="1.5" height="5" fill="#ddd"/>
<rect x="1510.0" y="561.5" width="1.5" height="5" fill="#ddd"/>
<rect x="1530.5" y="561.5" width="1.5" height="5" fill="#ddd"/>
<rect x="1551.0" y="561.5" width="1.5" height="5" fill="#ddd"/>
<rect x="1571.5" y="561.5" width="1.5" height="5" fill="#ddd"/>
<rect x="1592.0" y="561.5" width="1.5" height="5" fill="#ddd"/>
<text x="1413.2" y="543.0" font-size="47.00" fill="#fff" textLength="140.1" lengthAdjust="spacingAndGlyphs" stroke="#333" stroke-width="0.6">10 µm</text>
<rect x="607.0" y="1130.6" width="238.7" height="5.9" fill="#fff"/>
<rect x="607.0" y="1136.5" width="1.5" height="5" fill="#ddd"/>
<rect x="630.9" y="1136.5" width="1.5" height="5" fill="#ddd"/>
<rect x="654.7" y="1136.5" width="1.5" height="5" fill="#ddd"/>
<rect x="678.6" y="1136.5" width="1.5" height="5" fill="#ddd"/>
<rect x="702.5" y="1136.5" width="1.5" height="5" fill="#ddd"/>
<rect x="726.4" y="1136.5" width="1.5" height="5" fill="#ddd"/>
<rect x="750.2" y="1136.5" width="1.5" height="5" fill="#ddd"/>
<rect x="774.1" y="1136.5" width="1.5" height="5" fill="#ddd"/>
<rect x="798.0" y="1136.5" width="1.5" height="5" fill="#ddd"/>
<rect x="821.8" y="1136.5" width="1.5" height="5" fill="#ddd"/>
<rect x="845.7" y="1136.5" width="1.5" height="5" fill="#ddd"/>
<text x="663.1" y="1113.6" font-size="47.00" fill="#fff" textLength="172.3" lengthAdjust="spacingAndGlyphs" stroke="#333" stroke-width="0.6">100 µm</text>
<rect x="1298.7" y="1129.0" width="289.3" height="7.6" fill="#fff"/>
<rect x="1298.7" y="1136.6" width="1.5" height="5" fill="#ddd"/>
<rect x="1327.6" y="1136.6" width="1.5" height="5" fill="#ddd"/>
<rect x="1356.6" y="1136.6" width="1.5" height="5" fill="#ddd"/>
<rect x="1385.5" y="1136.6" width="1.5" height="5" fill="#ddd"/>
<rect x="1414.4" y="1136.6" width="1.5" height="5" fill="#ddd"/>
<rect x="1443.3" y="1136.6" width="1.5" height="5" fill="#ddd"/>
<rect x="1472.3" y="1136.6" width="1.5" height="5" fill="#ddd"/>
<rect x="1501.2" y="1136.6" width="1.5" height="5" fill="#ddd"/>
<rect x="1530.1" y="1136.6" width="1.5" height="5" fill="#ddd"/>
<rect x="1559.1" y="1136.6" width="1.5" height="5" fill="#ddd"/>
<rect x="1588.0" y="1136.6" width="1.5" height="5" fill="#ddd"/>
<text x="1386.0" y="1115.0" font-size="47.00" fill="#fff" textLength="142.9" lengthAdjust="spacingAndGlyphs" stroke="#333" stroke-width="0.6">50 µm</text>
<text x="12.0" y="111.5" font-size="79.4" font-weight="bold">(a)</text>
<text x="8.0" y="669.7" font-size="79.4" font-weight="bold">(b)</text>
<text x="348.2" y="1289.7" font-size="79.4" font-weight="bold">(c)</text>
<text x="14.1" y="2176.0" font-size="79.4" font-weight="bold">(d)</text>
<rect x="1752.5" y="396.0" width="11.4" height="6.8" fill="#ff0000"/>
<rect x="1772.5" y="379.7" width="11.4" height="23.1" fill="#ff0000"/>
<rect x="1792.4" y="358.4" width="11.4" height="44.4" fill="#ff0000"/>
<line x1="1798.1" y1="368.4" x2="1798.1" y2="400.8" stroke="#ffd0d0" stroke-width="2.2" stroke-dasharray="2 6"/>
<rect x="1812.4" y="320.0" width="11.4" height="82.8" fill="#ff0000"/>
<rect x="1832.3" y="263.9" width="11.4" height="138.9" fill="#ff0000"/>
<line x1="1838.0" y1="273.9" x2="1838.0" y2="400.8" stroke="#ffd0d0" stroke-width="2.2" stroke-dasharray="2 6"/>
<rect x="1852.3" y="218.5" width="11.4" height="184.3" fill="#ff0000"/>
<rect x="1872.3" y="180.6" width="11.4" height="222.2" fill="#ff0000"/>
<line x1="1878.0" y1="190.6" x2="1878.0" y2="400.8" stroke="#ffd0d0" stroke-width="2.2" stroke-dasharray="2 6"/>
<rect x="1892.2" y="149.7" width="11.4" height="253.1" fill="#ff0000"/>
<rect x="1912.2" y="127.0" width="11.4" height="275.8" fill="#ff0000"/>
<line x1="1917.9" y1="137.0" x2="1917.9" y2="400.8" stroke="#ffd0d0" stroke-width="2.2" stroke-dasharray="2 6"/>
<rect x="1932.1" y="108.7" width="11.4" height="294.1" fill="#ff0000"/>
<rect x="1952.1" y="95.7" width="11.4" height="307.1" fill="#ff0000"/>
<line x1="1957.8" y1="105.7" x2="1957.8" y2="400.8" stroke="#ffd0d0" stroke-width="2.2" stroke-dasharray="2 6"/>
<rect x="1972.1" y="89.0" width="11.4" height="313.8" fill="#ff0000"/>
<rect x="1992.0" y="86.0" width="11.4" height="316.8" fill="#ff0000"/>
<line x1="1997.7" y1="96.0" x2="1997.7" y2="400.8" stroke="#ffd0d0" stroke-width="2.2" stroke-dasharray="2 6"/>
<rect x="2012.0" y="89.0" width="11.4" height="313.8" fill="#ff0000"/>
<rect x="2031.9" y="95.7" width="11.4" height="307.1" fill="#ff0000"/>
<line x1="2037.6" y1="105.7" x2="2037.6" y2="400.8" stroke="#ffd0d0" stroke-width="2.2" stroke-dasharray="2 6"/>
<rect x="2051.9" y="108.7" width="11.4" height="294.1" fill="#ff0000"/>
<rect x="2071.9" y="127.4" width="11.4" height="275.4" fill="#ff0000"/>
<line x1="2077.6" y1="137.4" x2="2077.6" y2="400.8" stroke="#ffd0d0" stroke-width="2.2" stroke-dasharray="2 6"/>
<rect x="2091.8" y="149.6" width="11.4" height="253.2" fill="#ff0000"/>
<rect x="2111.8" y="181.0" width="11.4" height="221.8" fill="#ff0000"/>
<line x1="2117.5" y1="191.0" x2="2117.5" y2="400.8" stroke="#ffd0d0" stroke-width="2.2" stroke-dasharray="2 6"/>
<rect x="2131.7" y="219.0" width="11.4" height="183.8" fill="#ff0000"/>
<rect x="2151.7" y="263.0" width="11.4" height="139.8" fill="#ff0000"/>
<line x1="2157.4" y1="273.0" x2="2157.4" y2="400.8" stroke="#ffd0d0" stroke-width="2.2" stroke-dasharray="2 6"/>
<rect x="2171.6" y="321.0" width="11.4" height="81.8" fill="#ff0000"/>
<rect x="2191.6" y="376.8" width="11.4" height="26.0" fill="#ff0000"/>
<line x1="2197.3" y1="386.8" x2="2197.3" y2="400.8" stroke="#ffd0d0" stroke-width="2.2" stroke-dasharray="2 6"/>
<rect x="2211.6" y="389.6" width="11.4" height="13.2" fill="#ff0000"/>
<rect x="2231.5" y="396.4" width="11.4" height="6.4" fill="#ff0000"/>
<rect x="2251.5" y="399.3" width="11.4" height="3.5" fill="#ff0000"/>
<rect x="1708.3" y="24.5" width="738.5" height="378.3" fill="none" stroke="#000" stroke-width="3.6"/>
<line x1="1708.3" y1="402.8" x2="1708.3" y2="415" stroke="#000" stroke-width="3"/>
<line x1="1728.3" y1="402.8" x2="1728.3" y2="415" stroke="#000" stroke-width="3"/>
<line x1="1748.2" y1="402.8" x2="1748.2" y2="415" stroke="#000" stroke-width="3"/>
<line x1="1768.2" y1="402.8" x2="1768.2" y2="415" stroke="#000" stroke-width="3"/>
<line x1="1788.1" y1="402.8" x2="1788.1" y2="415" stroke="#000" stroke-width="3"/>
<line x1="1808.1" y1="402.8" x2="1808.1" y2="415" stroke="#000" stroke-width="3"/>
<line x1="1828.1" y1="402.8" x2="1828.1" y2="415" stroke="#000" stroke-width="3"/>
<line x1="1848.0" y1="402.8" x2="1848.0" y2="415" stroke="#000" stroke-width="3"/>
<line x1="1868.0" y1="402.8" x2="1868.0" y2="415" stroke="#000" stroke-width="3"/>
<line x1="1887.9" y1="402.8" x2="1887.9" y2="415" stroke="#000" stroke-width="3"/>
<line x1="1907.9" y1="402.8" x2="1907.9" y2="415" stroke="#000" stroke-width="3"/>
<line x1="1927.9" y1="402.8" x2="1927.9" y2="415" stroke="#000" stroke-width="3"/>
<line x1="1947.8" y1="402.8" x2="1947.8" y2="415" stroke="#000" stroke-width="3"/>
<line x1="1967.8" y1="402.8" x2="1967.8" y2="415" stroke="#000" stroke-width="3"/>
<line x1="1987.7" y1="402.8" x2="1987.7" y2="415" stroke="#000" stroke-width="3"/>
<line x1="2007.7" y1="402.8" x2="2007.7" y2="415" stroke="#000" stroke-width="3"/>
<line x1="2027.7" y1="402.8" x2="2027.7" y2="415" stroke="#000" stroke-width="3"/>
<line x1="2047.6" y1="402.8" x2="2047.6" y2="415" stroke="#000" stroke-width="3"/>
<line x1="2067.6" y1="402.8" x2="2067.6" y2="415" stroke="#000" stroke-width="3"/>
<line x1="2087.5" y1="402.8" x2="2087.5" y2="415" stroke="#000" stroke-width="3"/>
<line x1="2107.5" y1="402.8" x2="2107.5" y2="415" stroke="#000" stroke-width="3"/>
<line x1="2127.4" y1="402.8" x2="2127.4" y2="415" stroke="#000" stroke-width="3"/>
<line x1="2147.4" y1="402.8" x2="2147.4" y2="415" stroke="#000" stroke-width="3"/>
<line x1="2167.4" y1="402.8" x2="2167.4" y2="415" stroke="#000" stroke-width="3"/>
<line x1="2187.3" y1="402.8" x2="2187.3" y2="415" stroke="#000" stroke-width="3"/>
<line x1="2207.3" y1="402.8" x2="2207.3" y2="415" stroke="#000" stroke-width="3"/>
<line x1="2227.2" y1="402.8" x2="2227.2" y2="415" stroke="#000" stroke-width="3"/>
<line x1="2247.2" y1="402.8" x2="2247.2" y2="415" stroke="#000" stroke-width="3"/>
<line x1="2267.2" y1="402.8" x2="2267.2" y2="415" stroke="#000" stroke-width="3"/>
<line x1="2287.1" y1="402.8" x2="2287.1" y2="415" stroke="#000" stroke-width="3"/>
<line x1="2307.1" y1="402.8" x2="2307.1" y2="415" stroke="#000" stroke-width="3"/>
<line x1="2327.0" y1="402.8" x2="2327.0" y2="415" stroke="#000" stroke-width="3"/>
<line x1="2347.0" y1="402.8" x2="2347.0" y2="415" stroke="#000" stroke-width="3"/>
<line x1="2367.0" y1="402.8" x2="2367.0" y2="415" stroke="#000" stroke-width="3"/>
<line x1="2386.9" y1="402.8" x2="2386.9" y2="415" stroke="#000" stroke-width="3"/>
<line x1="2406.9" y1="402.8" x2="2406.9" y2="415" stroke="#000" stroke-width="3"/>
<line x1="2426.8" y1="402.8" x2="2426.8" y2="415" stroke="#000" stroke-width="3"/>
<line x1="2446.8" y1="402.8" x2="2446.8" y2="415" stroke="#000" stroke-width="3"/>
<text x="1732.5" y="430" font-size="39.6" text-anchor="end" transform="rotate(-90 1732.5 430)">0.0</text>
<text x="1792.4" y="430" font-size="39.6" text-anchor="end" transform="rotate(-90 1792.4 430)">1.0</text>
<text x="1852.2" y="430" font-size="39.6" text-anchor="end" transform="rotate(-90 1852.2 430)">1.5</text>
<text x="1912.1" y="430" font-size="39.6" text-anchor="end" transform="rotate(-90 1912.1 430)">1.6</text>
<text x="1972.0" y="430" font-size="39.6" text-anchor="end" transform="rotate(-90 1972.0 430)">1.7</text>
<text x="2031.9" y="430" font-size="39.6" text-anchor="end" transform="rotate(-90 2031.9 430)">1.8</text>
<text x="2091.8" y="430" font-size="39.6" text-anchor="end" transform="rotate(-90 2091.8 430)">2.0</text>
<text x="2151.6" y="430" font-size="39.6" text-anchor="end" transform="rotate(-90 2151.6 430)">3.0</text>
<text x="2211.5" y="430" font-size="39.6" text-anchor="end" transform="rotate(-90 2211.5 430)">4.0</text>
<text x="2271.4" y="430" font-size="39.6" text-anchor="end" transform="rotate(-90 2271.4 430)">8.0</text>
<text x="2331.3" y="430" font-size="39.6" text-anchor="end" transform="rotate(-90 2331.3 430)">10.0</text>
<text x="2391.1" y="430" font-size="39.6" text-anchor="end" transform="rotate(-90 2391.1 430)">20.0</text>
<text x="2451.0" y="430" font-size="39.6" text-anchor="end" transform="rotate(-90 2451.0 430)">40.0</text>
<text x="1853.8" y="548.0" font-size="45.50" fill="#000" textLength="449.1" lengthAdjust="spacingAndGlyphs">Particle diameter (µm)</text>
<text x="1685.2" y="384.5" font-size="49" transform="rotate(-90 1685.2 384.5)" textLength="212" lengthAdjust="spacingAndGlyphs">Frequency</text>
<line x1="1606" y1="60" x2="1792" y2="60" stroke="#ff0000" stroke-width="2"/>
<polygon points="1790,46 1819,60 1790,74" fill="#ff0000"/>
<rect x="1823.7" y="968.0" width="15.2" height="6.0" fill="#00b050" stroke="#5a8a30" stroke-width="1.8"/>
<rect x="1856.2" y="952.0" width="15.2" height="22.0" fill="#00b050" stroke="#5a8a30" stroke-width="1.8"/>
<line x1="1863.8" y1="962.0" x2="1863.8" y2="972.0" stroke="#d8f0e0" stroke-width="2" stroke-dasharray="2 14"/>
<rect x="1888.6" y="892.0" width="15.2" height="82.0" fill="#00b050" stroke="#5a8a30" stroke-width="1.8"/>
<line x1="1896.2" y1="902.0" x2="1896.2" y2="972.0" stroke="#d8f0e0" stroke-width="2" stroke-dasharray="2 14"/>
<rect x="1921.1" y="834.0" width="15.2" height="140.0" fill="#00b050" stroke="#5a8a30" stroke-width="1.8"/>
<line x1="1928.7" y1="844.0" x2="1928.7" y2="972.0" stroke="#d8f0e0" stroke-width="2" stroke-dasharray="2 14"/>
<rect x="1953.5" y="790.0" width="15.2" height="184.0" fill="#00b050" stroke="#5a8a30" stroke-width="1.8"/>
<line x1="1961.1" y1="800.0" x2="1961.1" y2="972.0" stroke="#d8f0e0" stroke-width="2" stroke-dasharray="2 14"/>
<rect x="1986.0" y="752.0" width="15.2" height="222.0" fill="#00b050" stroke="#5a8a30" stroke-width="1.8"/>
<line x1="1993.6" y1="762.0" x2="1993.6" y2="972.0" stroke="#d8f0e0" stroke-width="2" stroke-dasharray="2 14"/>
<rect x="2018.4" y="720.7" width="15.2" height="253.3" fill="#00b050" stroke="#5a8a30" stroke-width="1.8"/>
<line x1="2026.0" y1="730.7" x2="2026.0" y2="972.0" stroke="#d8f0e0" stroke-width="2" stroke-dasharray="2 14"/>
<rect x="2050.8" y="689.6" width="15.2" height="284.4" fill="#00b050" stroke="#5a8a30" stroke-width="1.8"/>
<line x1="2058.4" y1="699.6" x2="2058.4" y2="972.0" stroke="#d8f0e0" stroke-width="2" stroke-dasharray="2 14"/>
<rect x="2083.3" y="673.5" width="15.2" height="300.5" fill="#00b050" stroke="#5a8a30" stroke-width="1.8"/>
<line x1="2090.9" y1="683.5" x2="2090.9" y2="972.0" stroke="#d8f0e0" stroke-width="2" stroke-dasharray="2 14"/>
<rect x="2115.7" y="660.7" width="15.2" height="313.3" fill="#00b050" stroke="#5a8a30" stroke-width="1.8"/>
<line x1="2123.3" y1="670.7" x2="2123.3" y2="972.0" stroke="#d8f0e0" stroke-width="2" stroke-dasharray="2 14"/>
<rect x="2148.2" y="658.0" width="15.2" height="316.0" fill="#00b050" stroke="#5a8a30" stroke-width="1.8"/>
<line x1="2155.8" y1="668.0" x2="2155.8" y2="972.0" stroke="#d8f0e0" stroke-width="2" stroke-dasharray="2 14"/>
<rect x="2180.6" y="673.5" width="15.2" height="300.5" fill="#00b050" stroke="#5a8a30" stroke-width="1.8"/>
<line x1="2188.2" y1="683.5" x2="2188.2" y2="972.0" stroke="#d8f0e0" stroke-width="2" stroke-dasharray="2 14"/>
<rect x="2213.1" y="689.6" width="15.2" height="284.4" fill="#00b050" stroke="#5a8a30" stroke-width="1.8"/>
<line x1="2220.7" y1="699.6" x2="2220.7" y2="972.0" stroke="#d8f0e0" stroke-width="2" stroke-dasharray="2 14"/>
<rect x="2245.5" y="720.7" width="15.2" height="253.3" fill="#00b050" stroke="#5a8a30" stroke-width="1.8"/>
<line x1="2253.1" y1="730.7" x2="2253.1" y2="972.0" stroke="#d8f0e0" stroke-width="2" stroke-dasharray="2 14"/>
<rect x="2278.0" y="752.0" width="15.2" height="222.0" fill="#00b050" stroke="#5a8a30" stroke-width="1.8"/>
<line x1="2285.6" y1="762.0" x2="2285.6" y2="972.0" stroke="#d8f0e0" stroke-width="2" stroke-dasharray="2 14"/>
<rect x="2310.4" y="790.0" width="15.2" height="184.0" fill="#00b050" stroke="#5a8a30" stroke-width="1.8"/>
<line x1="2318.0" y1="800.0" x2="2318.0" y2="972.0" stroke="#d8f0e0" stroke-width="2" stroke-dasharray="2 14"/>
<rect x="2342.9" y="834.0" width="15.2" height="140.0" fill="#00b050" stroke="#5a8a30" stroke-width="1.8"/>
<line x1="2350.5" y1="844.0" x2="2350.5" y2="972.0" stroke="#d8f0e0" stroke-width="2" stroke-dasharray="2 14"/>
<rect x="2375.3" y="892.0" width="15.2" height="82.0" fill="#00b050" stroke="#5a8a30" stroke-width="1.8"/>
<line x1="2382.9" y1="902.0" x2="2382.9" y2="972.0" stroke="#d8f0e0" stroke-width="2" stroke-dasharray="2 14"/>
<rect x="2407.8" y="948.0" width="15.2" height="26.0" fill="#00b050" stroke="#5a8a30" stroke-width="1.8"/>
<line x1="2415.4" y1="958.0" x2="2415.4" y2="972.0" stroke="#d8f0e0" stroke-width="2" stroke-dasharray="2 14"/>
<rect x="1685.3" y="595.8" width="746.3" height="378.2" fill="none" stroke="#000" stroke-width="3.6"/>
<line x1="1685.3" y1="974.0" x2="1685.3" y2="986.5" stroke="#000" stroke-width="3"/>
<line x1="1717.7" y1="974.0" x2="1717.7" y2="986.5" stroke="#000" stroke-width="3"/>
<line x1="1750.2" y1="974.0" x2="1750.2" y2="986.5" stroke="#000" stroke-width="3"/>
<line x1="1782.6" y1="974.0" x2="1782.6" y2="986.5" stroke="#000" stroke-width="3"/>
<line x1="1815.1" y1="974.0" x2="1815.1" y2="986.5" stroke="#000" stroke-width="3"/>
<line x1="1847.5" y1="974.0" x2="1847.5" y2="986.5" stroke="#000" stroke-width="3"/>
<line x1="1880.0" y1="974.0" x2="1880.0" y2="986.5" stroke="#000" stroke-width="3"/>
<line x1="1912.4" y1="974.0" x2="1912.4" y2="986.5" stroke="#000" stroke-width="3"/>
<line x1="1944.9" y1="974.0" x2="1944.9" y2="986.5" stroke="#000" stroke-width="3"/>
<line x1="1977.3" y1="974.0" x2="1977.3" y2="986.5" stroke="#000" stroke-width="3"/>
<line x1="2009.8" y1="974.0" x2="2009.8" y2="986.5" stroke="#000" stroke-width="3"/>
<line x1="2042.2" y1="974.0" x2="2042.2" y2="986.5" stroke="#000" stroke-width="3"/>
<line x1="2074.7" y1="974.0" x2="2074.7" y2="986.5" stroke="#000" stroke-width="3"/>
<line x1="2107.1" y1="974.0" x2="2107.1" y2="986.5" stroke="#000" stroke-width="3"/>
<line x1="2139.6" y1="974.0" x2="2139.6" y2="986.5" stroke="#000" stroke-width="3"/>
<line x1="2172.0" y1="974.0" x2="2172.0" y2="986.5" stroke="#000" stroke-width="3"/>
<line x1="2204.5" y1="974.0" x2="2204.5" y2="986.5" stroke="#000" stroke-width="3"/>
<line x1="2236.9" y1="974.0" x2="2236.9" y2="986.5" stroke="#000" stroke-width="3"/>
<line x1="2269.4" y1="974.0" x2="2269.4" y2="986.5" stroke="#000" stroke-width="3"/>
<line x1="2301.8" y1="974.0" x2="2301.8" y2="986.5" stroke="#000" stroke-width="3"/>
<line x1="2334.3" y1="974.0" x2="2334.3" y2="986.5" stroke="#000" stroke-width="3"/>
<line x1="2366.7" y1="974.0" x2="2366.7" y2="986.5" stroke="#000" stroke-width="3"/>
<line x1="2399.2" y1="974.0" x2="2399.2" y2="986.5" stroke="#000" stroke-width="3"/>
<line x1="2431.6" y1="974.0" x2="2431.6" y2="986.5" stroke="#000" stroke-width="3"/>
<text x="1715.7" y="1002" font-size="39.6" text-anchor="end" transform="rotate(-90 1715.7 1002)">0.0</text>
<text x="1780.6" y="1002" font-size="39.6" text-anchor="end" transform="rotate(-90 1780.6 1002)">2.0</text>
<text x="1845.5" y="1002" font-size="39.6" text-anchor="end" transform="rotate(-90 1845.5 1002)">8.0</text>
<text x="1910.4" y="1002" font-size="39.6" text-anchor="end" transform="rotate(-90 1910.4 1002)">10.0</text>
<text x="1975.3" y="1002" font-size="39.6" text-anchor="end" transform="rotate(-90 1975.3 1002)">11.5</text>
<text x="2040.2" y="1002" font-size="39.6" text-anchor="end" transform="rotate(-90 2040.2 1002)">13.5</text>
<text x="2105.1" y="1002" font-size="39.6" text-anchor="end" transform="rotate(-90 2105.1 1002)">14.5</text>
<text x="2170.0" y="1002" font-size="39.6" text-anchor="end" transform="rotate(-90 2170.0 1002)">16.5</text>
<text x="2234.9" y="1002" font-size="39.6" text-anchor="end" transform="rotate(-90 2234.9 1002)">18.5</text>
<text x="2299.8" y="1002" font-size="39.6" text-anchor="end" transform="rotate(-90 2299.8 1002)">20.0</text>
<text x="2364.7" y="1002" font-size="39.6" text-anchor="end" transform="rotate(-90 2364.7 1002)">30.0</text>
<text x="2429.6" y="1002" font-size="39.6" text-anchor="end" transform="rotate(-90 2429.6 1002)">40.0</text>
<text x="1836.1" y="1122.0" font-size="45.50" fill="#000" textLength="448.5" lengthAdjust="spacingAndGlyphs">Particle diameter (µm)</text>
<text x="1663.8" y="929.4" font-size="49" transform="rotate(-90 1663.8 929.4)" textLength="212" lengthAdjust="spacingAndGlyphs">Frequency</text>
<line x1="1606" y1="636.6" x2="1764" y2="636.6" stroke="#548235" stroke-width="2"/>
<polygon points="1762.3,623.3 1791.8,636.6 1762.3,651.8" fill="#548235"/>
<rect x="771.1" y="1325.6" width="92.7" height="556.8" fill="url(#pR)" stroke="#000" stroke-width="5"/>
<rect x="863.8" y="1349.2" width="92.7" height="533.2" fill="url(#pG)" stroke="#000" stroke-width="5"/>
<rect x="1095.4" y="1536.7" width="92.7" height="345.7" fill="url(#pR)" stroke="#000" stroke-width="5"/>
<rect x="1188.1" y="1442.4" width="92.7" height="440.0" fill="url(#pG)" stroke="#000" stroke-width="5"/>
<rect x="1419.8" y="1733.1" width="92.7" height="149.3" fill="url(#pR)" stroke="#000" stroke-width="5"/>
<rect x="1512.5" y="1811.9" width="92.7" height="70.5" fill="url(#pG)" stroke="#000" stroke-width="5"/>
<rect x="1744.1" y="1820.0" width="92.7" height="62.4" fill="url(#pR)" stroke="#000" stroke-width="5"/>
<rect x="1836.8" y="1814.3" width="92.7" height="68.1" fill="url(#pG)" stroke="#000" stroke-width="5"/>
<path d="M817.4,1312.2 V1339.1 M806.4,1312.2 h22 M806.4,1339.1 h22" stroke="#6e6e6e" stroke-width="3" fill="none"/>
<path d="M910.1,1339.1 V1359.3 M899.1,1339.1 h22 M899.1,1359.3 h22" stroke="#6e6e6e" stroke-width="3" fill="none"/>
<path d="M1141.8,1527.1 V1546.2 M1130.8,1527.1 h22 M1130.8,1546.2 h22" stroke="#6e6e6e" stroke-width="3" fill="none"/>
<path d="M1234.5,1418.2 V1466.5 M1223.5,1418.2 h22 M1223.5,1466.5 h22" stroke="#6e6e6e" stroke-width="3" fill="none"/>
<path d="M1466.1,1715.7 V1750.5 M1455.1,1715.7 h22 M1455.1,1750.5 h22" stroke="#6e6e6e" stroke-width="3" fill="none"/>
<path d="M1558.8,1804.0 V1819.8 M1547.8,1804.0 h22 M1547.8,1819.8 h22" stroke="#6e6e6e" stroke-width="3" fill="none"/>
<path d="M1790.5,1813.8 V1826.2 M1779.5,1813.8 h22 M1779.5,1826.2 h22" stroke="#6e6e6e" stroke-width="3" fill="none"/>
<path d="M1883.2,1808.7 V1819.9 M1872.2,1808.7 h22 M1872.2,1819.9 h22" stroke="#6e6e6e" stroke-width="3" fill="none"/>
<path d="M701.6,1883.2 V1211.5 H1999.0 V1883.2" fill="none" stroke="#000" stroke-width="5.5"/>
<line x1="699.6" y1="1883.2" x2="2001.0" y2="1883.2" stroke="#858585" stroke-width="3.2"/>
<text x="618.6" y="1902.8" font-size="58.50" fill="#000">0</text>
<text x="586.0" y="1790.6" font-size="58.50" fill="#000">10</text>
<text x="586.0" y="1678.3" font-size="58.50" fill="#000">20</text>
<text x="586.0" y="1566.1" font-size="58.50" fill="#000">30</text>
<text x="586.0" y="1453.8" font-size="58.50" fill="#000">40</text>
<text x="586.0" y="1341.6" font-size="58.50" fill="#000">50</text>
<text x="586.0" y="1229.3" font-size="58.50" fill="#000">60</text>
<rect x="844.2" y="1246.5" width="31.2" height="30.5" fill="url(#pR)" stroke="#000" stroke-width="5"/>
<text x="885.6" y="1280.5" font-size="58.50" fill="#000" textLength="465.0" lengthAdjust="spacingAndGlyphs">CS particles 50%</text>
<rect x="1421" y="1247.6" width="31.2" height="29.5" fill="url(#pG)" stroke="#000" stroke-width="5"/>
<text x="1463.4" y="1280.4" font-size="58.50" fill="#000" textLength="463.7" lengthAdjust="spacingAndGlyphs">CS particles 40%</text>
<text x="841.2" y="1973.3" font-size="58.00" fill="#000">O</text>
<text x="1166.8" y="1973.3" font-size="58.00" fill="#000">C</text>
<text x="1493.1" y="1973.3" font-size="58.00" fill="#000">S</text>
<text x="1815.9" y="1973.3" font-size="58.00" fill="#000">N</text>
<text x="1156.0" y="2028.5" font-size="60.00" fill="#000" textLength="385.2" lengthAdjust="spacingAndGlyphs">Element types</text>
<text x="557" y="1782" font-size="60" transform="rotate(-90 557 1782)" textLength="468" lengthAdjust="spacingAndGlyphs">Wt % of elements</text>
<line x1="207.5" y1="2286.3" x2="2249" y2="2286.3" stroke="#a0a0a0" stroke-width="1.6"/>
<line x1="207.5" y1="2669.9" x2="2249" y2="2669.9" stroke="#a0a0a0" stroke-width="1.6"/>
<path d="M209.6,2103.8 L215.7,2104.1 L221.9,2103.9 L228.0,2103.4 L234.1,2103.1 L240.2,2103.3 L246.4,2103.0 L252.5,2103.4 L258.6,2102.7 L264.7,2102.8 L270.9,2102.8 L277.0,2103.1 L283.1,2102.5 L289.2,2102.1 L295.4,2102.5 L301.5,2102.3 L307.6,2101.7 L313.8,2102.4 L319.9,2102.4 L326.0,2102.1 L332.1,2102.1 L338.3,2101.2 L344.4,2101.6 L350.5,2101.7 L356.6,2101.3 L362.8,2101.0 L368.9,2100.9 L374.9,2100.5 L380.9,2101.1 L387.0,2101.4 L393.0,2101.4 L399.0,2104.3 L405.0,2106.8 L411.0,2108.6 L417.0,2111.0 L423.0,2116.9 L429.0,2121.6 L435.0,2127.6 L441.0,2132.7 L447.1,2139.4 L453.2,2145.4 L459.3,2152.9 L465.4,2159.3 L471.4,2163.4 L477.4,2168.0 L483.5,2172.0 L489.5,2176.0 L495.5,2179.7 L501.6,2184.5 L507.6,2189.2 L513.6,2193.0 L519.6,2196.3 L525.7,2200.0 L531.8,2204.3 L537.8,2207.5 L543.8,2210.2 L549.8,2213.6 L555.9,2216.3 L561.9,2219.6 L567.9,2222.6 L574.0,2224.8 L580.0,2226.7 L586.0,2229.2 L592.4,2230.3 L598.9,2232.2 L605.3,2234.0 L612.5,2234.3 L619.8,2235.0 L627.0,2234.3 L634.3,2235.0 L640.3,2233.6 L646.3,2232.3 L652.4,2230.7 L658.4,2229.2 L664.4,2227.8 L670.5,2225.6 L676.5,2224.4 L682.5,2222.0 L688.5,2218.9 L694.5,2215.6 L700.6,2212.2 L706.6,2209.0 L712.6,2206.3 L718.7,2203.3 L724.8,2200.8 L730.8,2197.9 L736.8,2195.2 L742.8,2192.7 L748.9,2190.2 L754.9,2188.2 L760.9,2186.3 L767.0,2184.3 L773.0,2182.0 L779.0,2180.0 L785.0,2176.7 L791.0,2174.8 L797.0,2172.1 L803.0,2168.9 L809.8,2169.2 L816.6,2169.0 L823.4,2168.8 L830.2,2168.7 L837.0,2168.0 L844.2,2168.3 L851.5,2168.3 L858.7,2168.9 L865.9,2168.9 L872.3,2167.8 L878.6,2167.7 L885.0,2166.5 L891.5,2162.9 L898.0,2158.9 L904.5,2154.4 L910.9,2151.3 L917.4,2148.5 L923.8,2144.8 L929.8,2143.1 L935.8,2141.1 L941.9,2139.6 L947.9,2137.6 L953.9,2137.0 L960.0,2135.7 L966.0,2134.3 L972.0,2132.7 L979.0,2131.2 L986.0,2130.9 L993.0,2129.8 L1000.0,2128.9 L1006.0,2128.4 L1012.1,2128.0 L1018.1,2126.6 L1024.1,2126.5 L1030.2,2125.1 L1036.2,2124.6 L1042.2,2124.6 L1048.2,2123.4 L1054.3,2123.3 L1060.3,2121.8 L1066.3,2121.2 L1072.4,2121.2 L1078.4,2119.7 L1084.4,2119.7 L1090.5,2119.5 L1096.5,2118.3 L1102.5,2117.9 L1108.6,2117.6 L1114.6,2116.4 L1120.6,2116.6 L1126.7,2116.1 L1132.7,2115.7 L1138.7,2115.0 L1144.8,2114.5 L1150.8,2114.8 L1156.8,2113.2 L1162.8,2112.7 L1168.9,2113.4 L1174.9,2112.0 L1180.9,2111.5 L1187.0,2111.1 L1193.0,2111.0 L1199.0,2111.1 L1205.1,2111.1 L1211.1,2109.8 L1217.1,2110.1 L1223.2,2109.5 L1229.2,2109.4 L1235.2,2109.2 L1241.2,2109.5 L1247.3,2108.9 L1253.3,2108.5 L1259.3,2108.7 L1265.4,2107.9 L1271.4,2107.8 L1277.4,2108.6 L1283.5,2107.5 L1289.5,2107.6 L1295.5,2107.1 L1301.6,2107.3 L1307.6,2107.1 L1313.6,2106.9 L1319.7,2105.7 L1325.7,2106.0 L1331.7,2106.1 L1337.8,2104.7 L1343.8,2105.1 L1349.8,2105.0 L1355.8,2104.1 L1361.9,2103.7 L1367.9,2103.8 L1373.9,2103.3 L1380.0,2102.7 L1386.0,2102.8 L1392.0,2102.4 L1398.1,2101.9 L1404.1,2101.7 L1410.1,2101.2 L1416.2,2100.6 L1422.2,2100.3 L1428.2,2100.4 L1434.2,2099.4 L1440.3,2099.3 L1446.3,2098.3 L1452.3,2098.8 L1458.4,2097.9 L1464.4,2097.1 L1470.4,2097.0 L1476.5,2096.6 L1482.5,2096.5 L1488.5,2096.5 L1494.6,2095.3 L1500.6,2094.7 L1506.7,2094.3 L1512.7,2094.5 L1518.8,2093.6 L1524.8,2093.0 L1530.8,2092.6 L1536.9,2091.7 L1542.9,2091.2 L1549.0,2091.0 L1555.0,2090.3 L1562.2,2089.9 L1569.5,2090.3 L1576.7,2090.6 L1583.9,2091.0 L1594.7,2097.1 L1603.4,2115.6 L1611.0,2128.6 L1617.5,2152.5 L1625.1,2200.3 L1629.5,2230.7 L1639.3,2291.5 L1646.9,2311.0 L1655.5,2324.0 L1665.3,2343.6 L1671.8,2330.6 L1677.3,2306.7 L1686.0,2280.6 L1694.6,2278.4 L1705.5,2256.7 L1709.8,2230.7 L1716.3,2226.3 L1722.8,2191.6 L1727.2,2178.6 L1733.7,2172.0 L1744.6,2165.5 L1755.4,2168.8 L1766.3,2187.2 L1775.0,2224.2 L1785.8,2258.9 L1794.5,2235.0 L1801.0,2230.7 L1807.5,2247.0 L1815.1,2217.6 L1820.6,2206.8 L1831.4,2188.3 L1839.0,2186.2 L1846.6,2196.0 L1853.1,2200.0 L1859.6,2204.6 L1866.1,2232.8 L1874.8,2287.0 L1880.3,2308.8 L1890.0,2334.9 L1899.8,2361.0 L1906.7,2355.6 L1911.2,2322.2 L1915.6,2279.8 L1917.9,2241.8 L1922.3,2226.2 L1927.9,2210.6 L1932.4,2217.3 L1936.8,2241.8 L1944.6,2257.5 L1951.3,2268.6 L1959.1,2294.3 L1969.2,2297.6 L1975.9,2304.3 L1982.6,2335.6 L1989.3,2371.3 L1996.0,2418.1 L2002.7,2449.4 L2011.6,2471.7 L2016.0,2489.6 L2021.6,2491.8 L2027.2,2489.6 L2033.9,2444.9 L2042.8,2393.6 L2047.3,2389.1 L2054.0,2346.7 L2060.7,2311.0 L2067.4,2307.7 L2075.2,2324.4 L2083.0,2340.0 L2088.6,2326.6 L2094.2,2279.8 L2097.5,2266.4 L2102.0,2244.1 L2108.7,2235.1 L2116.5,2216.2 L2121.0,2226.2 L2124.3,2270.9 L2132.0,2286.5 L2139.9,2259.7 L2147.7,2249.6 L2156.6,2253.0 L2165.6,2263.0 L2176.7,2266.4 L2183.4,2277.5 L2190.1,2293.2 L2196.8,2308.8 L2204.6,2344.5 L2212.4,2349.0 L2221.4,2345.6 L2232.5,2346.7 L2241.4,2355.6 L2248.1,2372.4 L2251.5,2373.5" fill="none" stroke="#000" stroke-width="2.3" stroke-linejoin="round"/>
<path d="M209.6,2287.0 L215.8,2286.6 L221.9,2287.4 L228.1,2287.3 L234.2,2286.7 L240.4,2287.0 L246.5,2286.9 L252.7,2287.2 L258.8,2287.3 L265.0,2286.5 L271.1,2286.4 L277.3,2287.4 L283.4,2286.9 L289.6,2287.3 L295.7,2286.4 L301.9,2286.9 L308.0,2287.3 L314.2,2286.7 L320.3,2287.5 L326.5,2287.5 L332.6,2286.4 L338.8,2286.4 L344.9,2287.0 L351.1,2287.5 L357.2,2286.9 L363.4,2286.7 L369.5,2286.9 L375.7,2286.4 L381.8,2286.7 L388.0,2287.0 L394.5,2288.6 L401.0,2290.3 L407.5,2292.0 L413.5,2296.4 L419.6,2301.2 L425.6,2305.9 L431.6,2311.0 L437.6,2318.9 L443.6,2326.5 L449.7,2334.1 L455.7,2342.6 L461.8,2349.0 L467.8,2354.7 L473.8,2360.8 L479.9,2366.7 L486.6,2371.6 L493.4,2377.9 L500.1,2383.1 L506.9,2387.5 L513.6,2393.3 L519.6,2396.7 L525.7,2400.8 L531.8,2404.4 L537.8,2407.8 L543.8,2411.3 L549.8,2413.7 L555.9,2417.2 L561.9,2419.8 L567.9,2421.8 L574.0,2423.2 L580.0,2425.3 L586.0,2427.0 L592.0,2428.4 L598.0,2429.4 L604.0,2429.9 L610.0,2430.9 L616.1,2430.7 L622.1,2429.6 L628.2,2429.5 L634.3,2429.5 L640.3,2428.0 L646.3,2425.7 L652.4,2423.6 L658.4,2422.2 L664.4,2419.9 L670.5,2417.6 L676.5,2415.2 L682.5,2412.6 L688.5,2408.8 L694.5,2405.2 L700.6,2401.7 L706.6,2398.0 L712.6,2394.1 L718.7,2389.6 L724.8,2385.3 L730.8,2381.2 L736.8,2378.4 L742.8,2375.0 L748.9,2372.3 L754.9,2370.0 L760.9,2367.0 L767.0,2364.1 L773.0,2360.4 L779.0,2357.0 L785.0,2353.6 L791.0,2350.1 L797.0,2347.3 L803.0,2344.0 L810.3,2342.8 L817.5,2340.9 L824.8,2338.8 L833.2,2343.9 L841.7,2348.9 L847.8,2349.0 L853.8,2347.8 L859.9,2347.8 L865.9,2347.4 L871.9,2346.7 L878.0,2345.1 L884.0,2343.8 L890.0,2342.6 L896.0,2338.1 L902.0,2334.2 L908.0,2330.5 L914.0,2325.7 L920.0,2322.9 L926.1,2321.7 L932.2,2319.6 L938.2,2317.0 L945.0,2316.3 L951.7,2315.0 L958.5,2314.0 L965.2,2312.5 L972.0,2311.3 L979.0,2310.1 L986.0,2308.8 L993.0,2307.1 L1000.0,2306.4 L1006.0,2306.4 L1012.1,2305.6 L1018.1,2304.7 L1024.1,2304.6 L1030.2,2304.2 L1036.2,2303.6 L1042.2,2303.1 L1048.3,2302.9 L1054.3,2302.6 L1060.3,2302.1 L1066.4,2301.5 L1072.4,2300.5 L1078.4,2300.3 L1084.5,2299.8 L1090.5,2299.9 L1096.5,2299.8 L1102.6,2299.2 L1108.6,2298.8 L1114.6,2298.4 L1120.7,2297.3 L1126.7,2297.5 L1132.7,2296.9 L1138.8,2295.7 L1144.8,2295.8 L1150.8,2295.3 L1156.9,2295.3 L1162.9,2296.2 L1168.9,2295.7 L1174.9,2295.5 L1181.0,2296.2 L1187.0,2295.9 L1193.0,2295.6 L1199.1,2295.8 L1205.1,2296.2 L1211.1,2295.9 L1217.2,2296.0 L1223.2,2296.6 L1229.2,2296.3 L1235.2,2296.2 L1241.3,2296.4 L1247.3,2295.9 L1253.3,2296.4 L1259.4,2296.5 L1265.4,2296.3 L1271.4,2296.2 L1277.4,2297.2 L1283.5,2296.8 L1289.5,2296.8 L1295.5,2296.3 L1301.6,2296.6 L1307.6,2296.7 L1313.6,2295.6 L1319.7,2295.5 L1325.7,2295.5 L1331.7,2296.0 L1337.8,2295.2 L1343.8,2295.7 L1349.8,2295.5 L1355.8,2295.2 L1361.9,2294.7 L1367.9,2295.4 L1373.9,2295.1 L1380.0,2294.6 L1386.0,2294.4 L1392.0,2293.8 L1398.1,2294.1 L1404.1,2293.5 L1410.1,2293.5 L1416.2,2293.0 L1422.2,2293.1 L1428.2,2292.2 L1434.2,2292.2 L1440.3,2292.8 L1446.3,2292.4 L1452.3,2291.5 L1458.4,2291.9 L1464.4,2291.0 L1470.4,2291.5 L1476.5,2291.0 L1482.5,2290.5 L1489.0,2290.3 L1495.4,2290.1 L1501.9,2289.7 L1508.3,2290.7 L1514.8,2289.6 L1521.2,2290.5 L1527.7,2290.6 L1534.2,2290.1 L1540.6,2289.5 L1547.1,2290.3 L1553.5,2290.3 L1560.0,2289.7 L1568.2,2289.9 L1576.3,2289.7 L1588.2,2295.8 L1595.5,2303.0 L1602.7,2310.1 L1610.0,2317.5 L1620.8,2348.0 L1625.1,2367.5 L1633.8,2417.4 L1642.5,2473.9 L1651.2,2491.3 L1657.7,2504.3 L1664.2,2526.0 L1670.7,2536.9 L1675.1,2530.3 L1679.4,2489.1 L1684.8,2476.0 L1692.5,2469.5 L1701.1,2466.3 L1709.8,2447.8 L1720.7,2413.0 L1727.2,2380.5 L1738.0,2369.6 L1748.9,2367.5 L1755.4,2370.6 L1761.9,2374.0 L1768.5,2383.4 L1775.0,2393.5 L1781.5,2430.4 L1791.2,2468.4 L1798.8,2443.5 L1804.3,2437.0 L1813.0,2452.0 L1820.6,2419.6 L1827.1,2403.5 L1833.6,2387.0 L1841.2,2383.7 L1848.8,2397.9 L1855.3,2400.0 L1861.8,2402.2 L1870.5,2434.8 L1877.0,2460.8 L1885.7,2508.6 L1890.0,2519.5 L1897.6,2543.4 L1904.1,2560.7 L1909.6,2556.4 L1916.1,2504.3 L1922.3,2450.0 L1926.5,2432.0 L1932.4,2423.7 L1936.0,2436.0 L1941.3,2456.7 L1949.1,2470.0 L1955.8,2479.0 L1967.0,2503.6 L1975.9,2504.7 L1982.6,2512.5 L1989.3,2539.3 L1993.7,2575.0 L1998.2,2606.2 L2002.7,2619.6 L2009.4,2650.8 L2013.8,2664.2 L2018.3,2682.0 L2025.0,2690.0 L2031.7,2690.0 L2036.1,2650.8 L2041.7,2624.0 L2047.3,2610.7 L2054.0,2583.9 L2059.6,2550.4 L2062.9,2530.3 L2073.0,2521.4 L2080.8,2539.3 L2089.7,2556.0 L2094.2,2528.1 L2096.4,2501.3 L2099.7,2483.5 L2105.3,2462.0 L2112.0,2450.0 L2119.8,2441.6 L2123.0,2449.4 L2127.6,2482.8 L2132.5,2502.0 L2137.0,2490.0 L2143.2,2466.0 L2149.9,2462.6 L2156.6,2460.0 L2166.7,2471.2 L2173.9,2472.4 L2181.2,2474.5 L2187.9,2492.4 L2196.8,2503.6 L2205.7,2532.6 L2211.3,2552.7 L2221.4,2550.4 L2228.0,2542.6 L2237.0,2543.7 L2241.4,2549.3 L2247.0,2554.9 L2249.3,2561.6" fill="none" stroke="#000" stroke-width="2.3" stroke-linejoin="round"/>
<path d="M209.6,2484.7 L215.7,2485.2 L221.9,2485.2 L228.0,2484.2 L234.2,2484.2 L240.3,2485.1 L246.5,2485.0 L252.6,2484.9 L258.7,2484.5 L264.9,2484.8 L271.0,2484.8 L277.2,2484.8 L283.3,2484.3 L289.5,2484.6 L295.6,2484.6 L301.7,2485.0 L307.9,2485.3 L314.0,2485.2 L320.2,2484.8 L326.3,2484.6 L332.4,2484.4 L338.6,2484.1 L344.7,2484.1 L350.9,2484.7 L357.0,2484.5 L363.2,2484.6 L369.3,2485.2 L375.4,2484.7 L381.6,2484.8 L387.7,2484.4 L393.9,2484.1 L400.0,2484.5 L406.2,2484.3 L412.3,2484.7 L418.7,2488.4 L425.2,2492.7 L431.6,2495.8 L438.0,2502.4 L444.5,2508.2 L450.9,2515.0 L456.9,2521.5 L462.9,2527.5 L469.0,2533.5 L475.0,2539.3 L481.0,2544.0 L487.0,2548.0 L493.0,2552.2 L499.0,2556.0 L506.2,2560.1 L513.5,2565.1 L520.8,2569.3 L528.0,2573.0 L535.2,2576.2 L542.5,2580.6 L549.8,2584.1 L557.0,2587.5 L564.2,2589.3 L571.5,2591.2 L578.8,2593.0 L586.0,2594.8 L592.8,2595.8 L599.5,2595.8 L606.3,2596.6 L613.0,2596.5 L619.8,2597.2 L626.6,2596.9 L633.3,2596.1 L640.1,2594.8 L646.8,2594.2 L653.6,2593.3 L660.8,2592.0 L668.0,2589.9 L675.3,2587.8 L682.5,2586.0 L688.5,2583.3 L694.5,2581.0 L700.6,2579.0 L706.6,2576.4 L712.6,2573.3 L718.7,2571.6 L724.8,2568.2 L730.8,2565.8 L736.8,2564.1 L742.8,2561.2 L748.9,2559.7 L754.9,2557.0 L760.9,2554.6 L767.0,2551.8 L773.0,2549.1 L779.0,2546.5 L786.2,2543.8 L793.5,2540.8 L800.7,2537.8 L807.3,2536.7 L813.9,2535.7 L820.4,2535.3 L827.0,2534.4 L834.4,2539.7 L841.7,2544.0 L847.8,2544.5 L853.8,2544.2 L859.9,2545.5 L865.9,2545.5 L872.3,2543.2 L878.6,2540.9 L885.0,2537.8 L891.1,2534.8 L897.1,2532.8 L903.2,2529.3 L909.3,2527.2 L915.3,2524.4 L921.3,2520.9 L927.4,2517.8 L933.4,2515.1 L940.6,2514.4 L947.9,2512.2 L955.1,2511.5 L962.4,2510.3 L968.7,2509.9 L974.9,2508.4 L981.2,2507.6 L987.5,2507.6 L993.7,2506.2 L1000.0,2505.5 L1006.0,2505.4 L1012.1,2504.1 L1018.1,2504.1 L1024.1,2503.5 L1030.2,2503.7 L1036.2,2502.6 L1042.2,2503.2 L1048.3,2501.7 L1054.3,2502.2 L1060.3,2500.9 L1066.4,2500.8 L1072.4,2500.7 L1078.4,2500.6 L1084.5,2499.4 L1090.5,2498.9 L1096.5,2499.1 L1102.6,2498.3 L1108.6,2497.4 L1114.6,2498.1 L1120.7,2496.6 L1126.7,2496.0 L1132.7,2495.9 L1138.8,2495.8 L1144.8,2495.2 L1150.8,2495.5 L1156.8,2494.7 L1162.8,2495.0 L1168.9,2494.6 L1174.9,2495.1 L1180.9,2495.5 L1186.9,2495.5 L1192.9,2495.7 L1199.0,2495.5 L1205.0,2495.6 L1211.0,2495.4 L1217.0,2495.2 L1223.0,2495.3 L1229.1,2495.2 L1235.1,2495.8 L1241.2,2495.6 L1247.2,2495.5 L1253.2,2496.0 L1259.3,2496.7 L1265.3,2496.0 L1271.4,2496.7 L1277.4,2496.6 L1283.5,2496.9 L1289.5,2497.0 L1295.5,2496.6 L1301.6,2497.6 L1307.6,2496.7 L1313.6,2497.1 L1319.7,2496.9 L1325.7,2497.0 L1331.7,2496.1 L1337.8,2496.5 L1343.8,2495.7 L1349.8,2495.3 L1355.9,2494.9 L1361.9,2495.2 L1367.9,2494.2 L1374.0,2493.5 L1380.0,2493.6 L1386.0,2492.8 L1392.1,2492.8 L1398.1,2492.1 L1404.1,2491.6 L1410.2,2490.1 L1416.2,2489.7 L1422.2,2488.9 L1428.3,2488.7 L1434.3,2488.0 L1440.3,2487.8 L1446.3,2487.6 L1452.4,2487.1 L1458.4,2486.1 L1464.4,2485.9 L1470.4,2485.7 L1476.5,2484.7 L1482.5,2484.3 L1488.5,2484.4 L1494.5,2483.6 L1500.6,2484.0 L1506.6,2483.3 L1513.3,2482.8 L1519.9,2482.5 L1526.6,2482.5 L1533.3,2482.4 L1540.0,2482.2 L1546.7,2482.4 L1553.3,2482.2 L1560.0,2482.1 L1567.2,2481.9 L1574.5,2482.3 L1581.7,2482.1 L1590.4,2488.0 L1596.9,2496.4 L1603.4,2505.4 L1612.1,2519.5 L1616.5,2523.8 L1621.9,2541.2 L1629.5,2580.3 L1634.9,2599.8 L1642.5,2636.7 L1651.2,2660.6 L1657.7,2678.0 L1664.2,2704.0 L1671.8,2734.4 L1678.3,2715.0 L1683.8,2701.9 L1691.4,2688.8 L1696.8,2654.1 L1703.3,2645.4 L1709.8,2615.0 L1716.3,2597.6 L1720.7,2582.5 L1729.4,2567.3 L1735.9,2567.4 L1742.4,2567.1 L1748.9,2566.2 L1759.8,2571.6 L1769.5,2578.1 L1775.0,2597.6 L1779.3,2619.4 L1785.8,2658.4 L1792.3,2673.6 L1796.7,2662.8 L1801.0,2655.2 L1806.4,2671.5 L1811.9,2669.3 L1818.4,2610.7 L1827.1,2578.1 L1836.8,2566.2 L1844.4,2574.9 L1851.0,2576.2 L1857.5,2577.0 L1865.1,2589.0 L1874.8,2634.6 L1881.3,2654.1 L1885.7,2680.2 L1892.2,2717.1 L1897.6,2736.6 L1904.1,2743.1 L1909.6,2738.8 L1913.4,2729.0 L1916.1,2710.6 L1917.9,2697.7 L1922.3,2688.8 L1931.2,2676.5 L1939.0,2695.5 L1950.2,2711.1 L1958.0,2737.9 L1963.6,2755.7 L1971.4,2762.4 L1978.1,2763.5 L1989.3,2769.1 L1996.0,2782.5 L2000.4,2800.0 L2004.9,2851.0 L2009.4,2867.0 L2013.8,2884.8 L2017.2,2867.0 L2021.6,2851.0 L2025.0,2838.0 L2029.4,2824.5 L2034.0,2800.0 L2045.0,2744.6 L2056.0,2708.9 L2065.0,2677.6 L2069.6,2674.3 L2078.5,2680.0 L2085.2,2691.0 L2089.7,2675.4 L2094.2,2633.0 L2100.8,2621.8 L2109.8,2624.0 L2114.2,2633.0 L2121.0,2634.0 L2127.6,2657.5 L2136.6,2642.0 L2145.5,2630.8 L2153.3,2626.3 L2160.6,2631.8 L2167.8,2637.5 L2176.8,2643.1 L2185.7,2648.6 L2190.0,2664.0 L2199.0,2691.0 L2205.7,2706.6 L2216.9,2703.3 L2223.6,2696.6 L2228.0,2706.6 L2234.7,2720.0 L2243.7,2729.0 L2250.4,2740.0" fill="none" stroke="#000" stroke-width="2.3" stroke-linejoin="round"/>
<path d="M209.6,2673.0 L215.7,2672.7 L221.8,2673.1 L227.9,2672.8 L234.1,2673.1 L240.2,2673.2 L246.3,2672.5 L252.4,2672.4 L258.5,2673.4 L264.6,2672.7 L270.7,2672.7 L276.8,2673.6 L283.0,2673.0 L289.1,2673.4 L295.2,2673.0 L301.3,2673.2 L307.4,2672.6 L313.5,2673.2 L319.6,2673.4 L325.8,2673.0 L331.9,2673.3 L338.0,2673.2 L344.1,2672.5 L350.2,2673.3 L356.3,2673.1 L362.4,2672.8 L368.5,2672.4 L374.7,2673.4 L380.8,2673.0 L386.9,2673.3 L393.0,2673.0 L399.0,2675.0 L405.0,2676.4 L411.0,2678.2 L417.0,2679.2 L423.1,2684.5 L429.1,2690.5 L435.2,2695.5 L441.3,2701.0 L447.3,2708.1 L453.4,2714.7 L459.4,2720.3 L465.4,2727.4 L471.4,2731.8 L477.4,2736.7 L483.5,2742.4 L489.5,2746.7 L496.8,2751.4 L504.0,2756.5 L511.2,2760.9 L518.5,2766.0 L525.7,2770.0 L533.0,2773.9 L540.2,2777.8 L547.4,2782.0 L554.6,2784.5 L561.9,2786.9 L569.1,2789.7 L576.4,2791.6 L582.4,2792.7 L588.5,2793.8 L594.5,2794.6 L600.5,2795.0 L607.3,2795.6 L614.0,2795.2 L620.8,2794.6 L627.5,2795.4 L634.3,2795.0 L640.3,2794.4 L646.3,2793.1 L652.4,2791.5 L658.4,2790.2 L664.4,2788.7 L670.5,2786.3 L676.5,2785.2 L682.5,2783.0 L688.5,2780.4 L694.5,2777.4 L700.6,2774.5 L706.6,2772.3 L712.6,2769.3 L718.7,2766.1 L724.8,2761.7 L730.8,2758.8 L736.8,2757.0 L742.8,2754.3 L748.9,2751.8 L754.9,2750.0 L760.9,2747.1 L767.0,2745.1 L773.0,2742.6 L779.0,2739.5 L785.8,2736.3 L792.5,2734.2 L799.3,2730.9 L806.0,2729.0 L812.8,2726.0 L818.8,2726.1 L824.8,2727.2 L830.9,2727.6 L836.9,2727.4 L842.9,2727.8 L849.0,2728.7 L855.0,2728.3 L861.0,2728.9 L867.0,2726.2 L873.0,2724.7 L879.0,2721.8 L885.0,2720.2 L892.2,2716.8 L899.5,2714.0 L906.8,2711.2 L914.0,2708.0 L920.0,2705.8 L926.1,2704.0 L932.2,2703.2 L938.2,2701.0 L945.0,2699.8 L951.7,2699.6 L958.5,2698.5 L965.2,2696.9 L972.0,2696.0 L979.0,2695.5 L986.0,2695.2 L993.0,2694.9 L1000.0,2694.3 L1006.0,2694.0 L1012.1,2693.5 L1018.1,2693.1 L1024.1,2693.0 L1030.2,2692.0 L1036.2,2691.5 L1042.2,2691.4 L1048.3,2690.3 L1054.3,2689.9 L1060.3,2690.3 L1066.4,2689.3 L1072.4,2688.8 L1078.4,2688.6 L1084.5,2687.6 L1090.5,2687.8 L1096.5,2687.7 L1102.6,2686.7 L1108.6,2687.1 L1114.6,2686.9 L1120.7,2685.9 L1126.7,2686.3 L1132.7,2685.8 L1138.8,2685.7 L1144.8,2685.2 L1150.8,2685.0 L1156.8,2685.4 L1162.8,2685.5 L1168.9,2684.6 L1174.9,2684.7 L1180.9,2685.4 L1186.9,2685.8 L1192.9,2684.9 L1199.0,2685.1 L1205.0,2685.3 L1211.0,2685.0 L1217.0,2685.2 L1223.0,2685.2 L1229.1,2685.3 L1235.1,2685.5 L1241.2,2685.9 L1247.2,2685.7 L1253.2,2686.0 L1259.3,2686.6 L1265.3,2685.8 L1271.4,2686.6 L1277.4,2687.0 L1283.5,2686.6 L1289.5,2687.0 L1295.5,2687.0 L1301.6,2688.0 L1307.6,2687.6 L1313.6,2687.8 L1319.7,2688.4 L1325.7,2688.8 L1331.7,2688.1 L1337.8,2686.5 L1343.8,2685.9 L1349.8,2685.0 L1355.9,2684.7 L1361.9,2683.4 L1367.9,2682.9 L1374.0,2682.9 L1380.0,2681.7 L1386.0,2681.4 L1392.1,2681.3 L1398.1,2681.2 L1404.1,2680.2 L1410.2,2679.5 L1416.2,2678.9 L1422.2,2678.9 L1428.3,2678.1 L1434.3,2678.0 L1440.3,2677.9 L1446.3,2677.5 L1452.4,2676.3 L1458.4,2675.9 L1464.4,2676.1 L1470.4,2675.5 L1476.5,2675.2 L1482.5,2674.2 L1488.5,2673.5 L1494.5,2673.3 L1500.6,2673.4 L1506.6,2672.6 L1512.6,2672.0 L1518.7,2671.8 L1524.7,2671.5 L1530.8,2671.2 L1536.8,2670.9 L1542.9,2671.2 L1548.9,2669.9 L1555.0,2669.4 L1561.0,2669.7 L1568.7,2670.4 L1575.2,2672.5 L1581.7,2673.6 L1591.5,2676.9 L1603.4,2691.0 L1612.1,2701.9 L1620.8,2725.8 L1629.5,2775.7 L1638.2,2806.1 L1644.7,2836.5 L1653.4,2847.6 L1657.7,2869.5 L1662.0,2893.4 L1668.6,2921.6 L1671.8,2930.3 L1676.2,2929.2 L1681.6,2912.9 L1690.3,2895.5 L1694.6,2880.3 L1699.0,2858.6 L1703.3,2845.6 L1709.8,2808.3 L1714.2,2790.9 L1720.7,2784.4 L1729.4,2760.5 L1738.0,2752.5 L1746.0,2753.0 L1753.9,2753.1 L1761.9,2752.5 L1770.6,2762.7 L1775.0,2780.0 L1781.5,2819.1 L1783.6,2828.2 L1791.2,2867.3 L1795.6,2853.9 L1801.0,2850.0 L1805.4,2856.0 L1809.7,2869.5 L1815.1,2832.2 L1820.6,2793.0 L1829.2,2764.8 L1836.8,2756.2 L1844.4,2767.0 L1855.3,2766.0 L1864.0,2775.7 L1870.5,2801.7 L1879.2,2832.4 L1887.9,2862.5 L1892.2,2879.9 L1895.5,2897.7 L1903.0,2929.2 L1906.0,2929.4 L1911.2,2922.7 L1915.6,2907.0 L1920.0,2880.0 L1922.3,2875.9 L1926.8,2862.5 L1932.4,2855.8 L1939.0,2873.6 L1946.3,2885.8 L1953.6,2898.2 L1960.3,2927.2 L1967.0,2948.4 L1978.1,2947.3 L1988.2,2950.6 L1996.0,2960.7 L2000.4,2971.8 L2004.9,2998.6 L2009.4,3032.0 L2012.7,3071.1 L2016.0,3071.1 L2020.5,3045.5 L2025.0,3018.7 L2029.4,3007.5 L2033.9,2969.6 L2037.2,2962.9 L2042.8,2945.0 L2049.5,2916.0 L2056.2,2889.3 L2060.7,2867.0 L2069.6,2853.6 L2078.5,2864.7 L2087.5,2873.6 L2091.9,2853.6 L2096.4,2822.3 L2100.8,2804.5 L2103.0,2801.8 L2109.8,2808.9 L2121.0,2817.9 L2123.2,2826.8 L2129.9,2840.2 L2136.6,2826.8 L2143.3,2819.0 L2154.4,2814.5 L2165.6,2824.5 L2176.7,2827.9 L2185.7,2839.0 L2190.1,2846.9 L2196.8,2864.7 L2203.5,2893.7 L2208.0,2898.2 L2214.7,2896.0 L2223.6,2891.5 L2228.0,2898.2 L2234.7,2904.9 L2239.2,2911.6 L2248.1,2922.7" fill="none" stroke="#000" stroke-width="2.3" stroke-linejoin="round"/>
<rect x="207.5" y="2084.8" width="2048.0" height="1018.7" fill="none" stroke="#000" stroke-width="4.4"/>
<rect x="1940.2" y="2247.4" width="119.4" height="836.5" fill="none" stroke="#000" stroke-width="4" stroke-dasharray="4 4.6"/>
<line x1="2133.2" y1="2205" x2="2133.2" y2="2874" stroke="#8a8a8a" stroke-width="2" stroke-dasharray="2 2"/>
<polygon points="2119.8,2873.2 2147.3,2873.2 2133.2,2901.5" fill="#000"/>
<text x="1222.7" y="2156.9" font-size="47.50" fill="#000" textLength="224.6" lengthAdjust="spacingAndGlyphs">Linear CS</text>
<text x="1173.5" y="2363.4" font-size="47.50" fill="#000" textLength="383.3" lengthAdjust="spacingAndGlyphs">CS particles 20%</text>
<text x="1175.5" y="2544.8" font-size="47.50" fill="#000" textLength="382.9" lengthAdjust="spacingAndGlyphs">CS particles 40%</text>
<text x="1175.5" y="2741.3" font-size="47.50" fill="#000" textLength="382.9" lengthAdjust="spacingAndGlyphs">CS particles 50%</text>
<text x="1833.3" y="2142.9" font-size="40.00" fill="#000" textLength="336.8" lengthAdjust="spacingAndGlyphs">1110 and 1050 cm</text>
<text x="2169.9" y="2130.2" font-size="26.00" fill="#000" textLength="25.2" lengthAdjust="spacingAndGlyphs">−1</text>
<text x="1849.6" y="2189.7" font-size="40.00" fill="#000" textLength="342.5" lengthAdjust="spacingAndGlyphs">S=O from sulfoxide</text>
<text x="836.8" y="2773.0" font-size="38.50" fill="#000" textLength="166.0" lengthAdjust="spacingAndGlyphs">2934 cm</text>
<text x="1002.2" y="2759.0" font-size="24.00" fill="#000" textLength="18.6" lengthAdjust="spacingAndGlyphs">−1</text>
<text x="839.3" y="2822.0" font-size="38.50" fill="#000" textLength="81.0" lengthAdjust="spacingAndGlyphs">–CH</text>
<text x="916.8" y="2831.0" font-size="25.00" fill="#000" textLength="13.4" lengthAdjust="spacingAndGlyphs">2</text>
<text x="482.4" y="2859.3" font-size="38.50" fill="#000" textLength="278.4" lengthAdjust="spacingAndGlyphs">3600–3000 cm</text>
<text x="764.1" y="2845.0" font-size="24.00" fill="#000" textLength="21.7" lengthAdjust="spacingAndGlyphs">−1</text>
<text x="484.0" y="2906.3" font-size="38.50" fill="#000" textLength="249.2" lengthAdjust="spacingAndGlyphs">–OH and –NH</text>
<text x="1456.3" y="2892.0" font-size="38.50" fill="#000" textLength="166.6" lengthAdjust="spacingAndGlyphs">1606 cm</text>
<text x="1621.2" y="2878.0" font-size="24.00" fill="#000" textLength="17.5" lengthAdjust="spacingAndGlyphs">−1</text>
<text x="1445.3" y="2940.4" font-size="38.50" fill="#000" textLength="210.7" lengthAdjust="spacingAndGlyphs">amide band</text>
<text x="1753.3" y="2965.0" font-size="38.50" fill="#000" textLength="161.5" lengthAdjust="spacingAndGlyphs">1223 cm</text>
<text x="1913.2" y="2951.0" font-size="24.00" fill="#000" textLength="18.6" lengthAdjust="spacingAndGlyphs">−1</text>
<text x="1805.7" y="3011.7" font-size="38.50" fill="#000" textLength="82.0" lengthAdjust="spacingAndGlyphs">S=O</text>
<text x="2073.4" y="2956.2" font-size="38.50" fill="#000" textLength="138.4" lengthAdjust="spacingAndGlyphs">849 cm</text>
<text x="2211.1" y="2942.0" font-size="24.00" fill="#000" textLength="20.0" lengthAdjust="spacingAndGlyphs">−1</text>
<text x="2088.8" y="3004.2" font-size="38.50" fill="#000" textLength="127.7" lengthAdjust="spacingAndGlyphs">C–O–S</text>
<text x="193.3" y="3182.5" font-size="58.50" fill="#000" textLength="133.8" lengthAdjust="spacingAndGlyphs">4000</text>
<text x="442.6" y="3182.5" font-size="58.50" fill="#000" textLength="138.4" lengthAdjust="spacingAndGlyphs">3500</text>
<text x="729.2" y="3182.5" font-size="58.50" fill="#000" textLength="138.2" lengthAdjust="spacingAndGlyphs">3000</text>
<text x="1065.6" y="3182.5" font-size="58.50" fill="#000" textLength="140.9" lengthAdjust="spacingAndGlyphs">2500</text>
<text x="1367.6" y="3182.5" font-size="58.50" fill="#000" textLength="138.1" lengthAdjust="spacingAndGlyphs">2000</text>
<text x="1656.9" y="3182.5" font-size="58.50" fill="#000" textLength="135.3" lengthAdjust="spacingAndGlyphs">1500</text>
<text x="1977.5" y="3182.5" font-size="58.50" fill="#000" textLength="137.9" lengthAdjust="spacingAndGlyphs">1000</text>
<text x="2192.8" y="3182.5" font-size="58.50" fill="#000" textLength="106.7" lengthAdjust="spacingAndGlyphs">650</text>
<text x="1075.4" y="3259.6" font-size="58.50" fill="#000" textLength="490.7" lengthAdjust="spacingAndGlyphs">Wavenumber (cm</text>
<text x="1564.7" y="3236.0" font-size="36.00" fill="#000" textLength="30.6" lengthAdjust="spacingAndGlyphs">−1</text>
<text x="1596.7" y="3259.6" font-size="58.50" fill="#000" textLength="19.7" lengthAdjust="spacingAndGlyphs">)</text>
<text x="168.8" y="2600.3" font-size="61" transform="rotate(-90 168.8 2600.3)" textLength="101" lengthAdjust="spacingAndGlyphs">T %</text>
</svg>
</body></html>
